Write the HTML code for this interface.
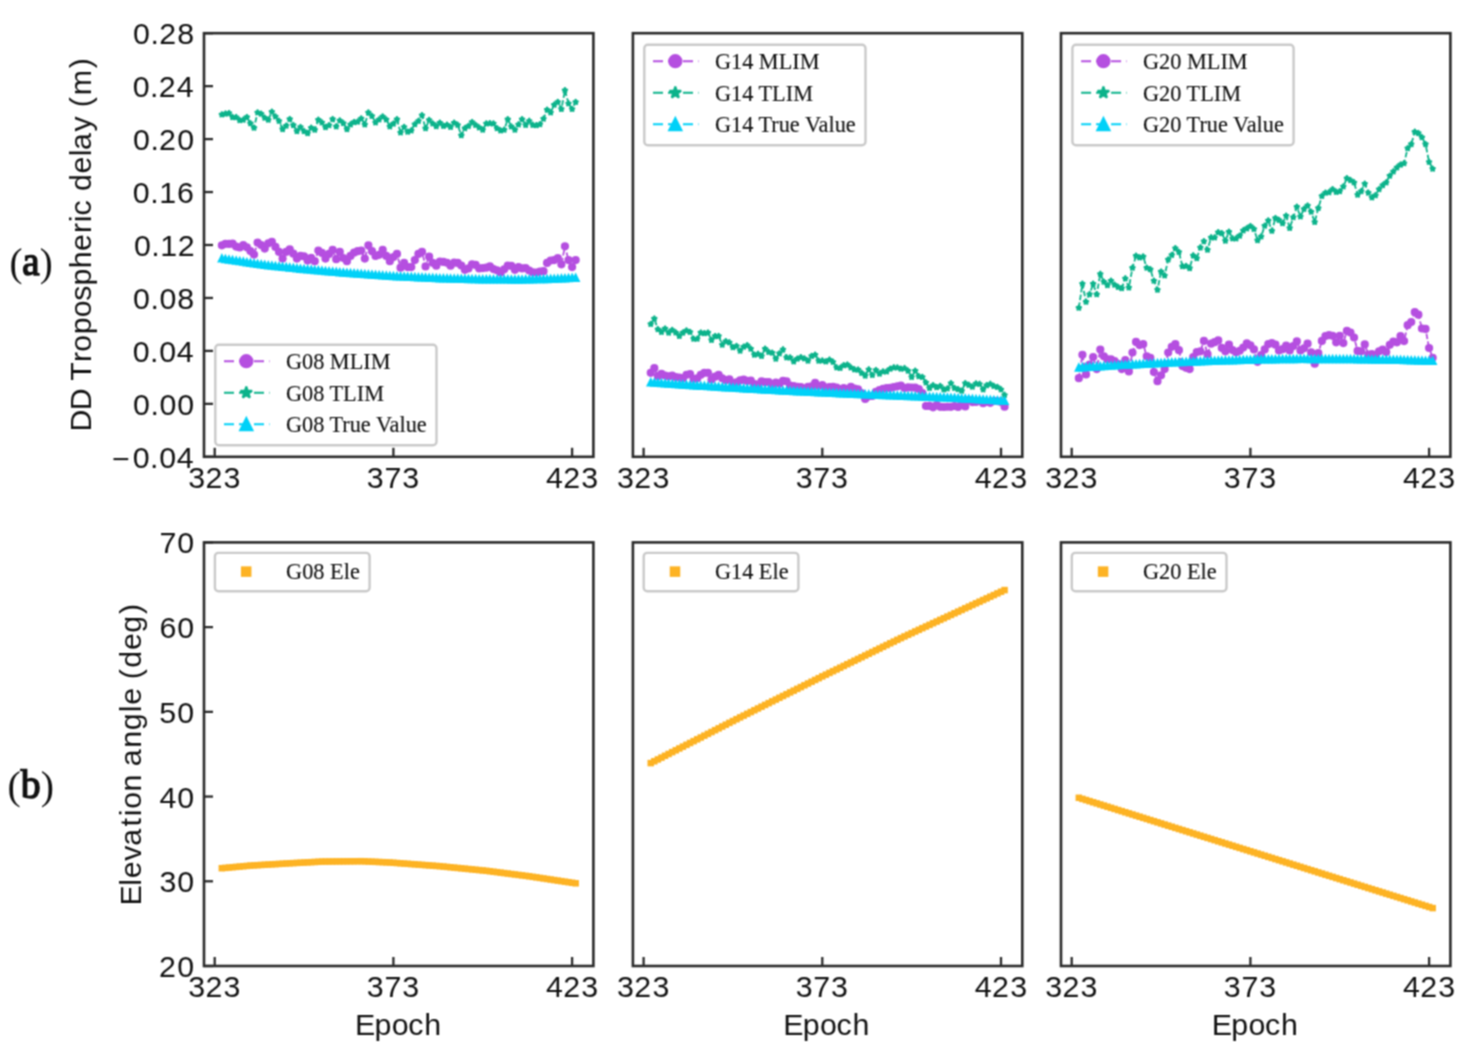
<!DOCTYPE html>
<html><head><meta charset="utf-8"><title>DD Tropospheric delay</title>
<style>html,body{margin:0;padding:0;background:#fff;}body{width:1474px;height:1060px;overflow:hidden;font-family:"Liberation Sans",sans-serif;}svg{display:block;;}</style>
</head><body>
<svg width="1474" height="1060" viewBox="0 0 1474 1060">
<filter id="soft" color-interpolation-filters="sRGB" x="0" y="0" width="100%" height="100%" filterUnits="userSpaceOnUse"><feConvolveMatrix order="3" kernelMatrix="0.2500 0.5000 0.2500 0.5000 1.0000 0.5000 0.2500 0.5000 0.2500" edgeMode="duplicate" preserveAlpha="true"/></filter>
<rect width="1474" height="1060" fill="#fff"/>
<g filter="url(#soft)">
<rect width="1474" height="1060" fill="#fff"/>
<defs>
<clipPath id="cp00"><rect x="204.0" y="33.2" width="389.4" height="423.6"/></clipPath>
<clipPath id="cp01"><rect x="632.9" y="33.2" width="389.4" height="423.6"/></clipPath>
<clipPath id="cp02"><rect x="1061.0" y="33.2" width="389.4" height="423.6"/></clipPath>
<clipPath id="cp10"><rect x="204.0" y="542.4" width="389.4" height="423.6"/></clipPath>
<clipPath id="cp11"><rect x="632.9" y="542.4" width="389.4" height="423.6"/></clipPath>
<clipPath id="cp12"><rect x="1061.0" y="542.4" width="389.4" height="423.6"/></clipPath>
</defs>
<g clip-path="url(#cp00)">
<polyline points="221.85,245.30 225.42,243.82 229.00,243.90 232.57,243.71 236.14,246.60 239.72,247.50 243.29,245.19 246.87,247.30 250.44,251.11 254.01,254.60 257.59,242.60 261.16,245.01 264.74,248.60 268.31,243.31 271.88,241.90 275.46,246.93 279.03,251.90 282.61,258.60 286.18,251.91 289.75,249.30 293.33,253.66 296.90,258.60 300.48,255.90 304.05,256.36 307.62,260.60 311.20,257.90 314.77,261.20 318.35,250.60 321.92,252.80 325.49,258.60 329.07,253.92 332.64,249.90 336.22,259.20 339.79,251.90 343.36,257.99 346.94,261.20 350.51,255.90 354.09,252.48 357.66,251.15 361.23,250.60 364.81,258.60 368.38,245.30 371.96,251.16 375.53,255.90 379.10,254.87 382.68,249.90 386.25,255.89 389.83,261.20 393.40,257.10 396.97,253.90 400.55,267.70 404.12,262.90 407.70,267.10 411.27,267.10 414.84,260.10 418.42,253.95 421.99,251.80 425.57,266.40 429.14,256.70 432.71,262.78 436.29,265.70 439.86,261.50 443.44,261.97 447.01,262.73 450.58,265.70 454.16,262.62 457.73,262.90 461.31,265.51 464.88,269.80 468.45,268.44 472.03,264.30 475.60,264.95 479.18,268.40 482.75,268.09 486.32,267.68 489.90,266.40 493.47,269.10 497.05,270.29 500.62,272.60 504.19,269.36 507.77,265.70 511.34,265.83 514.92,269.80 518.49,267.16 522.06,268.40 525.64,268.16 529.21,270.50 532.79,272.34 536.36,272.60 539.93,271.58 543.51,271.20 547.08,262.90 550.66,260.48 554.23,260.08 557.80,258.10 561.38,264.30 564.95,246.30 568.53,260.10 572.10,267.10 575.67,260.10" fill="none" stroke="#b54fe0" stroke-width="1.8" stroke-dasharray="5.5,2.4"/>
<circle cx="221.85" cy="245.30" r="3.05" fill="#b54fe0" stroke="#b54fe0" stroke-width="2.1"/>
<circle cx="225.42" cy="243.82" r="3.05" fill="#b54fe0" stroke="#b54fe0" stroke-width="2.1"/>
<circle cx="229.00" cy="243.90" r="3.05" fill="#b54fe0" stroke="#b54fe0" stroke-width="2.1"/>
<circle cx="232.57" cy="243.71" r="3.05" fill="#b54fe0" stroke="#b54fe0" stroke-width="2.1"/>
<circle cx="236.14" cy="246.60" r="3.05" fill="#b54fe0" stroke="#b54fe0" stroke-width="2.1"/>
<circle cx="239.72" cy="247.50" r="3.05" fill="#b54fe0" stroke="#b54fe0" stroke-width="2.1"/>
<circle cx="243.29" cy="245.19" r="3.05" fill="#b54fe0" stroke="#b54fe0" stroke-width="2.1"/>
<circle cx="246.87" cy="247.30" r="3.05" fill="#b54fe0" stroke="#b54fe0" stroke-width="2.1"/>
<circle cx="250.44" cy="251.11" r="3.05" fill="#b54fe0" stroke="#b54fe0" stroke-width="2.1"/>
<circle cx="254.01" cy="254.60" r="3.05" fill="#b54fe0" stroke="#b54fe0" stroke-width="2.1"/>
<circle cx="257.59" cy="242.60" r="3.05" fill="#b54fe0" stroke="#b54fe0" stroke-width="2.1"/>
<circle cx="261.16" cy="245.01" r="3.05" fill="#b54fe0" stroke="#b54fe0" stroke-width="2.1"/>
<circle cx="264.74" cy="248.60" r="3.05" fill="#b54fe0" stroke="#b54fe0" stroke-width="2.1"/>
<circle cx="268.31" cy="243.31" r="3.05" fill="#b54fe0" stroke="#b54fe0" stroke-width="2.1"/>
<circle cx="271.88" cy="241.90" r="3.05" fill="#b54fe0" stroke="#b54fe0" stroke-width="2.1"/>
<circle cx="275.46" cy="246.93" r="3.05" fill="#b54fe0" stroke="#b54fe0" stroke-width="2.1"/>
<circle cx="279.03" cy="251.90" r="3.05" fill="#b54fe0" stroke="#b54fe0" stroke-width="2.1"/>
<circle cx="282.61" cy="258.60" r="3.05" fill="#b54fe0" stroke="#b54fe0" stroke-width="2.1"/>
<circle cx="286.18" cy="251.91" r="3.05" fill="#b54fe0" stroke="#b54fe0" stroke-width="2.1"/>
<circle cx="289.75" cy="249.30" r="3.05" fill="#b54fe0" stroke="#b54fe0" stroke-width="2.1"/>
<circle cx="293.33" cy="253.66" r="3.05" fill="#b54fe0" stroke="#b54fe0" stroke-width="2.1"/>
<circle cx="296.90" cy="258.60" r="3.05" fill="#b54fe0" stroke="#b54fe0" stroke-width="2.1"/>
<circle cx="300.48" cy="255.90" r="3.05" fill="#b54fe0" stroke="#b54fe0" stroke-width="2.1"/>
<circle cx="304.05" cy="256.36" r="3.05" fill="#b54fe0" stroke="#b54fe0" stroke-width="2.1"/>
<circle cx="307.62" cy="260.60" r="3.05" fill="#b54fe0" stroke="#b54fe0" stroke-width="2.1"/>
<circle cx="311.20" cy="257.90" r="3.05" fill="#b54fe0" stroke="#b54fe0" stroke-width="2.1"/>
<circle cx="314.77" cy="261.20" r="3.05" fill="#b54fe0" stroke="#b54fe0" stroke-width="2.1"/>
<circle cx="318.35" cy="250.60" r="3.05" fill="#b54fe0" stroke="#b54fe0" stroke-width="2.1"/>
<circle cx="321.92" cy="252.80" r="3.05" fill="#b54fe0" stroke="#b54fe0" stroke-width="2.1"/>
<circle cx="325.49" cy="258.60" r="3.05" fill="#b54fe0" stroke="#b54fe0" stroke-width="2.1"/>
<circle cx="329.07" cy="253.92" r="3.05" fill="#b54fe0" stroke="#b54fe0" stroke-width="2.1"/>
<circle cx="332.64" cy="249.90" r="3.05" fill="#b54fe0" stroke="#b54fe0" stroke-width="2.1"/>
<circle cx="336.22" cy="259.20" r="3.05" fill="#b54fe0" stroke="#b54fe0" stroke-width="2.1"/>
<circle cx="339.79" cy="251.90" r="3.05" fill="#b54fe0" stroke="#b54fe0" stroke-width="2.1"/>
<circle cx="343.36" cy="257.99" r="3.05" fill="#b54fe0" stroke="#b54fe0" stroke-width="2.1"/>
<circle cx="346.94" cy="261.20" r="3.05" fill="#b54fe0" stroke="#b54fe0" stroke-width="2.1"/>
<circle cx="350.51" cy="255.90" r="3.05" fill="#b54fe0" stroke="#b54fe0" stroke-width="2.1"/>
<circle cx="354.09" cy="252.48" r="3.05" fill="#b54fe0" stroke="#b54fe0" stroke-width="2.1"/>
<circle cx="357.66" cy="251.15" r="3.05" fill="#b54fe0" stroke="#b54fe0" stroke-width="2.1"/>
<circle cx="361.23" cy="250.60" r="3.05" fill="#b54fe0" stroke="#b54fe0" stroke-width="2.1"/>
<circle cx="364.81" cy="258.60" r="3.05" fill="#b54fe0" stroke="#b54fe0" stroke-width="2.1"/>
<circle cx="368.38" cy="245.30" r="3.05" fill="#b54fe0" stroke="#b54fe0" stroke-width="2.1"/>
<circle cx="371.96" cy="251.16" r="3.05" fill="#b54fe0" stroke="#b54fe0" stroke-width="2.1"/>
<circle cx="375.53" cy="255.90" r="3.05" fill="#b54fe0" stroke="#b54fe0" stroke-width="2.1"/>
<circle cx="379.10" cy="254.87" r="3.05" fill="#b54fe0" stroke="#b54fe0" stroke-width="2.1"/>
<circle cx="382.68" cy="249.90" r="3.05" fill="#b54fe0" stroke="#b54fe0" stroke-width="2.1"/>
<circle cx="386.25" cy="255.89" r="3.05" fill="#b54fe0" stroke="#b54fe0" stroke-width="2.1"/>
<circle cx="389.83" cy="261.20" r="3.05" fill="#b54fe0" stroke="#b54fe0" stroke-width="2.1"/>
<circle cx="393.40" cy="257.10" r="3.05" fill="#b54fe0" stroke="#b54fe0" stroke-width="2.1"/>
<circle cx="396.97" cy="253.90" r="3.05" fill="#b54fe0" stroke="#b54fe0" stroke-width="2.1"/>
<circle cx="400.55" cy="267.70" r="3.05" fill="#b54fe0" stroke="#b54fe0" stroke-width="2.1"/>
<circle cx="404.12" cy="262.90" r="3.05" fill="#b54fe0" stroke="#b54fe0" stroke-width="2.1"/>
<circle cx="407.70" cy="267.10" r="3.05" fill="#b54fe0" stroke="#b54fe0" stroke-width="2.1"/>
<circle cx="411.27" cy="267.10" r="3.05" fill="#b54fe0" stroke="#b54fe0" stroke-width="2.1"/>
<circle cx="414.84" cy="260.10" r="3.05" fill="#b54fe0" stroke="#b54fe0" stroke-width="2.1"/>
<circle cx="418.42" cy="253.95" r="3.05" fill="#b54fe0" stroke="#b54fe0" stroke-width="2.1"/>
<circle cx="421.99" cy="251.80" r="3.05" fill="#b54fe0" stroke="#b54fe0" stroke-width="2.1"/>
<circle cx="425.57" cy="266.40" r="3.05" fill="#b54fe0" stroke="#b54fe0" stroke-width="2.1"/>
<circle cx="429.14" cy="256.70" r="3.05" fill="#b54fe0" stroke="#b54fe0" stroke-width="2.1"/>
<circle cx="432.71" cy="262.78" r="3.05" fill="#b54fe0" stroke="#b54fe0" stroke-width="2.1"/>
<circle cx="436.29" cy="265.70" r="3.05" fill="#b54fe0" stroke="#b54fe0" stroke-width="2.1"/>
<circle cx="439.86" cy="261.50" r="3.05" fill="#b54fe0" stroke="#b54fe0" stroke-width="2.1"/>
<circle cx="443.44" cy="261.97" r="3.05" fill="#b54fe0" stroke="#b54fe0" stroke-width="2.1"/>
<circle cx="447.01" cy="262.73" r="3.05" fill="#b54fe0" stroke="#b54fe0" stroke-width="2.1"/>
<circle cx="450.58" cy="265.70" r="3.05" fill="#b54fe0" stroke="#b54fe0" stroke-width="2.1"/>
<circle cx="454.16" cy="262.62" r="3.05" fill="#b54fe0" stroke="#b54fe0" stroke-width="2.1"/>
<circle cx="457.73" cy="262.90" r="3.05" fill="#b54fe0" stroke="#b54fe0" stroke-width="2.1"/>
<circle cx="461.31" cy="265.51" r="3.05" fill="#b54fe0" stroke="#b54fe0" stroke-width="2.1"/>
<circle cx="464.88" cy="269.80" r="3.05" fill="#b54fe0" stroke="#b54fe0" stroke-width="2.1"/>
<circle cx="468.45" cy="268.44" r="3.05" fill="#b54fe0" stroke="#b54fe0" stroke-width="2.1"/>
<circle cx="472.03" cy="264.30" r="3.05" fill="#b54fe0" stroke="#b54fe0" stroke-width="2.1"/>
<circle cx="475.60" cy="264.95" r="3.05" fill="#b54fe0" stroke="#b54fe0" stroke-width="2.1"/>
<circle cx="479.18" cy="268.40" r="3.05" fill="#b54fe0" stroke="#b54fe0" stroke-width="2.1"/>
<circle cx="482.75" cy="268.09" r="3.05" fill="#b54fe0" stroke="#b54fe0" stroke-width="2.1"/>
<circle cx="486.32" cy="267.68" r="3.05" fill="#b54fe0" stroke="#b54fe0" stroke-width="2.1"/>
<circle cx="489.90" cy="266.40" r="3.05" fill="#b54fe0" stroke="#b54fe0" stroke-width="2.1"/>
<circle cx="493.47" cy="269.10" r="3.05" fill="#b54fe0" stroke="#b54fe0" stroke-width="2.1"/>
<circle cx="497.05" cy="270.29" r="3.05" fill="#b54fe0" stroke="#b54fe0" stroke-width="2.1"/>
<circle cx="500.62" cy="272.60" r="3.05" fill="#b54fe0" stroke="#b54fe0" stroke-width="2.1"/>
<circle cx="504.19" cy="269.36" r="3.05" fill="#b54fe0" stroke="#b54fe0" stroke-width="2.1"/>
<circle cx="507.77" cy="265.70" r="3.05" fill="#b54fe0" stroke="#b54fe0" stroke-width="2.1"/>
<circle cx="511.34" cy="265.83" r="3.05" fill="#b54fe0" stroke="#b54fe0" stroke-width="2.1"/>
<circle cx="514.92" cy="269.80" r="3.05" fill="#b54fe0" stroke="#b54fe0" stroke-width="2.1"/>
<circle cx="518.49" cy="267.16" r="3.05" fill="#b54fe0" stroke="#b54fe0" stroke-width="2.1"/>
<circle cx="522.06" cy="268.40" r="3.05" fill="#b54fe0" stroke="#b54fe0" stroke-width="2.1"/>
<circle cx="525.64" cy="268.16" r="3.05" fill="#b54fe0" stroke="#b54fe0" stroke-width="2.1"/>
<circle cx="529.21" cy="270.50" r="3.05" fill="#b54fe0" stroke="#b54fe0" stroke-width="2.1"/>
<circle cx="532.79" cy="272.34" r="3.05" fill="#b54fe0" stroke="#b54fe0" stroke-width="2.1"/>
<circle cx="536.36" cy="272.60" r="3.05" fill="#b54fe0" stroke="#b54fe0" stroke-width="2.1"/>
<circle cx="539.93" cy="271.58" r="3.05" fill="#b54fe0" stroke="#b54fe0" stroke-width="2.1"/>
<circle cx="543.51" cy="271.20" r="3.05" fill="#b54fe0" stroke="#b54fe0" stroke-width="2.1"/>
<circle cx="547.08" cy="262.90" r="3.05" fill="#b54fe0" stroke="#b54fe0" stroke-width="2.1"/>
<circle cx="550.66" cy="260.48" r="3.05" fill="#b54fe0" stroke="#b54fe0" stroke-width="2.1"/>
<circle cx="554.23" cy="260.08" r="3.05" fill="#b54fe0" stroke="#b54fe0" stroke-width="2.1"/>
<circle cx="557.80" cy="258.10" r="3.05" fill="#b54fe0" stroke="#b54fe0" stroke-width="2.1"/>
<circle cx="561.38" cy="264.30" r="3.05" fill="#b54fe0" stroke="#b54fe0" stroke-width="2.1"/>
<circle cx="564.95" cy="246.30" r="3.05" fill="#b54fe0" stroke="#b54fe0" stroke-width="2.1"/>
<circle cx="568.53" cy="260.10" r="3.05" fill="#b54fe0" stroke="#b54fe0" stroke-width="2.1"/>
<circle cx="572.10" cy="267.10" r="3.05" fill="#b54fe0" stroke="#b54fe0" stroke-width="2.1"/>
<circle cx="575.67" cy="260.10" r="3.05" fill="#b54fe0" stroke="#b54fe0" stroke-width="2.1"/>
<polyline points="221.85,114.60 225.42,113.69 229.00,113.20 232.57,117.20 236.14,117.22 239.72,120.30 243.29,119.90 246.87,117.20 250.44,123.43 254.01,127.90 257.59,112.60 261.16,113.91 264.74,117.79 268.31,119.90 271.88,111.90 275.46,116.56 279.03,121.00 282.61,129.20 286.18,125.85 289.75,119.20 293.33,125.20 296.90,131.20 300.48,127.20 304.05,131.21 307.62,133.20 311.20,127.90 314.77,129.90 318.35,119.90 321.92,122.62 325.49,127.20 329.07,125.31 332.64,119.20 336.22,126.50 339.79,120.60 343.36,123.22 346.94,129.20 350.51,124.50 354.09,122.17 357.66,121.70 361.23,118.60 364.81,124.50 368.38,112.60 371.96,116.07 375.53,122.60 379.10,119.55 382.68,116.60 386.25,119.52 389.83,126.50 393.40,123.69 396.97,119.40 400.55,132.60 404.12,127.10 407.70,131.90 411.27,130.50 414.84,124.30 418.42,120.96 421.99,115.30 425.57,128.40 429.14,120.10 432.71,123.57 436.29,126.40 439.86,122.90 443.44,125.95 447.01,124.88 450.58,127.10 454.16,122.90 457.73,125.00 461.31,135.40 464.88,128.40 468.45,126.16 472.03,122.20 475.60,125.15 479.18,127.62 482.75,129.80 486.32,123.60 489.90,123.41 493.47,123.60 497.05,128.40 500.62,130.60 504.19,129.80 507.77,119.40 511.34,126.56 514.92,129.80 518.49,124.49 522.06,119.40 525.64,125.00 529.21,121.00 532.79,125.00 536.36,125.37 539.93,124.30 543.51,118.80 547.08,109.80 550.66,112.50 554.23,104.90 557.80,102.10 561.38,109.10 564.95,90.40 568.53,103.50 572.10,109.10 575.67,102.10" fill="none" stroke="#0cb38b" stroke-width="1.8" stroke-dasharray="5.5,2.4"/>
<polygon points="221.85,112.40 221.35,113.92 219.76,113.92 221.05,114.86 220.55,116.38 221.85,115.44 223.14,116.38 222.65,114.86 223.94,113.92 222.34,113.92" fill="#0cb38b" stroke="#0cb38b" stroke-width="2.3" stroke-linejoin="round"/>
<polygon points="225.42,111.49 224.93,113.01 223.33,113.01 224.62,113.95 224.13,115.47 225.42,114.53 226.72,115.47 226.22,113.95 227.51,113.01 225.92,113.01" fill="#0cb38b" stroke="#0cb38b" stroke-width="2.3" stroke-linejoin="round"/>
<polygon points="229.00,111.00 228.50,112.52 226.90,112.52 228.20,113.46 227.70,114.98 229.00,114.04 230.29,114.98 229.80,113.46 231.09,112.52 229.49,112.52" fill="#0cb38b" stroke="#0cb38b" stroke-width="2.3" stroke-linejoin="round"/>
<polygon points="232.57,115.00 232.08,116.52 230.48,116.52 231.77,117.46 231.28,118.98 232.57,118.04 233.86,118.98 233.37,117.46 234.66,116.52 233.06,116.52" fill="#0cb38b" stroke="#0cb38b" stroke-width="2.3" stroke-linejoin="round"/>
<polygon points="236.14,115.02 235.65,116.54 234.05,116.54 235.34,117.48 234.85,119.00 236.14,118.06 237.44,119.00 236.94,117.48 238.24,116.54 236.64,116.54" fill="#0cb38b" stroke="#0cb38b" stroke-width="2.3" stroke-linejoin="round"/>
<polygon points="239.72,118.10 239.22,119.62 237.63,119.62 238.92,120.55 238.42,122.08 239.72,121.14 241.01,122.08 240.52,120.55 241.81,119.62 240.21,119.62" fill="#0cb38b" stroke="#0cb38b" stroke-width="2.3" stroke-linejoin="round"/>
<polygon points="243.29,117.70 242.80,119.22 241.20,119.22 242.49,120.16 242.00,121.68 243.29,120.74 244.59,121.68 244.09,120.16 245.38,119.22 243.79,119.22" fill="#0cb38b" stroke="#0cb38b" stroke-width="2.3" stroke-linejoin="round"/>
<polygon points="246.87,115.00 246.37,116.52 244.77,116.52 246.07,117.46 245.57,118.98 246.87,118.04 248.16,118.98 247.67,117.46 248.96,116.52 247.36,116.52" fill="#0cb38b" stroke="#0cb38b" stroke-width="2.3" stroke-linejoin="round"/>
<polygon points="250.44,121.23 249.95,122.75 248.35,122.75 249.64,123.69 249.15,125.21 250.44,124.27 251.73,125.21 251.24,123.69 252.53,122.75 250.93,122.75" fill="#0cb38b" stroke="#0cb38b" stroke-width="2.3" stroke-linejoin="round"/>
<polygon points="254.01,125.70 253.52,127.22 251.92,127.22 253.21,128.16 252.72,129.68 254.01,128.74 255.31,129.68 254.81,128.16 256.11,127.22 254.51,127.22" fill="#0cb38b" stroke="#0cb38b" stroke-width="2.3" stroke-linejoin="round"/>
<polygon points="257.59,110.40 257.09,111.92 255.50,111.92 256.79,112.86 256.29,114.38 257.59,113.44 258.88,114.38 258.39,112.86 259.68,111.92 258.08,111.92" fill="#0cb38b" stroke="#0cb38b" stroke-width="2.3" stroke-linejoin="round"/>
<polygon points="261.16,111.71 260.67,113.23 259.07,113.23 260.36,114.17 259.87,115.69 261.16,114.75 262.46,115.69 261.96,114.17 263.25,113.23 261.66,113.23" fill="#0cb38b" stroke="#0cb38b" stroke-width="2.3" stroke-linejoin="round"/>
<polygon points="264.74,115.59 264.24,117.11 262.64,117.11 263.94,118.05 263.44,119.57 264.74,118.63 266.03,119.57 265.54,118.05 266.83,117.11 265.23,117.11" fill="#0cb38b" stroke="#0cb38b" stroke-width="2.3" stroke-linejoin="round"/>
<polygon points="268.31,117.70 267.82,119.22 266.22,119.22 267.51,120.16 267.02,121.68 268.31,120.74 269.60,121.68 269.11,120.16 270.40,119.22 268.80,119.22" fill="#0cb38b" stroke="#0cb38b" stroke-width="2.3" stroke-linejoin="round"/>
<polygon points="271.88,109.70 271.39,111.22 269.79,111.22 271.08,112.16 270.59,113.68 271.88,112.74 273.18,113.68 272.68,112.16 273.98,111.22 272.38,111.22" fill="#0cb38b" stroke="#0cb38b" stroke-width="2.3" stroke-linejoin="round"/>
<polygon points="275.46,114.36 274.96,115.88 273.37,115.88 274.66,116.82 274.16,118.34 275.46,117.40 276.75,118.34 276.26,116.82 277.55,115.88 275.95,115.88" fill="#0cb38b" stroke="#0cb38b" stroke-width="2.3" stroke-linejoin="round"/>
<polygon points="279.03,118.80 278.54,120.32 276.94,120.32 278.23,121.26 277.74,122.78 279.03,121.84 280.33,122.78 279.83,121.26 281.12,120.32 279.53,120.32" fill="#0cb38b" stroke="#0cb38b" stroke-width="2.3" stroke-linejoin="round"/>
<polygon points="282.61,127.00 282.11,128.52 280.51,128.52 281.81,129.46 281.31,130.98 282.61,130.04 283.90,130.98 283.41,129.46 284.70,128.52 283.10,128.52" fill="#0cb38b" stroke="#0cb38b" stroke-width="2.3" stroke-linejoin="round"/>
<polygon points="286.18,123.65 285.69,125.17 284.09,125.17 285.38,126.11 284.89,127.63 286.18,126.69 287.47,127.63 286.98,126.11 288.27,125.17 286.67,125.17" fill="#0cb38b" stroke="#0cb38b" stroke-width="2.3" stroke-linejoin="round"/>
<polygon points="289.75,117.00 289.26,118.52 287.66,118.52 288.95,119.46 288.46,120.98 289.75,120.04 291.05,120.98 290.55,119.46 291.85,118.52 290.25,118.52" fill="#0cb38b" stroke="#0cb38b" stroke-width="2.3" stroke-linejoin="round"/>
<polygon points="293.33,123.00 292.83,124.52 291.24,124.52 292.53,125.46 292.03,126.98 293.33,126.04 294.62,126.98 294.13,125.46 295.42,124.52 293.82,124.52" fill="#0cb38b" stroke="#0cb38b" stroke-width="2.3" stroke-linejoin="round"/>
<polygon points="296.90,129.00 296.41,130.52 294.81,130.52 296.10,131.46 295.61,132.98 296.90,132.04 298.20,132.98 297.70,131.46 298.99,130.52 297.40,130.52" fill="#0cb38b" stroke="#0cb38b" stroke-width="2.3" stroke-linejoin="round"/>
<polygon points="300.48,125.00 299.98,126.52 298.38,126.52 299.68,127.46 299.18,128.98 300.48,128.04 301.77,128.98 301.28,127.46 302.57,126.52 300.97,126.52" fill="#0cb38b" stroke="#0cb38b" stroke-width="2.3" stroke-linejoin="round"/>
<polygon points="304.05,129.01 303.56,130.53 301.96,130.53 303.25,131.47 302.76,132.99 304.05,132.05 305.34,132.99 304.85,131.47 306.14,130.53 304.54,130.53" fill="#0cb38b" stroke="#0cb38b" stroke-width="2.3" stroke-linejoin="round"/>
<polygon points="307.62,131.00 307.13,132.52 305.53,132.52 306.82,133.46 306.33,134.98 307.62,134.04 308.92,134.98 308.42,133.46 309.72,132.52 308.12,132.52" fill="#0cb38b" stroke="#0cb38b" stroke-width="2.3" stroke-linejoin="round"/>
<polygon points="311.20,125.70 310.70,127.22 309.11,127.22 310.40,128.16 309.90,129.68 311.20,128.74 312.49,129.68 312.00,128.16 313.29,127.22 311.69,127.22" fill="#0cb38b" stroke="#0cb38b" stroke-width="2.3" stroke-linejoin="round"/>
<polygon points="314.77,127.70 314.28,129.22 312.68,129.22 313.97,130.16 313.48,131.68 314.77,130.74 316.07,131.68 315.57,130.16 316.86,129.22 315.27,129.22" fill="#0cb38b" stroke="#0cb38b" stroke-width="2.3" stroke-linejoin="round"/>
<polygon points="318.35,117.70 317.85,119.22 316.25,119.22 317.55,120.16 317.05,121.68 318.35,120.74 319.64,121.68 319.15,120.16 320.44,119.22 318.84,119.22" fill="#0cb38b" stroke="#0cb38b" stroke-width="2.3" stroke-linejoin="round"/>
<polygon points="321.92,120.42 321.43,121.94 319.83,121.94 321.12,122.88 320.63,124.40 321.92,123.46 323.21,124.40 322.72,122.88 324.01,121.94 322.41,121.94" fill="#0cb38b" stroke="#0cb38b" stroke-width="2.3" stroke-linejoin="round"/>
<polygon points="325.49,125.00 325.00,126.52 323.40,126.52 324.69,127.46 324.20,128.98 325.49,128.04 326.79,128.98 326.29,127.46 327.59,126.52 325.99,126.52" fill="#0cb38b" stroke="#0cb38b" stroke-width="2.3" stroke-linejoin="round"/>
<polygon points="329.07,123.11 328.57,124.63 326.98,124.63 328.27,125.57 327.77,127.09 329.07,126.15 330.36,127.09 329.87,125.57 331.16,124.63 329.56,124.63" fill="#0cb38b" stroke="#0cb38b" stroke-width="2.3" stroke-linejoin="round"/>
<polygon points="332.64,117.00 332.15,118.52 330.55,118.52 331.84,119.46 331.35,120.98 332.64,120.04 333.94,120.98 333.44,119.46 334.73,118.52 333.14,118.52" fill="#0cb38b" stroke="#0cb38b" stroke-width="2.3" stroke-linejoin="round"/>
<polygon points="336.22,124.30 335.72,125.82 334.12,125.82 335.42,126.76 334.92,128.28 336.22,127.34 337.51,128.28 337.02,126.76 338.31,125.82 336.71,125.82" fill="#0cb38b" stroke="#0cb38b" stroke-width="2.3" stroke-linejoin="round"/>
<polygon points="339.79,118.40 339.30,119.92 337.70,119.92 338.99,120.86 338.50,122.38 339.79,121.44 341.08,122.38 340.59,120.86 341.88,119.92 340.28,119.92" fill="#0cb38b" stroke="#0cb38b" stroke-width="2.3" stroke-linejoin="round"/>
<polygon points="343.36,121.02 342.87,122.54 341.27,122.54 342.56,123.48 342.07,125.00 343.36,124.06 344.66,125.00 344.16,123.48 345.46,122.54 343.86,122.54" fill="#0cb38b" stroke="#0cb38b" stroke-width="2.3" stroke-linejoin="round"/>
<polygon points="346.94,127.00 346.44,128.52 344.85,128.52 346.14,129.46 345.64,130.98 346.94,130.04 348.23,130.98 347.74,129.46 349.03,128.52 347.43,128.52" fill="#0cb38b" stroke="#0cb38b" stroke-width="2.3" stroke-linejoin="round"/>
<polygon points="350.51,122.30 350.02,123.82 348.42,123.82 349.71,124.76 349.22,126.28 350.51,125.34 351.81,126.28 351.31,124.76 352.60,123.82 351.01,123.82" fill="#0cb38b" stroke="#0cb38b" stroke-width="2.3" stroke-linejoin="round"/>
<polygon points="354.09,119.97 353.59,121.49 351.99,121.49 353.29,122.43 352.79,123.95 354.09,123.01 355.38,123.95 354.89,122.43 356.18,121.49 354.58,121.49" fill="#0cb38b" stroke="#0cb38b" stroke-width="2.3" stroke-linejoin="round"/>
<polygon points="357.66,119.50 357.17,121.02 355.57,121.02 356.86,121.96 356.37,123.48 357.66,122.54 358.95,123.48 358.46,121.96 359.75,121.02 358.15,121.02" fill="#0cb38b" stroke="#0cb38b" stroke-width="2.3" stroke-linejoin="round"/>
<polygon points="361.23,116.40 360.74,117.92 359.14,117.92 360.43,118.86 359.94,120.38 361.23,119.44 362.53,120.38 362.03,118.86 363.33,117.92 361.73,117.92" fill="#0cb38b" stroke="#0cb38b" stroke-width="2.3" stroke-linejoin="round"/>
<polygon points="364.81,122.30 364.31,123.82 362.72,123.82 364.01,124.76 363.51,126.28 364.81,125.34 366.10,126.28 365.61,124.76 366.90,123.82 365.30,123.82" fill="#0cb38b" stroke="#0cb38b" stroke-width="2.3" stroke-linejoin="round"/>
<polygon points="368.38,110.40 367.89,111.92 366.29,111.92 367.58,112.86 367.09,114.38 368.38,113.44 369.68,114.38 369.18,112.86 370.47,111.92 368.88,111.92" fill="#0cb38b" stroke="#0cb38b" stroke-width="2.3" stroke-linejoin="round"/>
<polygon points="371.96,113.87 371.46,115.39 369.86,115.39 371.16,116.33 370.66,117.85 371.96,116.91 373.25,117.85 372.76,116.33 374.05,115.39 372.45,115.39" fill="#0cb38b" stroke="#0cb38b" stroke-width="2.3" stroke-linejoin="round"/>
<polygon points="375.53,120.40 375.04,121.92 373.44,121.92 374.73,122.86 374.24,124.38 375.53,123.44 376.82,124.38 376.33,122.86 377.62,121.92 376.02,121.92" fill="#0cb38b" stroke="#0cb38b" stroke-width="2.3" stroke-linejoin="round"/>
<polygon points="379.10,117.35 378.61,118.87 377.01,118.87 378.30,119.81 377.81,121.33 379.10,120.39 380.40,121.33 379.90,119.81 381.20,118.87 379.60,118.87" fill="#0cb38b" stroke="#0cb38b" stroke-width="2.3" stroke-linejoin="round"/>
<polygon points="382.68,114.40 382.18,115.92 380.59,115.92 381.88,116.86 381.38,118.38 382.68,117.44 383.97,118.38 383.48,116.86 384.77,115.92 383.17,115.92" fill="#0cb38b" stroke="#0cb38b" stroke-width="2.3" stroke-linejoin="round"/>
<polygon points="386.25,117.32 385.76,118.84 384.16,118.84 385.45,119.78 384.96,121.30 386.25,120.36 387.55,121.30 387.05,119.78 388.34,118.84 386.75,118.84" fill="#0cb38b" stroke="#0cb38b" stroke-width="2.3" stroke-linejoin="round"/>
<polygon points="389.83,124.30 389.33,125.82 387.73,125.82 389.03,126.76 388.53,128.28 389.83,127.34 391.12,128.28 390.63,126.76 391.92,125.82 390.32,125.82" fill="#0cb38b" stroke="#0cb38b" stroke-width="2.3" stroke-linejoin="round"/>
<polygon points="393.40,121.49 392.91,123.01 391.31,123.01 392.60,123.95 392.11,125.47 393.40,124.53 394.69,125.47 394.20,123.95 395.49,123.01 393.89,123.01" fill="#0cb38b" stroke="#0cb38b" stroke-width="2.3" stroke-linejoin="round"/>
<polygon points="396.97,117.20 396.48,118.72 394.88,118.72 396.17,119.66 395.68,121.18 396.97,120.24 398.27,121.18 397.77,119.66 399.07,118.72 397.47,118.72" fill="#0cb38b" stroke="#0cb38b" stroke-width="2.3" stroke-linejoin="round"/>
<polygon points="400.55,130.40 400.05,131.92 398.46,131.92 399.75,132.86 399.25,134.38 400.55,133.44 401.84,134.38 401.35,132.86 402.64,131.92 401.04,131.92" fill="#0cb38b" stroke="#0cb38b" stroke-width="2.3" stroke-linejoin="round"/>
<polygon points="404.12,124.90 403.63,126.42 402.03,126.42 403.32,127.36 402.83,128.88 404.12,127.94 405.42,128.88 404.92,127.36 406.21,126.42 404.62,126.42" fill="#0cb38b" stroke="#0cb38b" stroke-width="2.3" stroke-linejoin="round"/>
<polygon points="407.70,129.70 407.20,131.22 405.60,131.22 406.90,132.16 406.40,133.68 407.70,132.74 408.99,133.68 408.50,132.16 409.79,131.22 408.19,131.22" fill="#0cb38b" stroke="#0cb38b" stroke-width="2.3" stroke-linejoin="round"/>
<polygon points="411.27,128.30 410.78,129.82 409.18,129.82 410.47,130.76 409.98,132.28 411.27,131.34 412.56,132.28 412.07,130.76 413.36,129.82 411.76,129.82" fill="#0cb38b" stroke="#0cb38b" stroke-width="2.3" stroke-linejoin="round"/>
<polygon points="414.84,122.10 414.35,123.62 412.75,123.62 414.04,124.56 413.55,126.08 414.84,125.14 416.14,126.08 415.64,124.56 416.94,123.62 415.34,123.62" fill="#0cb38b" stroke="#0cb38b" stroke-width="2.3" stroke-linejoin="round"/>
<polygon points="418.42,118.76 417.92,120.28 416.33,120.28 417.62,121.22 417.12,122.74 418.42,121.80 419.71,122.74 419.22,121.22 420.51,120.28 418.91,120.28" fill="#0cb38b" stroke="#0cb38b" stroke-width="2.3" stroke-linejoin="round"/>
<polygon points="421.99,113.10 421.50,114.62 419.90,114.62 421.19,115.56 420.70,117.08 421.99,116.14 423.29,117.08 422.79,115.56 424.08,114.62 422.49,114.62" fill="#0cb38b" stroke="#0cb38b" stroke-width="2.3" stroke-linejoin="round"/>
<polygon points="425.57,126.20 425.07,127.72 423.47,127.72 424.77,128.66 424.27,130.18 425.57,129.24 426.86,130.18 426.37,128.66 427.66,127.72 426.06,127.72" fill="#0cb38b" stroke="#0cb38b" stroke-width="2.3" stroke-linejoin="round"/>
<polygon points="429.14,117.90 428.65,119.42 427.05,119.42 428.34,120.36 427.85,121.88 429.14,120.94 430.43,121.88 429.94,120.36 431.23,119.42 429.63,119.42" fill="#0cb38b" stroke="#0cb38b" stroke-width="2.3" stroke-linejoin="round"/>
<polygon points="432.71,121.37 432.22,122.89 430.62,122.89 431.91,123.83 431.42,125.35 432.71,124.41 434.01,125.35 433.51,123.83 434.81,122.89 433.21,122.89" fill="#0cb38b" stroke="#0cb38b" stroke-width="2.3" stroke-linejoin="round"/>
<polygon points="436.29,124.20 435.79,125.72 434.20,125.72 435.49,126.66 434.99,128.18 436.29,127.24 437.58,128.18 437.09,126.66 438.38,125.72 436.78,125.72" fill="#0cb38b" stroke="#0cb38b" stroke-width="2.3" stroke-linejoin="round"/>
<polygon points="439.86,120.70 439.37,122.22 437.77,122.22 439.06,123.16 438.57,124.68 439.86,123.74 441.16,124.68 440.66,123.16 441.95,122.22 440.36,122.22" fill="#0cb38b" stroke="#0cb38b" stroke-width="2.3" stroke-linejoin="round"/>
<polygon points="443.44,123.75 442.94,125.27 441.34,125.27 442.64,126.21 442.14,127.73 443.44,126.79 444.73,127.73 444.24,126.21 445.53,125.27 443.93,125.27" fill="#0cb38b" stroke="#0cb38b" stroke-width="2.3" stroke-linejoin="round"/>
<polygon points="447.01,122.68 446.52,124.20 444.92,124.20 446.21,125.14 445.72,126.66 447.01,125.72 448.30,126.66 447.81,125.14 449.10,124.20 447.50,124.20" fill="#0cb38b" stroke="#0cb38b" stroke-width="2.3" stroke-linejoin="round"/>
<polygon points="450.58,124.90 450.09,126.42 448.49,126.42 449.78,127.36 449.29,128.88 450.58,127.94 451.88,128.88 451.38,127.36 452.68,126.42 451.08,126.42" fill="#0cb38b" stroke="#0cb38b" stroke-width="2.3" stroke-linejoin="round"/>
<polygon points="454.16,120.70 453.66,122.22 452.07,122.22 453.36,123.16 452.86,124.68 454.16,123.74 455.45,124.68 454.96,123.16 456.25,122.22 454.65,122.22" fill="#0cb38b" stroke="#0cb38b" stroke-width="2.3" stroke-linejoin="round"/>
<polygon points="457.73,122.80 457.24,124.32 455.64,124.32 456.93,125.26 456.44,126.78 457.73,125.84 459.03,126.78 458.53,125.26 459.82,124.32 458.23,124.32" fill="#0cb38b" stroke="#0cb38b" stroke-width="2.3" stroke-linejoin="round"/>
<polygon points="461.31,133.20 460.81,134.72 459.21,134.72 460.51,135.66 460.01,137.18 461.31,136.24 462.60,137.18 462.11,135.66 463.40,134.72 461.80,134.72" fill="#0cb38b" stroke="#0cb38b" stroke-width="2.3" stroke-linejoin="round"/>
<polygon points="464.88,126.20 464.39,127.72 462.79,127.72 464.08,128.66 463.59,130.18 464.88,129.24 466.17,130.18 465.68,128.66 466.97,127.72 465.37,127.72" fill="#0cb38b" stroke="#0cb38b" stroke-width="2.3" stroke-linejoin="round"/>
<polygon points="468.45,123.96 467.96,125.48 466.36,125.48 467.65,126.42 467.16,127.94 468.45,127.00 469.75,127.94 469.25,126.42 470.55,125.48 468.95,125.48" fill="#0cb38b" stroke="#0cb38b" stroke-width="2.3" stroke-linejoin="round"/>
<polygon points="472.03,120.00 471.53,121.52 469.94,121.52 471.23,122.46 470.73,123.98 472.03,123.04 473.32,123.98 472.83,122.46 474.12,121.52 472.52,121.52" fill="#0cb38b" stroke="#0cb38b" stroke-width="2.3" stroke-linejoin="round"/>
<polygon points="475.60,122.95 475.11,124.47 473.51,124.47 474.80,125.41 474.31,126.93 475.60,125.99 476.90,126.93 476.40,125.41 477.69,124.47 476.10,124.47" fill="#0cb38b" stroke="#0cb38b" stroke-width="2.3" stroke-linejoin="round"/>
<polygon points="479.18,125.42 478.68,126.94 477.08,126.94 478.38,127.88 477.88,129.40 479.18,128.46 480.47,129.40 479.98,127.88 481.27,126.94 479.67,126.94" fill="#0cb38b" stroke="#0cb38b" stroke-width="2.3" stroke-linejoin="round"/>
<polygon points="482.75,127.60 482.26,129.12 480.66,129.12 481.95,130.06 481.46,131.58 482.75,130.64 484.04,131.58 483.55,130.06 484.84,129.12 483.24,129.12" fill="#0cb38b" stroke="#0cb38b" stroke-width="2.3" stroke-linejoin="round"/>
<polygon points="486.32,121.40 485.83,122.92 484.23,122.92 485.52,123.86 485.03,125.38 486.32,124.44 487.62,125.38 487.12,123.86 488.42,122.92 486.82,122.92" fill="#0cb38b" stroke="#0cb38b" stroke-width="2.3" stroke-linejoin="round"/>
<polygon points="489.90,121.21 489.40,122.73 487.81,122.73 489.10,123.67 488.60,125.19 489.90,124.25 491.19,125.19 490.70,123.67 491.99,122.73 490.39,122.73" fill="#0cb38b" stroke="#0cb38b" stroke-width="2.3" stroke-linejoin="round"/>
<polygon points="493.47,121.40 492.98,122.92 491.38,122.92 492.67,123.86 492.18,125.38 493.47,124.44 494.77,125.38 494.27,123.86 495.56,122.92 493.97,122.92" fill="#0cb38b" stroke="#0cb38b" stroke-width="2.3" stroke-linejoin="round"/>
<polygon points="497.05,126.20 496.55,127.72 494.95,127.72 496.25,128.66 495.75,130.18 497.05,129.24 498.34,130.18 497.85,128.66 499.14,127.72 497.54,127.72" fill="#0cb38b" stroke="#0cb38b" stroke-width="2.3" stroke-linejoin="round"/>
<polygon points="500.62,128.40 500.13,129.92 498.53,129.92 499.82,130.86 499.33,132.38 500.62,131.44 501.91,132.38 501.42,130.86 502.71,129.92 501.11,129.92" fill="#0cb38b" stroke="#0cb38b" stroke-width="2.3" stroke-linejoin="round"/>
<polygon points="504.19,127.60 503.70,129.12 502.10,129.12 503.39,130.06 502.90,131.58 504.19,130.64 505.49,131.58 504.99,130.06 506.29,129.12 504.69,129.12" fill="#0cb38b" stroke="#0cb38b" stroke-width="2.3" stroke-linejoin="round"/>
<polygon points="507.77,117.20 507.27,118.72 505.68,118.72 506.97,119.66 506.47,121.18 507.77,120.24 509.06,121.18 508.57,119.66 509.86,118.72 508.26,118.72" fill="#0cb38b" stroke="#0cb38b" stroke-width="2.3" stroke-linejoin="round"/>
<polygon points="511.34,124.36 510.85,125.88 509.25,125.88 510.54,126.82 510.05,128.34 511.34,127.40 512.64,128.34 512.14,126.82 513.43,125.88 511.84,125.88" fill="#0cb38b" stroke="#0cb38b" stroke-width="2.3" stroke-linejoin="round"/>
<polygon points="514.92,127.60 514.42,129.12 512.82,129.12 514.12,130.06 513.62,131.58 514.92,130.64 516.21,131.58 515.72,130.06 517.01,129.12 515.41,129.12" fill="#0cb38b" stroke="#0cb38b" stroke-width="2.3" stroke-linejoin="round"/>
<polygon points="518.49,122.29 518.00,123.81 516.40,123.81 517.69,124.75 517.20,126.27 518.49,125.33 519.78,126.27 519.29,124.75 520.58,123.81 518.98,123.81" fill="#0cb38b" stroke="#0cb38b" stroke-width="2.3" stroke-linejoin="round"/>
<polygon points="522.06,117.20 521.57,118.72 519.97,118.72 521.26,119.66 520.77,121.18 522.06,120.24 523.36,121.18 522.86,119.66 524.16,118.72 522.56,118.72" fill="#0cb38b" stroke="#0cb38b" stroke-width="2.3" stroke-linejoin="round"/>
<polygon points="525.64,122.80 525.14,124.32 523.55,124.32 524.84,125.26 524.34,126.78 525.64,125.84 526.93,126.78 526.44,125.26 527.73,124.32 526.13,124.32" fill="#0cb38b" stroke="#0cb38b" stroke-width="2.3" stroke-linejoin="round"/>
<polygon points="529.21,118.80 528.72,120.32 527.12,120.32 528.41,121.26 527.92,122.78 529.21,121.84 530.51,122.78 530.01,121.26 531.30,120.32 529.71,120.32" fill="#0cb38b" stroke="#0cb38b" stroke-width="2.3" stroke-linejoin="round"/>
<polygon points="532.79,122.80 532.29,124.32 530.69,124.32 531.99,125.26 531.49,126.78 532.79,125.84 534.08,126.78 533.59,125.26 534.88,124.32 533.28,124.32" fill="#0cb38b" stroke="#0cb38b" stroke-width="2.3" stroke-linejoin="round"/>
<polygon points="536.36,123.17 535.87,124.69 534.27,124.69 535.56,125.63 535.07,127.15 536.36,126.21 537.65,127.15 537.16,125.63 538.45,124.69 536.85,124.69" fill="#0cb38b" stroke="#0cb38b" stroke-width="2.3" stroke-linejoin="round"/>
<polygon points="539.93,122.10 539.44,123.62 537.84,123.62 539.13,124.56 538.64,126.08 539.93,125.14 541.23,126.08 540.73,124.56 542.03,123.62 540.43,123.62" fill="#0cb38b" stroke="#0cb38b" stroke-width="2.3" stroke-linejoin="round"/>
<polygon points="543.51,116.60 543.01,118.12 541.42,118.12 542.71,119.06 542.21,120.58 543.51,119.64 544.80,120.58 544.31,119.06 545.60,118.12 544.00,118.12" fill="#0cb38b" stroke="#0cb38b" stroke-width="2.3" stroke-linejoin="round"/>
<polygon points="547.08,107.60 546.59,109.12 544.99,109.12 546.28,110.06 545.79,111.58 547.08,110.64 548.38,111.58 547.88,110.06 549.17,109.12 547.58,109.12" fill="#0cb38b" stroke="#0cb38b" stroke-width="2.3" stroke-linejoin="round"/>
<polygon points="550.66,110.30 550.16,111.82 548.56,111.82 549.86,112.76 549.36,114.28 550.66,113.34 551.95,114.28 551.46,112.76 552.75,111.82 551.15,111.82" fill="#0cb38b" stroke="#0cb38b" stroke-width="2.3" stroke-linejoin="round"/>
<polygon points="554.23,102.70 553.74,104.22 552.14,104.22 553.43,105.16 552.94,106.68 554.23,105.74 555.52,106.68 555.03,105.16 556.32,104.22 554.72,104.22" fill="#0cb38b" stroke="#0cb38b" stroke-width="2.3" stroke-linejoin="round"/>
<polygon points="557.80,99.90 557.31,101.42 555.71,101.42 557.00,102.36 556.51,103.88 557.80,102.94 559.10,103.88 558.60,102.36 559.90,101.42 558.30,101.42" fill="#0cb38b" stroke="#0cb38b" stroke-width="2.3" stroke-linejoin="round"/>
<polygon points="561.38,106.90 560.88,108.42 559.29,108.42 560.58,109.36 560.08,110.88 561.38,109.94 562.67,110.88 562.18,109.36 563.47,108.42 561.87,108.42" fill="#0cb38b" stroke="#0cb38b" stroke-width="2.3" stroke-linejoin="round"/>
<polygon points="564.95,88.20 564.46,89.72 562.86,89.72 564.15,90.66 563.66,92.18 564.95,91.24 566.25,92.18 565.75,90.66 567.04,89.72 565.45,89.72" fill="#0cb38b" stroke="#0cb38b" stroke-width="2.3" stroke-linejoin="round"/>
<polygon points="568.53,101.30 568.03,102.82 566.43,102.82 567.73,103.76 567.23,105.28 568.53,104.34 569.82,105.28 569.33,103.76 570.62,102.82 569.02,102.82" fill="#0cb38b" stroke="#0cb38b" stroke-width="2.3" stroke-linejoin="round"/>
<polygon points="572.10,106.90 571.61,108.42 570.01,108.42 571.30,109.36 570.81,110.88 572.10,109.94 573.39,110.88 572.90,109.36 574.19,108.42 572.59,108.42" fill="#0cb38b" stroke="#0cb38b" stroke-width="2.3" stroke-linejoin="round"/>
<polygon points="575.67,99.90 575.18,101.42 573.58,101.42 574.87,102.36 574.38,103.88 575.67,102.94 576.97,103.88 576.47,102.36 577.77,101.42 576.17,101.42" fill="#0cb38b" stroke="#0cb38b" stroke-width="2.3" stroke-linejoin="round"/>
<polyline points="221.85,258.50 225.42,259.05 229.00,259.59 232.57,260.14 236.14,260.68 239.72,261.23 243.29,261.77 246.87,262.32 250.44,262.86 254.01,263.41 257.59,263.95 261.16,264.50 264.74,264.89 268.31,265.28 271.88,265.67 275.46,266.06 279.03,266.45 282.61,266.85 286.18,267.24 289.75,267.63 293.33,268.02 296.90,268.41 300.48,268.80 304.05,269.12 307.62,269.44 311.20,269.75 314.77,270.07 318.35,270.39 321.92,270.71 325.49,271.03 329.07,271.35 332.64,271.66 336.22,271.98 339.79,272.30 343.36,272.56 346.94,272.83 350.51,273.09 354.09,273.36 357.66,273.62 361.23,273.89 364.81,274.15 368.38,274.41 371.96,274.68 375.53,274.94 379.10,275.21 382.68,275.47 386.25,275.74 389.83,276.00 393.40,276.16 396.97,276.33 400.55,276.49 404.12,276.66 407.70,276.82 411.27,276.99 414.84,277.15 418.42,277.31 421.99,277.48 425.57,277.64 429.14,277.81 432.71,277.97 436.29,278.14 439.86,278.30 443.44,278.39 447.01,278.48 450.58,278.57 454.16,278.66 457.73,278.75 461.31,278.85 464.88,278.94 468.45,279.03 472.03,279.12 475.60,279.21 479.18,279.30 482.75,279.33 486.32,279.35 489.90,279.38 493.47,279.41 497.05,279.44 500.62,279.46 504.19,279.49 507.77,279.52 511.34,279.55 514.92,279.57 518.49,279.60 522.06,279.53 525.64,279.47 529.21,279.40 532.79,279.33 536.36,279.27 539.93,279.20 543.51,279.13 547.08,279.07 550.66,279.00 554.23,278.83 557.80,278.66 561.38,278.49 564.95,278.31 568.53,278.14 572.10,277.97 575.67,277.80" fill="none" stroke="#00d1f8" stroke-width="1.8" stroke-dasharray="5.5,2.4"/>
<path d="M221.85 255.45L218.80 261.55L224.90 261.55Z" fill="#00d1f8" stroke="#00d1f8" stroke-width="2.1" stroke-linejoin="miter"/>
<path d="M225.42 256.00L222.37 262.10L228.47 262.10Z" fill="#00d1f8" stroke="#00d1f8" stroke-width="2.1" stroke-linejoin="miter"/>
<path d="M229.00 256.54L225.95 262.64L232.05 262.64Z" fill="#00d1f8" stroke="#00d1f8" stroke-width="2.1" stroke-linejoin="miter"/>
<path d="M232.57 257.09L229.52 263.19L235.62 263.19Z" fill="#00d1f8" stroke="#00d1f8" stroke-width="2.1" stroke-linejoin="miter"/>
<path d="M236.14 257.63L233.09 263.73L239.19 263.73Z" fill="#00d1f8" stroke="#00d1f8" stroke-width="2.1" stroke-linejoin="miter"/>
<path d="M239.72 258.18L236.67 264.28L242.77 264.28Z" fill="#00d1f8" stroke="#00d1f8" stroke-width="2.1" stroke-linejoin="miter"/>
<path d="M243.29 258.72L240.24 264.82L246.34 264.82Z" fill="#00d1f8" stroke="#00d1f8" stroke-width="2.1" stroke-linejoin="miter"/>
<path d="M246.87 259.27L243.82 265.37L249.92 265.37Z" fill="#00d1f8" stroke="#00d1f8" stroke-width="2.1" stroke-linejoin="miter"/>
<path d="M250.44 259.81L247.39 265.91L253.49 265.91Z" fill="#00d1f8" stroke="#00d1f8" stroke-width="2.1" stroke-linejoin="miter"/>
<path d="M254.01 260.36L250.96 266.46L257.06 266.46Z" fill="#00d1f8" stroke="#00d1f8" stroke-width="2.1" stroke-linejoin="miter"/>
<path d="M257.59 260.90L254.54 267.00L260.64 267.00Z" fill="#00d1f8" stroke="#00d1f8" stroke-width="2.1" stroke-linejoin="miter"/>
<path d="M261.16 261.45L258.11 267.55L264.21 267.55Z" fill="#00d1f8" stroke="#00d1f8" stroke-width="2.1" stroke-linejoin="miter"/>
<path d="M264.74 261.84L261.69 267.94L267.79 267.94Z" fill="#00d1f8" stroke="#00d1f8" stroke-width="2.1" stroke-linejoin="miter"/>
<path d="M268.31 262.23L265.26 268.33L271.36 268.33Z" fill="#00d1f8" stroke="#00d1f8" stroke-width="2.1" stroke-linejoin="miter"/>
<path d="M271.88 262.62L268.83 268.72L274.93 268.72Z" fill="#00d1f8" stroke="#00d1f8" stroke-width="2.1" stroke-linejoin="miter"/>
<path d="M275.46 263.01L272.41 269.11L278.51 269.11Z" fill="#00d1f8" stroke="#00d1f8" stroke-width="2.1" stroke-linejoin="miter"/>
<path d="M279.03 263.40L275.98 269.50L282.08 269.50Z" fill="#00d1f8" stroke="#00d1f8" stroke-width="2.1" stroke-linejoin="miter"/>
<path d="M282.61 263.80L279.56 269.90L285.66 269.90Z" fill="#00d1f8" stroke="#00d1f8" stroke-width="2.1" stroke-linejoin="miter"/>
<path d="M286.18 264.19L283.13 270.29L289.23 270.29Z" fill="#00d1f8" stroke="#00d1f8" stroke-width="2.1" stroke-linejoin="miter"/>
<path d="M289.75 264.58L286.70 270.68L292.80 270.68Z" fill="#00d1f8" stroke="#00d1f8" stroke-width="2.1" stroke-linejoin="miter"/>
<path d="M293.33 264.97L290.28 271.07L296.38 271.07Z" fill="#00d1f8" stroke="#00d1f8" stroke-width="2.1" stroke-linejoin="miter"/>
<path d="M296.90 265.36L293.85 271.46L299.95 271.46Z" fill="#00d1f8" stroke="#00d1f8" stroke-width="2.1" stroke-linejoin="miter"/>
<path d="M300.48 265.75L297.43 271.85L303.53 271.85Z" fill="#00d1f8" stroke="#00d1f8" stroke-width="2.1" stroke-linejoin="miter"/>
<path d="M304.05 266.07L301.00 272.17L307.10 272.17Z" fill="#00d1f8" stroke="#00d1f8" stroke-width="2.1" stroke-linejoin="miter"/>
<path d="M307.62 266.39L304.57 272.49L310.67 272.49Z" fill="#00d1f8" stroke="#00d1f8" stroke-width="2.1" stroke-linejoin="miter"/>
<path d="M311.20 266.70L308.15 272.80L314.25 272.80Z" fill="#00d1f8" stroke="#00d1f8" stroke-width="2.1" stroke-linejoin="miter"/>
<path d="M314.77 267.02L311.72 273.12L317.82 273.12Z" fill="#00d1f8" stroke="#00d1f8" stroke-width="2.1" stroke-linejoin="miter"/>
<path d="M318.35 267.34L315.30 273.44L321.40 273.44Z" fill="#00d1f8" stroke="#00d1f8" stroke-width="2.1" stroke-linejoin="miter"/>
<path d="M321.92 267.66L318.87 273.76L324.97 273.76Z" fill="#00d1f8" stroke="#00d1f8" stroke-width="2.1" stroke-linejoin="miter"/>
<path d="M325.49 267.98L322.44 274.08L328.54 274.08Z" fill="#00d1f8" stroke="#00d1f8" stroke-width="2.1" stroke-linejoin="miter"/>
<path d="M329.07 268.30L326.02 274.40L332.12 274.40Z" fill="#00d1f8" stroke="#00d1f8" stroke-width="2.1" stroke-linejoin="miter"/>
<path d="M332.64 268.61L329.59 274.71L335.69 274.71Z" fill="#00d1f8" stroke="#00d1f8" stroke-width="2.1" stroke-linejoin="miter"/>
<path d="M336.22 268.93L333.17 275.03L339.27 275.03Z" fill="#00d1f8" stroke="#00d1f8" stroke-width="2.1" stroke-linejoin="miter"/>
<path d="M339.79 269.25L336.74 275.35L342.84 275.35Z" fill="#00d1f8" stroke="#00d1f8" stroke-width="2.1" stroke-linejoin="miter"/>
<path d="M343.36 269.51L340.31 275.61L346.41 275.61Z" fill="#00d1f8" stroke="#00d1f8" stroke-width="2.1" stroke-linejoin="miter"/>
<path d="M346.94 269.78L343.89 275.88L349.99 275.88Z" fill="#00d1f8" stroke="#00d1f8" stroke-width="2.1" stroke-linejoin="miter"/>
<path d="M350.51 270.04L347.46 276.14L353.56 276.14Z" fill="#00d1f8" stroke="#00d1f8" stroke-width="2.1" stroke-linejoin="miter"/>
<path d="M354.09 270.31L351.04 276.41L357.14 276.41Z" fill="#00d1f8" stroke="#00d1f8" stroke-width="2.1" stroke-linejoin="miter"/>
<path d="M357.66 270.57L354.61 276.67L360.71 276.67Z" fill="#00d1f8" stroke="#00d1f8" stroke-width="2.1" stroke-linejoin="miter"/>
<path d="M361.23 270.84L358.18 276.94L364.28 276.94Z" fill="#00d1f8" stroke="#00d1f8" stroke-width="2.1" stroke-linejoin="miter"/>
<path d="M364.81 271.10L361.76 277.20L367.86 277.20Z" fill="#00d1f8" stroke="#00d1f8" stroke-width="2.1" stroke-linejoin="miter"/>
<path d="M368.38 271.36L365.33 277.46L371.43 277.46Z" fill="#00d1f8" stroke="#00d1f8" stroke-width="2.1" stroke-linejoin="miter"/>
<path d="M371.96 271.63L368.91 277.73L375.01 277.73Z" fill="#00d1f8" stroke="#00d1f8" stroke-width="2.1" stroke-linejoin="miter"/>
<path d="M375.53 271.89L372.48 277.99L378.58 277.99Z" fill="#00d1f8" stroke="#00d1f8" stroke-width="2.1" stroke-linejoin="miter"/>
<path d="M379.10 272.16L376.05 278.26L382.15 278.26Z" fill="#00d1f8" stroke="#00d1f8" stroke-width="2.1" stroke-linejoin="miter"/>
<path d="M382.68 272.42L379.63 278.52L385.73 278.52Z" fill="#00d1f8" stroke="#00d1f8" stroke-width="2.1" stroke-linejoin="miter"/>
<path d="M386.25 272.69L383.20 278.79L389.30 278.79Z" fill="#00d1f8" stroke="#00d1f8" stroke-width="2.1" stroke-linejoin="miter"/>
<path d="M389.83 272.95L386.78 279.05L392.88 279.05Z" fill="#00d1f8" stroke="#00d1f8" stroke-width="2.1" stroke-linejoin="miter"/>
<path d="M393.40 273.11L390.35 279.21L396.45 279.21Z" fill="#00d1f8" stroke="#00d1f8" stroke-width="2.1" stroke-linejoin="miter"/>
<path d="M396.97 273.28L393.92 279.38L400.02 279.38Z" fill="#00d1f8" stroke="#00d1f8" stroke-width="2.1" stroke-linejoin="miter"/>
<path d="M400.55 273.44L397.50 279.54L403.60 279.54Z" fill="#00d1f8" stroke="#00d1f8" stroke-width="2.1" stroke-linejoin="miter"/>
<path d="M404.12 273.61L401.07 279.71L407.17 279.71Z" fill="#00d1f8" stroke="#00d1f8" stroke-width="2.1" stroke-linejoin="miter"/>
<path d="M407.70 273.77L404.65 279.87L410.75 279.87Z" fill="#00d1f8" stroke="#00d1f8" stroke-width="2.1" stroke-linejoin="miter"/>
<path d="M411.27 273.94L408.22 280.04L414.32 280.04Z" fill="#00d1f8" stroke="#00d1f8" stroke-width="2.1" stroke-linejoin="miter"/>
<path d="M414.84 274.10L411.79 280.20L417.89 280.20Z" fill="#00d1f8" stroke="#00d1f8" stroke-width="2.1" stroke-linejoin="miter"/>
<path d="M418.42 274.26L415.37 280.36L421.47 280.36Z" fill="#00d1f8" stroke="#00d1f8" stroke-width="2.1" stroke-linejoin="miter"/>
<path d="M421.99 274.43L418.94 280.53L425.04 280.53Z" fill="#00d1f8" stroke="#00d1f8" stroke-width="2.1" stroke-linejoin="miter"/>
<path d="M425.57 274.59L422.52 280.69L428.62 280.69Z" fill="#00d1f8" stroke="#00d1f8" stroke-width="2.1" stroke-linejoin="miter"/>
<path d="M429.14 274.76L426.09 280.86L432.19 280.86Z" fill="#00d1f8" stroke="#00d1f8" stroke-width="2.1" stroke-linejoin="miter"/>
<path d="M432.71 274.92L429.66 281.02L435.76 281.02Z" fill="#00d1f8" stroke="#00d1f8" stroke-width="2.1" stroke-linejoin="miter"/>
<path d="M436.29 275.09L433.24 281.19L439.34 281.19Z" fill="#00d1f8" stroke="#00d1f8" stroke-width="2.1" stroke-linejoin="miter"/>
<path d="M439.86 275.25L436.81 281.35L442.91 281.35Z" fill="#00d1f8" stroke="#00d1f8" stroke-width="2.1" stroke-linejoin="miter"/>
<path d="M443.44 275.34L440.39 281.44L446.49 281.44Z" fill="#00d1f8" stroke="#00d1f8" stroke-width="2.1" stroke-linejoin="miter"/>
<path d="M447.01 275.43L443.96 281.53L450.06 281.53Z" fill="#00d1f8" stroke="#00d1f8" stroke-width="2.1" stroke-linejoin="miter"/>
<path d="M450.58 275.52L447.53 281.62L453.63 281.62Z" fill="#00d1f8" stroke="#00d1f8" stroke-width="2.1" stroke-linejoin="miter"/>
<path d="M454.16 275.61L451.11 281.71L457.21 281.71Z" fill="#00d1f8" stroke="#00d1f8" stroke-width="2.1" stroke-linejoin="miter"/>
<path d="M457.73 275.70L454.68 281.80L460.78 281.80Z" fill="#00d1f8" stroke="#00d1f8" stroke-width="2.1" stroke-linejoin="miter"/>
<path d="M461.31 275.80L458.26 281.90L464.36 281.90Z" fill="#00d1f8" stroke="#00d1f8" stroke-width="2.1" stroke-linejoin="miter"/>
<path d="M464.88 275.89L461.83 281.99L467.93 281.99Z" fill="#00d1f8" stroke="#00d1f8" stroke-width="2.1" stroke-linejoin="miter"/>
<path d="M468.45 275.98L465.40 282.08L471.50 282.08Z" fill="#00d1f8" stroke="#00d1f8" stroke-width="2.1" stroke-linejoin="miter"/>
<path d="M472.03 276.07L468.98 282.17L475.08 282.17Z" fill="#00d1f8" stroke="#00d1f8" stroke-width="2.1" stroke-linejoin="miter"/>
<path d="M475.60 276.16L472.55 282.26L478.65 282.26Z" fill="#00d1f8" stroke="#00d1f8" stroke-width="2.1" stroke-linejoin="miter"/>
<path d="M479.18 276.25L476.13 282.35L482.23 282.35Z" fill="#00d1f8" stroke="#00d1f8" stroke-width="2.1" stroke-linejoin="miter"/>
<path d="M482.75 276.28L479.70 282.38L485.80 282.38Z" fill="#00d1f8" stroke="#00d1f8" stroke-width="2.1" stroke-linejoin="miter"/>
<path d="M486.32 276.30L483.27 282.40L489.37 282.40Z" fill="#00d1f8" stroke="#00d1f8" stroke-width="2.1" stroke-linejoin="miter"/>
<path d="M489.90 276.33L486.85 282.43L492.95 282.43Z" fill="#00d1f8" stroke="#00d1f8" stroke-width="2.1" stroke-linejoin="miter"/>
<path d="M493.47 276.36L490.42 282.46L496.52 282.46Z" fill="#00d1f8" stroke="#00d1f8" stroke-width="2.1" stroke-linejoin="miter"/>
<path d="M497.05 276.39L494.00 282.49L500.10 282.49Z" fill="#00d1f8" stroke="#00d1f8" stroke-width="2.1" stroke-linejoin="miter"/>
<path d="M500.62 276.41L497.57 282.51L503.67 282.51Z" fill="#00d1f8" stroke="#00d1f8" stroke-width="2.1" stroke-linejoin="miter"/>
<path d="M504.19 276.44L501.14 282.54L507.24 282.54Z" fill="#00d1f8" stroke="#00d1f8" stroke-width="2.1" stroke-linejoin="miter"/>
<path d="M507.77 276.47L504.72 282.57L510.82 282.57Z" fill="#00d1f8" stroke="#00d1f8" stroke-width="2.1" stroke-linejoin="miter"/>
<path d="M511.34 276.50L508.29 282.60L514.39 282.60Z" fill="#00d1f8" stroke="#00d1f8" stroke-width="2.1" stroke-linejoin="miter"/>
<path d="M514.92 276.52L511.87 282.62L517.97 282.62Z" fill="#00d1f8" stroke="#00d1f8" stroke-width="2.1" stroke-linejoin="miter"/>
<path d="M518.49 276.55L515.44 282.65L521.54 282.65Z" fill="#00d1f8" stroke="#00d1f8" stroke-width="2.1" stroke-linejoin="miter"/>
<path d="M522.06 276.48L519.01 282.58L525.11 282.58Z" fill="#00d1f8" stroke="#00d1f8" stroke-width="2.1" stroke-linejoin="miter"/>
<path d="M525.64 276.42L522.59 282.52L528.69 282.52Z" fill="#00d1f8" stroke="#00d1f8" stroke-width="2.1" stroke-linejoin="miter"/>
<path d="M529.21 276.35L526.16 282.45L532.26 282.45Z" fill="#00d1f8" stroke="#00d1f8" stroke-width="2.1" stroke-linejoin="miter"/>
<path d="M532.79 276.28L529.74 282.38L535.84 282.38Z" fill="#00d1f8" stroke="#00d1f8" stroke-width="2.1" stroke-linejoin="miter"/>
<path d="M536.36 276.22L533.31 282.32L539.41 282.32Z" fill="#00d1f8" stroke="#00d1f8" stroke-width="2.1" stroke-linejoin="miter"/>
<path d="M539.93 276.15L536.88 282.25L542.98 282.25Z" fill="#00d1f8" stroke="#00d1f8" stroke-width="2.1" stroke-linejoin="miter"/>
<path d="M543.51 276.08L540.46 282.18L546.56 282.18Z" fill="#00d1f8" stroke="#00d1f8" stroke-width="2.1" stroke-linejoin="miter"/>
<path d="M547.08 276.02L544.03 282.12L550.13 282.12Z" fill="#00d1f8" stroke="#00d1f8" stroke-width="2.1" stroke-linejoin="miter"/>
<path d="M550.66 275.95L547.61 282.05L553.71 282.05Z" fill="#00d1f8" stroke="#00d1f8" stroke-width="2.1" stroke-linejoin="miter"/>
<path d="M554.23 275.78L551.18 281.88L557.28 281.88Z" fill="#00d1f8" stroke="#00d1f8" stroke-width="2.1" stroke-linejoin="miter"/>
<path d="M557.80 275.61L554.75 281.71L560.85 281.71Z" fill="#00d1f8" stroke="#00d1f8" stroke-width="2.1" stroke-linejoin="miter"/>
<path d="M561.38 275.44L558.33 281.54L564.43 281.54Z" fill="#00d1f8" stroke="#00d1f8" stroke-width="2.1" stroke-linejoin="miter"/>
<path d="M564.95 275.26L561.90 281.36L568.00 281.36Z" fill="#00d1f8" stroke="#00d1f8" stroke-width="2.1" stroke-linejoin="miter"/>
<path d="M568.53 275.09L565.48 281.19L571.58 281.19Z" fill="#00d1f8" stroke="#00d1f8" stroke-width="2.1" stroke-linejoin="miter"/>
<path d="M572.10 274.92L569.05 281.02L575.15 281.02Z" fill="#00d1f8" stroke="#00d1f8" stroke-width="2.1" stroke-linejoin="miter"/>
<path d="M575.67 274.75L572.62 280.85L578.72 280.85Z" fill="#00d1f8" stroke="#00d1f8" stroke-width="2.1" stroke-linejoin="miter"/>
</g>
<g clip-path="url(#cp01)">
<polyline points="650.75,372.80 654.32,368.20 657.90,376.20 661.47,373.92 665.04,375.50 668.62,376.39 672.19,375.50 675.77,377.15 679.34,377.50 682.91,378.32 686.49,374.80 690.06,374.20 693.64,378.90 697.21,378.27 700.78,374.80 704.36,372.85 707.93,372.80 711.51,379.50 715.08,376.65 718.65,374.80 722.23,378.24 725.80,380.20 729.38,379.45 732.95,382.90 736.52,382.23 740.10,380.44 743.67,379.72 747.25,380.90 750.82,380.61 754.39,384.20 757.97,384.71 761.54,381.24 765.12,382.20 768.69,382.09 772.26,384.20 775.84,382.62 779.41,383.63 782.99,380.90 786.56,381.35 790.13,385.50 793.71,385.98 797.28,386.90 800.86,387.12 804.43,388.59 808.00,386.90 811.58,386.30 815.15,382.90 818.73,386.03 822.30,384.99 825.87,387.50 829.45,387.13 833.02,386.88 836.60,387.50 840.17,389.44 843.74,388.00 847.32,390.18 850.89,386.80 854.47,388.50 858.04,389.33 861.61,393.00 865.19,399.00 868.76,396.32 872.34,396.00 875.91,391.83 879.48,390.00 883.06,388.93 886.63,388.00 890.21,387.89 893.78,387.00 897.35,386.29 900.93,385.48 904.50,388.00 908.08,387.39 911.65,387.50 915.22,387.67 918.80,389.00 922.37,393.00 925.95,406.00 929.52,405.96 933.09,407.33 936.67,405.00 940.24,406.84 943.82,407.00 947.39,406.73 950.96,406.85 954.54,406.00 958.11,406.94 961.69,404.37 965.26,406.50 968.83,400.00 972.41,402.09 975.98,401.90 979.56,401.00 983.13,403.15 986.70,402.00 990.28,402.81 993.85,401.00 997.43,401.03 1001.00,402.00 1004.57,406.70" fill="none" stroke="#b54fe0" stroke-width="1.8" stroke-dasharray="5.5,2.4"/>
<circle cx="650.75" cy="372.80" r="3.05" fill="#b54fe0" stroke="#b54fe0" stroke-width="2.1"/>
<circle cx="654.32" cy="368.20" r="3.05" fill="#b54fe0" stroke="#b54fe0" stroke-width="2.1"/>
<circle cx="657.90" cy="376.20" r="3.05" fill="#b54fe0" stroke="#b54fe0" stroke-width="2.1"/>
<circle cx="661.47" cy="373.92" r="3.05" fill="#b54fe0" stroke="#b54fe0" stroke-width="2.1"/>
<circle cx="665.04" cy="375.50" r="3.05" fill="#b54fe0" stroke="#b54fe0" stroke-width="2.1"/>
<circle cx="668.62" cy="376.39" r="3.05" fill="#b54fe0" stroke="#b54fe0" stroke-width="2.1"/>
<circle cx="672.19" cy="375.50" r="3.05" fill="#b54fe0" stroke="#b54fe0" stroke-width="2.1"/>
<circle cx="675.77" cy="377.15" r="3.05" fill="#b54fe0" stroke="#b54fe0" stroke-width="2.1"/>
<circle cx="679.34" cy="377.50" r="3.05" fill="#b54fe0" stroke="#b54fe0" stroke-width="2.1"/>
<circle cx="682.91" cy="378.32" r="3.05" fill="#b54fe0" stroke="#b54fe0" stroke-width="2.1"/>
<circle cx="686.49" cy="374.80" r="3.05" fill="#b54fe0" stroke="#b54fe0" stroke-width="2.1"/>
<circle cx="690.06" cy="374.20" r="3.05" fill="#b54fe0" stroke="#b54fe0" stroke-width="2.1"/>
<circle cx="693.64" cy="378.90" r="3.05" fill="#b54fe0" stroke="#b54fe0" stroke-width="2.1"/>
<circle cx="697.21" cy="378.27" r="3.05" fill="#b54fe0" stroke="#b54fe0" stroke-width="2.1"/>
<circle cx="700.78" cy="374.80" r="3.05" fill="#b54fe0" stroke="#b54fe0" stroke-width="2.1"/>
<circle cx="704.36" cy="372.85" r="3.05" fill="#b54fe0" stroke="#b54fe0" stroke-width="2.1"/>
<circle cx="707.93" cy="372.80" r="3.05" fill="#b54fe0" stroke="#b54fe0" stroke-width="2.1"/>
<circle cx="711.51" cy="379.50" r="3.05" fill="#b54fe0" stroke="#b54fe0" stroke-width="2.1"/>
<circle cx="715.08" cy="376.65" r="3.05" fill="#b54fe0" stroke="#b54fe0" stroke-width="2.1"/>
<circle cx="718.65" cy="374.80" r="3.05" fill="#b54fe0" stroke="#b54fe0" stroke-width="2.1"/>
<circle cx="722.23" cy="378.24" r="3.05" fill="#b54fe0" stroke="#b54fe0" stroke-width="2.1"/>
<circle cx="725.80" cy="380.20" r="3.05" fill="#b54fe0" stroke="#b54fe0" stroke-width="2.1"/>
<circle cx="729.38" cy="379.45" r="3.05" fill="#b54fe0" stroke="#b54fe0" stroke-width="2.1"/>
<circle cx="732.95" cy="382.90" r="3.05" fill="#b54fe0" stroke="#b54fe0" stroke-width="2.1"/>
<circle cx="736.52" cy="382.23" r="3.05" fill="#b54fe0" stroke="#b54fe0" stroke-width="2.1"/>
<circle cx="740.10" cy="380.44" r="3.05" fill="#b54fe0" stroke="#b54fe0" stroke-width="2.1"/>
<circle cx="743.67" cy="379.72" r="3.05" fill="#b54fe0" stroke="#b54fe0" stroke-width="2.1"/>
<circle cx="747.25" cy="380.90" r="3.05" fill="#b54fe0" stroke="#b54fe0" stroke-width="2.1"/>
<circle cx="750.82" cy="380.61" r="3.05" fill="#b54fe0" stroke="#b54fe0" stroke-width="2.1"/>
<circle cx="754.39" cy="384.20" r="3.05" fill="#b54fe0" stroke="#b54fe0" stroke-width="2.1"/>
<circle cx="757.97" cy="384.71" r="3.05" fill="#b54fe0" stroke="#b54fe0" stroke-width="2.1"/>
<circle cx="761.54" cy="381.24" r="3.05" fill="#b54fe0" stroke="#b54fe0" stroke-width="2.1"/>
<circle cx="765.12" cy="382.20" r="3.05" fill="#b54fe0" stroke="#b54fe0" stroke-width="2.1"/>
<circle cx="768.69" cy="382.09" r="3.05" fill="#b54fe0" stroke="#b54fe0" stroke-width="2.1"/>
<circle cx="772.26" cy="384.20" r="3.05" fill="#b54fe0" stroke="#b54fe0" stroke-width="2.1"/>
<circle cx="775.84" cy="382.62" r="3.05" fill="#b54fe0" stroke="#b54fe0" stroke-width="2.1"/>
<circle cx="779.41" cy="383.63" r="3.05" fill="#b54fe0" stroke="#b54fe0" stroke-width="2.1"/>
<circle cx="782.99" cy="380.90" r="3.05" fill="#b54fe0" stroke="#b54fe0" stroke-width="2.1"/>
<circle cx="786.56" cy="381.35" r="3.05" fill="#b54fe0" stroke="#b54fe0" stroke-width="2.1"/>
<circle cx="790.13" cy="385.50" r="3.05" fill="#b54fe0" stroke="#b54fe0" stroke-width="2.1"/>
<circle cx="793.71" cy="385.98" r="3.05" fill="#b54fe0" stroke="#b54fe0" stroke-width="2.1"/>
<circle cx="797.28" cy="386.90" r="3.05" fill="#b54fe0" stroke="#b54fe0" stroke-width="2.1"/>
<circle cx="800.86" cy="387.12" r="3.05" fill="#b54fe0" stroke="#b54fe0" stroke-width="2.1"/>
<circle cx="804.43" cy="388.59" r="3.05" fill="#b54fe0" stroke="#b54fe0" stroke-width="2.1"/>
<circle cx="808.00" cy="386.90" r="3.05" fill="#b54fe0" stroke="#b54fe0" stroke-width="2.1"/>
<circle cx="811.58" cy="386.30" r="3.05" fill="#b54fe0" stroke="#b54fe0" stroke-width="2.1"/>
<circle cx="815.15" cy="382.90" r="3.05" fill="#b54fe0" stroke="#b54fe0" stroke-width="2.1"/>
<circle cx="818.73" cy="386.03" r="3.05" fill="#b54fe0" stroke="#b54fe0" stroke-width="2.1"/>
<circle cx="822.30" cy="384.99" r="3.05" fill="#b54fe0" stroke="#b54fe0" stroke-width="2.1"/>
<circle cx="825.87" cy="387.50" r="3.05" fill="#b54fe0" stroke="#b54fe0" stroke-width="2.1"/>
<circle cx="829.45" cy="387.13" r="3.05" fill="#b54fe0" stroke="#b54fe0" stroke-width="2.1"/>
<circle cx="833.02" cy="386.88" r="3.05" fill="#b54fe0" stroke="#b54fe0" stroke-width="2.1"/>
<circle cx="836.60" cy="387.50" r="3.05" fill="#b54fe0" stroke="#b54fe0" stroke-width="2.1"/>
<circle cx="840.17" cy="389.44" r="3.05" fill="#b54fe0" stroke="#b54fe0" stroke-width="2.1"/>
<circle cx="843.74" cy="388.00" r="3.05" fill="#b54fe0" stroke="#b54fe0" stroke-width="2.1"/>
<circle cx="847.32" cy="390.18" r="3.05" fill="#b54fe0" stroke="#b54fe0" stroke-width="2.1"/>
<circle cx="850.89" cy="386.80" r="3.05" fill="#b54fe0" stroke="#b54fe0" stroke-width="2.1"/>
<circle cx="854.47" cy="388.50" r="3.05" fill="#b54fe0" stroke="#b54fe0" stroke-width="2.1"/>
<circle cx="858.04" cy="389.33" r="3.05" fill="#b54fe0" stroke="#b54fe0" stroke-width="2.1"/>
<circle cx="861.61" cy="393.00" r="3.05" fill="#b54fe0" stroke="#b54fe0" stroke-width="2.1"/>
<circle cx="865.19" cy="399.00" r="3.05" fill="#b54fe0" stroke="#b54fe0" stroke-width="2.1"/>
<circle cx="868.76" cy="396.32" r="3.05" fill="#b54fe0" stroke="#b54fe0" stroke-width="2.1"/>
<circle cx="872.34" cy="396.00" r="3.05" fill="#b54fe0" stroke="#b54fe0" stroke-width="2.1"/>
<circle cx="875.91" cy="391.83" r="3.05" fill="#b54fe0" stroke="#b54fe0" stroke-width="2.1"/>
<circle cx="879.48" cy="390.00" r="3.05" fill="#b54fe0" stroke="#b54fe0" stroke-width="2.1"/>
<circle cx="883.06" cy="388.93" r="3.05" fill="#b54fe0" stroke="#b54fe0" stroke-width="2.1"/>
<circle cx="886.63" cy="388.00" r="3.05" fill="#b54fe0" stroke="#b54fe0" stroke-width="2.1"/>
<circle cx="890.21" cy="387.89" r="3.05" fill="#b54fe0" stroke="#b54fe0" stroke-width="2.1"/>
<circle cx="893.78" cy="387.00" r="3.05" fill="#b54fe0" stroke="#b54fe0" stroke-width="2.1"/>
<circle cx="897.35" cy="386.29" r="3.05" fill="#b54fe0" stroke="#b54fe0" stroke-width="2.1"/>
<circle cx="900.93" cy="385.48" r="3.05" fill="#b54fe0" stroke="#b54fe0" stroke-width="2.1"/>
<circle cx="904.50" cy="388.00" r="3.05" fill="#b54fe0" stroke="#b54fe0" stroke-width="2.1"/>
<circle cx="908.08" cy="387.39" r="3.05" fill="#b54fe0" stroke="#b54fe0" stroke-width="2.1"/>
<circle cx="911.65" cy="387.50" r="3.05" fill="#b54fe0" stroke="#b54fe0" stroke-width="2.1"/>
<circle cx="915.22" cy="387.67" r="3.05" fill="#b54fe0" stroke="#b54fe0" stroke-width="2.1"/>
<circle cx="918.80" cy="389.00" r="3.05" fill="#b54fe0" stroke="#b54fe0" stroke-width="2.1"/>
<circle cx="922.37" cy="393.00" r="3.05" fill="#b54fe0" stroke="#b54fe0" stroke-width="2.1"/>
<circle cx="925.95" cy="406.00" r="3.05" fill="#b54fe0" stroke="#b54fe0" stroke-width="2.1"/>
<circle cx="929.52" cy="405.96" r="3.05" fill="#b54fe0" stroke="#b54fe0" stroke-width="2.1"/>
<circle cx="933.09" cy="407.33" r="3.05" fill="#b54fe0" stroke="#b54fe0" stroke-width="2.1"/>
<circle cx="936.67" cy="405.00" r="3.05" fill="#b54fe0" stroke="#b54fe0" stroke-width="2.1"/>
<circle cx="940.24" cy="406.84" r="3.05" fill="#b54fe0" stroke="#b54fe0" stroke-width="2.1"/>
<circle cx="943.82" cy="407.00" r="3.05" fill="#b54fe0" stroke="#b54fe0" stroke-width="2.1"/>
<circle cx="947.39" cy="406.73" r="3.05" fill="#b54fe0" stroke="#b54fe0" stroke-width="2.1"/>
<circle cx="950.96" cy="406.85" r="3.05" fill="#b54fe0" stroke="#b54fe0" stroke-width="2.1"/>
<circle cx="954.54" cy="406.00" r="3.05" fill="#b54fe0" stroke="#b54fe0" stroke-width="2.1"/>
<circle cx="958.11" cy="406.94" r="3.05" fill="#b54fe0" stroke="#b54fe0" stroke-width="2.1"/>
<circle cx="961.69" cy="404.37" r="3.05" fill="#b54fe0" stroke="#b54fe0" stroke-width="2.1"/>
<circle cx="965.26" cy="406.50" r="3.05" fill="#b54fe0" stroke="#b54fe0" stroke-width="2.1"/>
<circle cx="968.83" cy="400.00" r="3.05" fill="#b54fe0" stroke="#b54fe0" stroke-width="2.1"/>
<circle cx="972.41" cy="402.09" r="3.05" fill="#b54fe0" stroke="#b54fe0" stroke-width="2.1"/>
<circle cx="975.98" cy="401.90" r="3.05" fill="#b54fe0" stroke="#b54fe0" stroke-width="2.1"/>
<circle cx="979.56" cy="401.00" r="3.05" fill="#b54fe0" stroke="#b54fe0" stroke-width="2.1"/>
<circle cx="983.13" cy="403.15" r="3.05" fill="#b54fe0" stroke="#b54fe0" stroke-width="2.1"/>
<circle cx="986.70" cy="402.00" r="3.05" fill="#b54fe0" stroke="#b54fe0" stroke-width="2.1"/>
<circle cx="990.28" cy="402.81" r="3.05" fill="#b54fe0" stroke="#b54fe0" stroke-width="2.1"/>
<circle cx="993.85" cy="401.00" r="3.05" fill="#b54fe0" stroke="#b54fe0" stroke-width="2.1"/>
<circle cx="997.43" cy="401.03" r="3.05" fill="#b54fe0" stroke="#b54fe0" stroke-width="2.1"/>
<circle cx="1001.00" cy="402.00" r="3.05" fill="#b54fe0" stroke="#b54fe0" stroke-width="2.1"/>
<circle cx="1004.57" cy="406.70" r="3.05" fill="#b54fe0" stroke="#b54fe0" stroke-width="2.1"/>
<polyline points="650.75,324.10 654.32,318.70 657.90,329.40 661.47,332.10 665.04,328.70 668.62,332.70 672.19,330.10 675.77,332.66 679.34,336.10 682.91,332.70 686.49,330.66 690.06,332.10 693.64,338.80 697.21,338.80 700.78,332.70 704.36,333.29 707.93,332.70 711.51,340.10 715.08,336.17 718.65,336.10 722.23,344.80 725.80,341.40 729.38,342.50 732.95,347.40 736.52,346.10 740.10,350.80 743.67,346.82 747.25,345.40 750.82,348.80 754.39,354.80 757.97,353.96 761.54,356.10 765.12,348.80 768.69,352.10 772.26,352.80 775.84,358.80 779.41,353.45 782.99,349.50 786.56,357.50 790.13,357.53 793.71,361.50 797.28,358.80 800.86,357.27 804.43,358.60 808.00,360.80 811.58,356.05 815.15,354.80 818.73,360.80 822.30,360.60 825.87,361.60 829.45,359.71 833.02,362.00 836.60,367.50 840.17,368.10 843.74,365.40 847.32,364.70 850.89,367.60 854.47,369.50 858.04,369.70 861.61,373.00 865.19,375.70 868.76,369.50 872.34,375.10 875.91,370.20 879.48,373.70 883.06,371.56 886.63,371.60 890.21,368.88 893.78,367.50 897.35,367.60 900.93,368.90 904.50,368.24 908.08,370.90 911.65,377.10 915.22,370.90 918.80,376.40 922.37,377.10 925.95,382.60 929.52,388.10 933.09,385.40 936.67,387.29 940.24,386.10 943.82,389.50 947.39,388.57 950.96,383.30 954.54,388.10 958.11,389.35 961.69,390.90 965.26,383.30 968.83,384.98 972.41,386.80 975.98,383.58 979.56,384.00 983.13,389.50 986.70,385.40 990.28,384.00 993.85,386.10 997.43,387.11 1001.00,389.50 1004.57,395.00" fill="none" stroke="#0cb38b" stroke-width="1.8" stroke-dasharray="5.5,2.4"/>
<polygon points="650.75,321.90 650.25,323.42 648.66,323.42 649.95,324.36 649.45,325.88 650.75,324.94 652.04,325.88 651.55,324.36 652.84,323.42 651.24,323.42" fill="#0cb38b" stroke="#0cb38b" stroke-width="2.3" stroke-linejoin="round"/>
<polygon points="654.32,316.50 653.83,318.02 652.23,318.02 653.52,318.96 653.03,320.48 654.32,319.54 655.62,320.48 655.12,318.96 656.41,318.02 654.82,318.02" fill="#0cb38b" stroke="#0cb38b" stroke-width="2.3" stroke-linejoin="round"/>
<polygon points="657.90,327.20 657.40,328.72 655.80,328.72 657.10,329.66 656.60,331.18 657.90,330.24 659.19,331.18 658.70,329.66 659.99,328.72 658.39,328.72" fill="#0cb38b" stroke="#0cb38b" stroke-width="2.3" stroke-linejoin="round"/>
<polygon points="661.47,329.90 660.98,331.42 659.38,331.42 660.67,332.36 660.18,333.88 661.47,332.94 662.76,333.88 662.27,332.36 663.56,331.42 661.96,331.42" fill="#0cb38b" stroke="#0cb38b" stroke-width="2.3" stroke-linejoin="round"/>
<polygon points="665.04,326.50 664.55,328.02 662.95,328.02 664.24,328.96 663.75,330.48 665.04,329.54 666.34,330.48 665.84,328.96 667.14,328.02 665.54,328.02" fill="#0cb38b" stroke="#0cb38b" stroke-width="2.3" stroke-linejoin="round"/>
<polygon points="668.62,330.50 668.12,332.02 666.53,332.02 667.82,332.96 667.32,334.48 668.62,333.54 669.91,334.48 669.42,332.96 670.71,332.02 669.11,332.02" fill="#0cb38b" stroke="#0cb38b" stroke-width="2.3" stroke-linejoin="round"/>
<polygon points="672.19,327.90 671.70,329.42 670.10,329.42 671.39,330.36 670.90,331.88 672.19,330.94 673.49,331.88 672.99,330.36 674.28,329.42 672.69,329.42" fill="#0cb38b" stroke="#0cb38b" stroke-width="2.3" stroke-linejoin="round"/>
<polygon points="675.77,330.46 675.27,331.98 673.67,331.98 674.97,332.92 674.47,334.44 675.77,333.50 677.06,334.44 676.57,332.92 677.86,331.98 676.26,331.98" fill="#0cb38b" stroke="#0cb38b" stroke-width="2.3" stroke-linejoin="round"/>
<polygon points="679.34,333.90 678.85,335.42 677.25,335.42 678.54,336.36 678.05,337.88 679.34,336.94 680.63,337.88 680.14,336.36 681.43,335.42 679.83,335.42" fill="#0cb38b" stroke="#0cb38b" stroke-width="2.3" stroke-linejoin="round"/>
<polygon points="682.91,330.50 682.42,332.02 680.82,332.02 682.11,332.96 681.62,334.48 682.91,333.54 684.21,334.48 683.71,332.96 685.01,332.02 683.41,332.02" fill="#0cb38b" stroke="#0cb38b" stroke-width="2.3" stroke-linejoin="round"/>
<polygon points="686.49,328.46 685.99,329.98 684.40,329.98 685.69,330.92 685.19,332.44 686.49,331.50 687.78,332.44 687.29,330.92 688.58,329.98 686.98,329.98" fill="#0cb38b" stroke="#0cb38b" stroke-width="2.3" stroke-linejoin="round"/>
<polygon points="690.06,329.90 689.57,331.42 687.97,331.42 689.26,332.36 688.77,333.88 690.06,332.94 691.36,333.88 690.86,332.36 692.15,331.42 690.56,331.42" fill="#0cb38b" stroke="#0cb38b" stroke-width="2.3" stroke-linejoin="round"/>
<polygon points="693.64,336.60 693.14,338.12 691.54,338.12 692.84,339.06 692.34,340.58 693.64,339.64 694.93,340.58 694.44,339.06 695.73,338.12 694.13,338.12" fill="#0cb38b" stroke="#0cb38b" stroke-width="2.3" stroke-linejoin="round"/>
<polygon points="697.21,336.60 696.72,338.12 695.12,338.12 696.41,339.06 695.92,340.58 697.21,339.64 698.50,340.58 698.01,339.06 699.30,338.12 697.70,338.12" fill="#0cb38b" stroke="#0cb38b" stroke-width="2.3" stroke-linejoin="round"/>
<polygon points="700.78,330.50 700.29,332.02 698.69,332.02 699.98,332.96 699.49,334.48 700.78,333.54 702.08,334.48 701.58,332.96 702.88,332.02 701.28,332.02" fill="#0cb38b" stroke="#0cb38b" stroke-width="2.3" stroke-linejoin="round"/>
<polygon points="704.36,331.09 703.86,332.61 702.27,332.61 703.56,333.55 703.06,335.07 704.36,334.13 705.65,335.07 705.16,333.55 706.45,332.61 704.85,332.61" fill="#0cb38b" stroke="#0cb38b" stroke-width="2.3" stroke-linejoin="round"/>
<polygon points="707.93,330.50 707.44,332.02 705.84,332.02 707.13,332.96 706.64,334.48 707.93,333.54 709.23,334.48 708.73,332.96 710.02,332.02 708.43,332.02" fill="#0cb38b" stroke="#0cb38b" stroke-width="2.3" stroke-linejoin="round"/>
<polygon points="711.51,337.90 711.01,339.42 709.41,339.42 710.71,340.36 710.21,341.88 711.51,340.94 712.80,341.88 712.31,340.36 713.60,339.42 712.00,339.42" fill="#0cb38b" stroke="#0cb38b" stroke-width="2.3" stroke-linejoin="round"/>
<polygon points="715.08,333.97 714.59,335.49 712.99,335.49 714.28,336.43 713.79,337.95 715.08,337.01 716.37,337.95 715.88,336.43 717.17,335.49 715.57,335.49" fill="#0cb38b" stroke="#0cb38b" stroke-width="2.3" stroke-linejoin="round"/>
<polygon points="718.65,333.90 718.16,335.42 716.56,335.42 717.85,336.36 717.36,337.88 718.65,336.94 719.95,337.88 719.45,336.36 720.75,335.42 719.15,335.42" fill="#0cb38b" stroke="#0cb38b" stroke-width="2.3" stroke-linejoin="round"/>
<polygon points="722.23,342.60 721.73,344.12 720.14,344.12 721.43,345.06 720.93,346.58 722.23,345.64 723.52,346.58 723.03,345.06 724.32,344.12 722.72,344.12" fill="#0cb38b" stroke="#0cb38b" stroke-width="2.3" stroke-linejoin="round"/>
<polygon points="725.80,339.20 725.31,340.72 723.71,340.72 725.00,341.66 724.51,343.18 725.80,342.24 727.10,343.18 726.60,341.66 727.89,340.72 726.30,340.72" fill="#0cb38b" stroke="#0cb38b" stroke-width="2.3" stroke-linejoin="round"/>
<polygon points="729.38,340.30 728.88,341.82 727.28,341.82 728.58,342.76 728.08,344.28 729.38,343.34 730.67,344.28 730.18,342.76 731.47,341.82 729.87,341.82" fill="#0cb38b" stroke="#0cb38b" stroke-width="2.3" stroke-linejoin="round"/>
<polygon points="732.95,345.20 732.46,346.72 730.86,346.72 732.15,347.66 731.66,349.18 732.95,348.24 734.24,349.18 733.75,347.66 735.04,346.72 733.44,346.72" fill="#0cb38b" stroke="#0cb38b" stroke-width="2.3" stroke-linejoin="round"/>
<polygon points="736.52,343.90 736.03,345.42 734.43,345.42 735.72,346.36 735.23,347.88 736.52,346.94 737.82,347.88 737.32,346.36 738.62,345.42 737.02,345.42" fill="#0cb38b" stroke="#0cb38b" stroke-width="2.3" stroke-linejoin="round"/>
<polygon points="740.10,348.60 739.60,350.12 738.01,350.12 739.30,351.06 738.80,352.58 740.10,351.64 741.39,352.58 740.90,351.06 742.19,350.12 740.59,350.12" fill="#0cb38b" stroke="#0cb38b" stroke-width="2.3" stroke-linejoin="round"/>
<polygon points="743.67,344.62 743.18,346.14 741.58,346.14 742.87,347.08 742.38,348.60 743.67,347.66 744.97,348.60 744.47,347.08 745.76,346.14 744.17,346.14" fill="#0cb38b" stroke="#0cb38b" stroke-width="2.3" stroke-linejoin="round"/>
<polygon points="747.25,343.20 746.75,344.72 745.15,344.72 746.45,345.66 745.95,347.18 747.25,346.24 748.54,347.18 748.05,345.66 749.34,344.72 747.74,344.72" fill="#0cb38b" stroke="#0cb38b" stroke-width="2.3" stroke-linejoin="round"/>
<polygon points="750.82,346.60 750.33,348.12 748.73,348.12 750.02,349.06 749.53,350.58 750.82,349.64 752.11,350.58 751.62,349.06 752.91,348.12 751.31,348.12" fill="#0cb38b" stroke="#0cb38b" stroke-width="2.3" stroke-linejoin="round"/>
<polygon points="754.39,352.60 753.90,354.12 752.30,354.12 753.59,355.06 753.10,356.58 754.39,355.64 755.69,356.58 755.19,355.06 756.49,354.12 754.89,354.12" fill="#0cb38b" stroke="#0cb38b" stroke-width="2.3" stroke-linejoin="round"/>
<polygon points="757.97,351.76 757.47,353.28 755.88,353.28 757.17,354.22 756.67,355.74 757.97,354.80 759.26,355.74 758.77,354.22 760.06,353.28 758.46,353.28" fill="#0cb38b" stroke="#0cb38b" stroke-width="2.3" stroke-linejoin="round"/>
<polygon points="761.54,353.90 761.05,355.42 759.45,355.42 760.74,356.36 760.25,357.88 761.54,356.94 762.84,357.88 762.34,356.36 763.63,355.42 762.04,355.42" fill="#0cb38b" stroke="#0cb38b" stroke-width="2.3" stroke-linejoin="round"/>
<polygon points="765.12,346.60 764.62,348.12 763.02,348.12 764.32,349.06 763.82,350.58 765.12,349.64 766.41,350.58 765.92,349.06 767.21,348.12 765.61,348.12" fill="#0cb38b" stroke="#0cb38b" stroke-width="2.3" stroke-linejoin="round"/>
<polygon points="768.69,349.90 768.20,351.42 766.60,351.42 767.89,352.36 767.40,353.88 768.69,352.94 769.98,353.88 769.49,352.36 770.78,351.42 769.18,351.42" fill="#0cb38b" stroke="#0cb38b" stroke-width="2.3" stroke-linejoin="round"/>
<polygon points="772.26,350.60 771.77,352.12 770.17,352.12 771.46,353.06 770.97,354.58 772.26,353.64 773.56,354.58 773.06,353.06 774.36,352.12 772.76,352.12" fill="#0cb38b" stroke="#0cb38b" stroke-width="2.3" stroke-linejoin="round"/>
<polygon points="775.84,356.60 775.34,358.12 773.75,358.12 775.04,359.06 774.54,360.58 775.84,359.64 777.13,360.58 776.64,359.06 777.93,358.12 776.33,358.12" fill="#0cb38b" stroke="#0cb38b" stroke-width="2.3" stroke-linejoin="round"/>
<polygon points="779.41,351.25 778.92,352.77 777.32,352.77 778.61,353.71 778.12,355.23 779.41,354.29 780.71,355.23 780.21,353.71 781.50,352.77 779.91,352.77" fill="#0cb38b" stroke="#0cb38b" stroke-width="2.3" stroke-linejoin="round"/>
<polygon points="782.99,347.30 782.49,348.82 780.89,348.82 782.19,349.76 781.69,351.28 782.99,350.34 784.28,351.28 783.79,349.76 785.08,348.82 783.48,348.82" fill="#0cb38b" stroke="#0cb38b" stroke-width="2.3" stroke-linejoin="round"/>
<polygon points="786.56,355.30 786.07,356.82 784.47,356.82 785.76,357.76 785.27,359.28 786.56,358.34 787.85,359.28 787.36,357.76 788.65,356.82 787.05,356.82" fill="#0cb38b" stroke="#0cb38b" stroke-width="2.3" stroke-linejoin="round"/>
<polygon points="790.13,355.33 789.64,356.85 788.04,356.85 789.33,357.79 788.84,359.31 790.13,358.37 791.43,359.31 790.93,357.79 792.23,356.85 790.63,356.85" fill="#0cb38b" stroke="#0cb38b" stroke-width="2.3" stroke-linejoin="round"/>
<polygon points="793.71,359.30 793.21,360.82 791.62,360.82 792.91,361.76 792.41,363.28 793.71,362.34 795.00,363.28 794.51,361.76 795.80,360.82 794.20,360.82" fill="#0cb38b" stroke="#0cb38b" stroke-width="2.3" stroke-linejoin="round"/>
<polygon points="797.28,356.60 796.79,358.12 795.19,358.12 796.48,359.06 795.99,360.58 797.28,359.64 798.58,360.58 798.08,359.06 799.37,358.12 797.78,358.12" fill="#0cb38b" stroke="#0cb38b" stroke-width="2.3" stroke-linejoin="round"/>
<polygon points="800.86,355.07 800.36,356.59 798.76,356.59 800.06,357.53 799.56,359.05 800.86,358.11 802.15,359.05 801.66,357.53 802.95,356.59 801.35,356.59" fill="#0cb38b" stroke="#0cb38b" stroke-width="2.3" stroke-linejoin="round"/>
<polygon points="804.43,356.40 803.94,357.92 802.34,357.92 803.63,358.86 803.14,360.38 804.43,359.44 805.72,360.38 805.23,358.86 806.52,357.92 804.92,357.92" fill="#0cb38b" stroke="#0cb38b" stroke-width="2.3" stroke-linejoin="round"/>
<polygon points="808.00,358.60 807.51,360.12 805.91,360.12 807.20,361.06 806.71,362.58 808.00,361.64 809.30,362.58 808.80,361.06 810.10,360.12 808.50,360.12" fill="#0cb38b" stroke="#0cb38b" stroke-width="2.3" stroke-linejoin="round"/>
<polygon points="811.58,353.85 811.08,355.37 809.49,355.37 810.78,356.31 810.28,357.83 811.58,356.89 812.87,357.83 812.38,356.31 813.67,355.37 812.07,355.37" fill="#0cb38b" stroke="#0cb38b" stroke-width="2.3" stroke-linejoin="round"/>
<polygon points="815.15,352.60 814.66,354.12 813.06,354.12 814.35,355.06 813.86,356.58 815.15,355.64 816.45,356.58 815.95,355.06 817.24,354.12 815.65,354.12" fill="#0cb38b" stroke="#0cb38b" stroke-width="2.3" stroke-linejoin="round"/>
<polygon points="818.73,358.60 818.23,360.12 816.63,360.12 817.93,361.06 817.43,362.58 818.73,361.64 820.02,362.58 819.53,361.06 820.82,360.12 819.22,360.12" fill="#0cb38b" stroke="#0cb38b" stroke-width="2.3" stroke-linejoin="round"/>
<polygon points="822.30,358.40 821.81,359.92 820.21,359.92 821.50,360.86 821.01,362.38 822.30,361.44 823.59,362.38 823.10,360.86 824.39,359.92 822.79,359.92" fill="#0cb38b" stroke="#0cb38b" stroke-width="2.3" stroke-linejoin="round"/>
<polygon points="825.87,359.40 825.38,360.92 823.78,360.92 825.07,361.86 824.58,363.38 825.87,362.44 827.17,363.38 826.67,361.86 827.97,360.92 826.37,360.92" fill="#0cb38b" stroke="#0cb38b" stroke-width="2.3" stroke-linejoin="round"/>
<polygon points="829.45,357.51 828.95,359.03 827.36,359.03 828.65,359.97 828.15,361.49 829.45,360.55 830.74,361.49 830.25,359.97 831.54,359.03 829.94,359.03" fill="#0cb38b" stroke="#0cb38b" stroke-width="2.3" stroke-linejoin="round"/>
<polygon points="833.02,359.80 832.53,361.32 830.93,361.32 832.22,362.26 831.73,363.78 833.02,362.84 834.32,363.78 833.82,362.26 835.11,361.32 833.52,361.32" fill="#0cb38b" stroke="#0cb38b" stroke-width="2.3" stroke-linejoin="round"/>
<polygon points="836.60,365.30 836.10,366.82 834.50,366.82 835.80,367.76 835.30,369.28 836.60,368.34 837.89,369.28 837.40,367.76 838.69,366.82 837.09,366.82" fill="#0cb38b" stroke="#0cb38b" stroke-width="2.3" stroke-linejoin="round"/>
<polygon points="840.17,365.90 839.68,367.42 838.08,367.42 839.37,368.36 838.88,369.88 840.17,368.94 841.46,369.88 840.97,368.36 842.26,367.42 840.66,367.42" fill="#0cb38b" stroke="#0cb38b" stroke-width="2.3" stroke-linejoin="round"/>
<polygon points="843.74,363.20 843.25,364.72 841.65,364.72 842.94,365.66 842.45,367.18 843.74,366.24 845.04,367.18 844.54,365.66 845.84,364.72 844.24,364.72" fill="#0cb38b" stroke="#0cb38b" stroke-width="2.3" stroke-linejoin="round"/>
<polygon points="847.32,362.50 846.82,364.02 845.23,364.02 846.52,364.96 846.02,366.48 847.32,365.54 848.61,366.48 848.12,364.96 849.41,364.02 847.81,364.02" fill="#0cb38b" stroke="#0cb38b" stroke-width="2.3" stroke-linejoin="round"/>
<polygon points="850.89,365.40 850.40,366.92 848.80,366.92 850.09,367.86 849.60,369.38 850.89,368.44 852.19,369.38 851.69,367.86 852.98,366.92 851.39,366.92" fill="#0cb38b" stroke="#0cb38b" stroke-width="2.3" stroke-linejoin="round"/>
<polygon points="854.47,367.30 853.97,368.82 852.37,368.82 853.67,369.76 853.17,371.28 854.47,370.34 855.76,371.28 855.27,369.76 856.56,368.82 854.96,368.82" fill="#0cb38b" stroke="#0cb38b" stroke-width="2.3" stroke-linejoin="round"/>
<polygon points="858.04,367.50 857.55,369.02 855.95,369.02 857.24,369.96 856.75,371.48 858.04,370.54 859.33,371.48 858.84,369.96 860.13,369.02 858.53,369.02" fill="#0cb38b" stroke="#0cb38b" stroke-width="2.3" stroke-linejoin="round"/>
<polygon points="861.61,370.80 861.12,372.32 859.52,372.32 860.81,373.26 860.32,374.78 861.61,373.84 862.91,374.78 862.41,373.26 863.71,372.32 862.11,372.32" fill="#0cb38b" stroke="#0cb38b" stroke-width="2.3" stroke-linejoin="round"/>
<polygon points="865.19,373.50 864.69,375.02 863.10,375.02 864.39,375.96 863.89,377.48 865.19,376.54 866.48,377.48 865.99,375.96 867.28,375.02 865.68,375.02" fill="#0cb38b" stroke="#0cb38b" stroke-width="2.3" stroke-linejoin="round"/>
<polygon points="868.76,367.30 868.27,368.82 866.67,368.82 867.96,369.76 867.47,371.28 868.76,370.34 870.06,371.28 869.56,369.76 870.85,368.82 869.26,368.82" fill="#0cb38b" stroke="#0cb38b" stroke-width="2.3" stroke-linejoin="round"/>
<polygon points="872.34,372.90 871.84,374.42 870.24,374.42 871.54,375.36 871.04,376.88 872.34,375.94 873.63,376.88 873.14,375.36 874.43,374.42 872.83,374.42" fill="#0cb38b" stroke="#0cb38b" stroke-width="2.3" stroke-linejoin="round"/>
<polygon points="875.91,368.00 875.42,369.52 873.82,369.52 875.11,370.46 874.62,371.98 875.91,371.04 877.20,371.98 876.71,370.46 878.00,369.52 876.40,369.52" fill="#0cb38b" stroke="#0cb38b" stroke-width="2.3" stroke-linejoin="round"/>
<polygon points="879.48,371.50 878.99,373.02 877.39,373.02 878.68,373.96 878.19,375.48 879.48,374.54 880.78,375.48 880.28,373.96 881.58,373.02 879.98,373.02" fill="#0cb38b" stroke="#0cb38b" stroke-width="2.3" stroke-linejoin="round"/>
<polygon points="883.06,369.36 882.56,370.88 880.97,370.88 882.26,371.82 881.76,373.34 883.06,372.40 884.35,373.34 883.86,371.82 885.15,370.88 883.55,370.88" fill="#0cb38b" stroke="#0cb38b" stroke-width="2.3" stroke-linejoin="round"/>
<polygon points="886.63,369.40 886.14,370.92 884.54,370.92 885.83,371.86 885.34,373.38 886.63,372.44 887.93,373.38 887.43,371.86 888.72,370.92 887.13,370.92" fill="#0cb38b" stroke="#0cb38b" stroke-width="2.3" stroke-linejoin="round"/>
<polygon points="890.21,366.68 889.71,368.20 888.11,368.20 889.41,369.14 888.91,370.66 890.21,369.72 891.50,370.66 891.01,369.14 892.30,368.20 890.70,368.20" fill="#0cb38b" stroke="#0cb38b" stroke-width="2.3" stroke-linejoin="round"/>
<polygon points="893.78,365.30 893.29,366.82 891.69,366.82 892.98,367.76 892.49,369.28 893.78,368.34 895.07,369.28 894.58,367.76 895.87,366.82 894.27,366.82" fill="#0cb38b" stroke="#0cb38b" stroke-width="2.3" stroke-linejoin="round"/>
<polygon points="897.35,365.40 896.86,366.92 895.26,366.92 896.55,367.86 896.06,369.38 897.35,368.44 898.65,369.38 898.15,367.86 899.45,366.92 897.85,366.92" fill="#0cb38b" stroke="#0cb38b" stroke-width="2.3" stroke-linejoin="round"/>
<polygon points="900.93,366.70 900.43,368.22 898.84,368.22 900.13,369.16 899.63,370.68 900.93,369.74 902.22,370.68 901.73,369.16 903.02,368.22 901.42,368.22" fill="#0cb38b" stroke="#0cb38b" stroke-width="2.3" stroke-linejoin="round"/>
<polygon points="904.50,366.04 904.01,367.56 902.41,367.56 903.70,368.50 903.21,370.02 904.50,369.08 905.80,370.02 905.30,368.50 906.59,367.56 905.00,367.56" fill="#0cb38b" stroke="#0cb38b" stroke-width="2.3" stroke-linejoin="round"/>
<polygon points="908.08,368.70 907.58,370.22 905.98,370.22 907.28,371.16 906.78,372.68 908.08,371.74 909.37,372.68 908.88,371.16 910.17,370.22 908.57,370.22" fill="#0cb38b" stroke="#0cb38b" stroke-width="2.3" stroke-linejoin="round"/>
<polygon points="911.65,374.90 911.16,376.42 909.56,376.42 910.85,377.36 910.36,378.88 911.65,377.94 912.94,378.88 912.45,377.36 913.74,376.42 912.14,376.42" fill="#0cb38b" stroke="#0cb38b" stroke-width="2.3" stroke-linejoin="round"/>
<polygon points="915.22,368.70 914.73,370.22 913.13,370.22 914.42,371.16 913.93,372.68 915.22,371.74 916.52,372.68 916.02,371.16 917.32,370.22 915.72,370.22" fill="#0cb38b" stroke="#0cb38b" stroke-width="2.3" stroke-linejoin="round"/>
<polygon points="918.80,374.20 918.30,375.72 916.71,375.72 918.00,376.66 917.50,378.18 918.80,377.24 920.09,378.18 919.60,376.66 920.89,375.72 919.29,375.72" fill="#0cb38b" stroke="#0cb38b" stroke-width="2.3" stroke-linejoin="round"/>
<polygon points="922.37,374.90 921.88,376.42 920.28,376.42 921.57,377.36 921.08,378.88 922.37,377.94 923.67,378.88 923.17,377.36 924.46,376.42 922.87,376.42" fill="#0cb38b" stroke="#0cb38b" stroke-width="2.3" stroke-linejoin="round"/>
<polygon points="925.95,380.40 925.45,381.92 923.85,381.92 925.15,382.86 924.65,384.38 925.95,383.44 927.24,384.38 926.75,382.86 928.04,381.92 926.44,381.92" fill="#0cb38b" stroke="#0cb38b" stroke-width="2.3" stroke-linejoin="round"/>
<polygon points="929.52,385.90 929.03,387.42 927.43,387.42 928.72,388.36 928.23,389.88 929.52,388.94 930.81,389.88 930.32,388.36 931.61,387.42 930.01,387.42" fill="#0cb38b" stroke="#0cb38b" stroke-width="2.3" stroke-linejoin="round"/>
<polygon points="933.09,383.20 932.60,384.72 931.00,384.72 932.29,385.66 931.80,387.18 933.09,386.24 934.39,387.18 933.89,385.66 935.19,384.72 933.59,384.72" fill="#0cb38b" stroke="#0cb38b" stroke-width="2.3" stroke-linejoin="round"/>
<polygon points="936.67,385.09 936.17,386.61 934.58,386.61 935.87,387.54 935.37,389.07 936.67,388.13 937.96,389.07 937.47,387.54 938.76,386.61 937.16,386.61" fill="#0cb38b" stroke="#0cb38b" stroke-width="2.3" stroke-linejoin="round"/>
<polygon points="940.24,383.90 939.75,385.42 938.15,385.42 939.44,386.36 938.95,387.88 940.24,386.94 941.54,387.88 941.04,386.36 942.33,385.42 940.74,385.42" fill="#0cb38b" stroke="#0cb38b" stroke-width="2.3" stroke-linejoin="round"/>
<polygon points="943.82,387.30 943.32,388.82 941.72,388.82 943.02,389.76 942.52,391.28 943.82,390.34 945.11,391.28 944.62,389.76 945.91,388.82 944.31,388.82" fill="#0cb38b" stroke="#0cb38b" stroke-width="2.3" stroke-linejoin="round"/>
<polygon points="947.39,386.37 946.90,387.89 945.30,387.89 946.59,388.83 946.10,390.35 947.39,389.41 948.68,390.35 948.19,388.83 949.48,387.89 947.88,387.89" fill="#0cb38b" stroke="#0cb38b" stroke-width="2.3" stroke-linejoin="round"/>
<polygon points="950.96,381.10 950.47,382.62 948.87,382.62 950.16,383.56 949.67,385.08 950.96,384.14 952.26,385.08 951.76,383.56 953.06,382.62 951.46,382.62" fill="#0cb38b" stroke="#0cb38b" stroke-width="2.3" stroke-linejoin="round"/>
<polygon points="954.54,385.90 954.04,387.42 952.45,387.42 953.74,388.36 953.24,389.88 954.54,388.94 955.83,389.88 955.34,388.36 956.63,387.42 955.03,387.42" fill="#0cb38b" stroke="#0cb38b" stroke-width="2.3" stroke-linejoin="round"/>
<polygon points="958.11,387.15 957.62,388.67 956.02,388.67 957.31,389.61 956.82,391.13 958.11,390.19 959.41,391.13 958.91,389.61 960.20,388.67 958.61,388.67" fill="#0cb38b" stroke="#0cb38b" stroke-width="2.3" stroke-linejoin="round"/>
<polygon points="961.69,388.70 961.19,390.22 959.59,390.22 960.89,391.16 960.39,392.68 961.69,391.74 962.98,392.68 962.49,391.16 963.78,390.22 962.18,390.22" fill="#0cb38b" stroke="#0cb38b" stroke-width="2.3" stroke-linejoin="round"/>
<polygon points="965.26,381.10 964.77,382.62 963.17,382.62 964.46,383.56 963.97,385.08 965.26,384.14 966.55,385.08 966.06,383.56 967.35,382.62 965.75,382.62" fill="#0cb38b" stroke="#0cb38b" stroke-width="2.3" stroke-linejoin="round"/>
<polygon points="968.83,382.78 968.34,384.30 966.74,384.30 968.03,385.24 967.54,386.76 968.83,385.82 970.13,386.76 969.63,385.24 970.93,384.30 969.33,384.30" fill="#0cb38b" stroke="#0cb38b" stroke-width="2.3" stroke-linejoin="round"/>
<polygon points="972.41,384.60 971.91,386.12 970.32,386.12 971.61,387.06 971.11,388.58 972.41,387.64 973.70,388.58 973.21,387.06 974.50,386.12 972.90,386.12" fill="#0cb38b" stroke="#0cb38b" stroke-width="2.3" stroke-linejoin="round"/>
<polygon points="975.98,381.38 975.49,382.90 973.89,382.90 975.18,383.84 974.69,385.36 975.98,384.42 977.28,385.36 976.78,383.84 978.07,382.90 976.48,382.90" fill="#0cb38b" stroke="#0cb38b" stroke-width="2.3" stroke-linejoin="round"/>
<polygon points="979.56,381.80 979.06,383.32 977.46,383.32 978.76,384.26 978.26,385.78 979.56,384.84 980.85,385.78 980.36,384.26 981.65,383.32 980.05,383.32" fill="#0cb38b" stroke="#0cb38b" stroke-width="2.3" stroke-linejoin="round"/>
<polygon points="983.13,387.30 982.64,388.82 981.04,388.82 982.33,389.76 981.84,391.28 983.13,390.34 984.42,391.28 983.93,389.76 985.22,388.82 983.62,388.82" fill="#0cb38b" stroke="#0cb38b" stroke-width="2.3" stroke-linejoin="round"/>
<polygon points="986.70,383.20 986.21,384.72 984.61,384.72 985.90,385.66 985.41,387.18 986.70,386.24 988.00,387.18 987.50,385.66 988.80,384.72 987.20,384.72" fill="#0cb38b" stroke="#0cb38b" stroke-width="2.3" stroke-linejoin="round"/>
<polygon points="990.28,381.80 989.78,383.32 988.19,383.32 989.48,384.26 988.98,385.78 990.28,384.84 991.57,385.78 991.08,384.26 992.37,383.32 990.77,383.32" fill="#0cb38b" stroke="#0cb38b" stroke-width="2.3" stroke-linejoin="round"/>
<polygon points="993.85,383.90 993.36,385.42 991.76,385.42 993.05,386.36 992.56,387.88 993.85,386.94 995.15,387.88 994.65,386.36 995.94,385.42 994.35,385.42" fill="#0cb38b" stroke="#0cb38b" stroke-width="2.3" stroke-linejoin="round"/>
<polygon points="997.43,384.91 996.93,386.43 995.33,386.43 996.63,387.37 996.13,388.89 997.43,387.95 998.72,388.89 998.23,387.37 999.52,386.43 997.92,386.43" fill="#0cb38b" stroke="#0cb38b" stroke-width="2.3" stroke-linejoin="round"/>
<polygon points="1001.00,387.30 1000.51,388.82 998.91,388.82 1000.20,389.76 999.71,391.28 1001.00,390.34 1002.29,391.28 1001.80,389.76 1003.09,388.82 1001.49,388.82" fill="#0cb38b" stroke="#0cb38b" stroke-width="2.3" stroke-linejoin="round"/>
<polygon points="1004.57,392.80 1004.08,394.32 1002.48,394.32 1003.77,395.26 1003.28,396.78 1004.57,395.84 1005.87,396.78 1005.37,395.26 1006.67,394.32 1005.07,394.32" fill="#0cb38b" stroke="#0cb38b" stroke-width="2.3" stroke-linejoin="round"/>
<polyline points="650.75,382.50 654.32,382.74 657.90,382.97 661.47,383.21 665.04,383.44 668.62,383.68 672.19,383.91 675.77,384.15 679.34,384.39 682.91,384.62 686.49,384.86 690.06,385.09 693.64,385.33 697.21,385.56 700.78,385.80 704.36,386.01 707.93,386.23 711.51,386.44 715.08,386.66 718.65,386.87 722.23,387.09 725.80,387.30 729.38,387.51 732.95,387.73 736.52,387.94 740.10,388.16 743.67,388.37 747.25,388.59 750.82,388.80 754.39,388.99 757.97,389.19 761.54,389.38 765.12,389.57 768.69,389.76 772.26,389.96 775.84,390.15 779.41,390.34 782.99,390.54 786.56,390.73 790.13,390.92 793.71,391.11 797.28,391.31 800.86,391.50 804.43,391.66 808.00,391.83 811.58,391.99 815.15,392.16 818.73,392.32 822.30,392.49 825.87,392.65 829.45,392.81 833.02,392.98 836.60,393.14 840.17,393.31 843.74,393.47 847.32,393.64 850.89,393.80 854.47,393.94 858.04,394.09 861.61,394.23 865.19,394.37 868.76,394.51 872.34,394.66 875.91,394.80 879.48,394.94 883.06,395.09 886.63,395.23 890.21,395.37 893.78,395.51 897.35,395.66 900.93,395.80 904.50,395.94 908.08,396.09 911.65,396.23 915.22,396.37 918.80,396.51 922.37,396.66 925.95,396.80 929.52,396.94 933.09,397.09 936.67,397.23 940.24,397.37 943.82,397.51 947.39,397.66 950.96,397.80 954.54,398.00 958.11,398.20 961.69,398.40 965.26,398.60 968.83,398.80 972.41,399.00 975.98,399.20 979.56,399.40 983.13,399.60 986.70,399.80 990.28,400.00 993.85,400.20 997.43,400.40 1001.00,400.60 1004.57,400.80" fill="none" stroke="#00d1f8" stroke-width="1.8" stroke-dasharray="5.5,2.4"/>
<path d="M650.75 379.45L647.70 385.55L653.80 385.55Z" fill="#00d1f8" stroke="#00d1f8" stroke-width="2.1" stroke-linejoin="miter"/>
<path d="M654.32 379.69L651.27 385.79L657.37 385.79Z" fill="#00d1f8" stroke="#00d1f8" stroke-width="2.1" stroke-linejoin="miter"/>
<path d="M657.90 379.92L654.85 386.02L660.95 386.02Z" fill="#00d1f8" stroke="#00d1f8" stroke-width="2.1" stroke-linejoin="miter"/>
<path d="M661.47 380.16L658.42 386.26L664.52 386.26Z" fill="#00d1f8" stroke="#00d1f8" stroke-width="2.1" stroke-linejoin="miter"/>
<path d="M665.04 380.39L661.99 386.49L668.09 386.49Z" fill="#00d1f8" stroke="#00d1f8" stroke-width="2.1" stroke-linejoin="miter"/>
<path d="M668.62 380.63L665.57 386.73L671.67 386.73Z" fill="#00d1f8" stroke="#00d1f8" stroke-width="2.1" stroke-linejoin="miter"/>
<path d="M672.19 380.86L669.14 386.96L675.24 386.96Z" fill="#00d1f8" stroke="#00d1f8" stroke-width="2.1" stroke-linejoin="miter"/>
<path d="M675.77 381.10L672.72 387.20L678.82 387.20Z" fill="#00d1f8" stroke="#00d1f8" stroke-width="2.1" stroke-linejoin="miter"/>
<path d="M679.34 381.34L676.29 387.44L682.39 387.44Z" fill="#00d1f8" stroke="#00d1f8" stroke-width="2.1" stroke-linejoin="miter"/>
<path d="M682.91 381.57L679.86 387.67L685.96 387.67Z" fill="#00d1f8" stroke="#00d1f8" stroke-width="2.1" stroke-linejoin="miter"/>
<path d="M686.49 381.81L683.44 387.91L689.54 387.91Z" fill="#00d1f8" stroke="#00d1f8" stroke-width="2.1" stroke-linejoin="miter"/>
<path d="M690.06 382.04L687.01 388.14L693.11 388.14Z" fill="#00d1f8" stroke="#00d1f8" stroke-width="2.1" stroke-linejoin="miter"/>
<path d="M693.64 382.28L690.59 388.38L696.69 388.38Z" fill="#00d1f8" stroke="#00d1f8" stroke-width="2.1" stroke-linejoin="miter"/>
<path d="M697.21 382.51L694.16 388.61L700.26 388.61Z" fill="#00d1f8" stroke="#00d1f8" stroke-width="2.1" stroke-linejoin="miter"/>
<path d="M700.78 382.75L697.73 388.85L703.83 388.85Z" fill="#00d1f8" stroke="#00d1f8" stroke-width="2.1" stroke-linejoin="miter"/>
<path d="M704.36 382.96L701.31 389.06L707.41 389.06Z" fill="#00d1f8" stroke="#00d1f8" stroke-width="2.1" stroke-linejoin="miter"/>
<path d="M707.93 383.18L704.88 389.28L710.98 389.28Z" fill="#00d1f8" stroke="#00d1f8" stroke-width="2.1" stroke-linejoin="miter"/>
<path d="M711.51 383.39L708.46 389.49L714.56 389.49Z" fill="#00d1f8" stroke="#00d1f8" stroke-width="2.1" stroke-linejoin="miter"/>
<path d="M715.08 383.61L712.03 389.71L718.13 389.71Z" fill="#00d1f8" stroke="#00d1f8" stroke-width="2.1" stroke-linejoin="miter"/>
<path d="M718.65 383.82L715.60 389.92L721.70 389.92Z" fill="#00d1f8" stroke="#00d1f8" stroke-width="2.1" stroke-linejoin="miter"/>
<path d="M722.23 384.04L719.18 390.14L725.28 390.14Z" fill="#00d1f8" stroke="#00d1f8" stroke-width="2.1" stroke-linejoin="miter"/>
<path d="M725.80 384.25L722.75 390.35L728.85 390.35Z" fill="#00d1f8" stroke="#00d1f8" stroke-width="2.1" stroke-linejoin="miter"/>
<path d="M729.38 384.46L726.33 390.56L732.43 390.56Z" fill="#00d1f8" stroke="#00d1f8" stroke-width="2.1" stroke-linejoin="miter"/>
<path d="M732.95 384.68L729.90 390.78L736.00 390.78Z" fill="#00d1f8" stroke="#00d1f8" stroke-width="2.1" stroke-linejoin="miter"/>
<path d="M736.52 384.89L733.47 390.99L739.57 390.99Z" fill="#00d1f8" stroke="#00d1f8" stroke-width="2.1" stroke-linejoin="miter"/>
<path d="M740.10 385.11L737.05 391.21L743.15 391.21Z" fill="#00d1f8" stroke="#00d1f8" stroke-width="2.1" stroke-linejoin="miter"/>
<path d="M743.67 385.32L740.62 391.42L746.72 391.42Z" fill="#00d1f8" stroke="#00d1f8" stroke-width="2.1" stroke-linejoin="miter"/>
<path d="M747.25 385.54L744.20 391.64L750.30 391.64Z" fill="#00d1f8" stroke="#00d1f8" stroke-width="2.1" stroke-linejoin="miter"/>
<path d="M750.82 385.75L747.77 391.85L753.87 391.85Z" fill="#00d1f8" stroke="#00d1f8" stroke-width="2.1" stroke-linejoin="miter"/>
<path d="M754.39 385.94L751.34 392.04L757.44 392.04Z" fill="#00d1f8" stroke="#00d1f8" stroke-width="2.1" stroke-linejoin="miter"/>
<path d="M757.97 386.14L754.92 392.24L761.02 392.24Z" fill="#00d1f8" stroke="#00d1f8" stroke-width="2.1" stroke-linejoin="miter"/>
<path d="M761.54 386.33L758.49 392.43L764.59 392.43Z" fill="#00d1f8" stroke="#00d1f8" stroke-width="2.1" stroke-linejoin="miter"/>
<path d="M765.12 386.52L762.07 392.62L768.17 392.62Z" fill="#00d1f8" stroke="#00d1f8" stroke-width="2.1" stroke-linejoin="miter"/>
<path d="M768.69 386.71L765.64 392.81L771.74 392.81Z" fill="#00d1f8" stroke="#00d1f8" stroke-width="2.1" stroke-linejoin="miter"/>
<path d="M772.26 386.91L769.21 393.01L775.31 393.01Z" fill="#00d1f8" stroke="#00d1f8" stroke-width="2.1" stroke-linejoin="miter"/>
<path d="M775.84 387.10L772.79 393.20L778.89 393.20Z" fill="#00d1f8" stroke="#00d1f8" stroke-width="2.1" stroke-linejoin="miter"/>
<path d="M779.41 387.29L776.36 393.39L782.46 393.39Z" fill="#00d1f8" stroke="#00d1f8" stroke-width="2.1" stroke-linejoin="miter"/>
<path d="M782.99 387.49L779.94 393.59L786.04 393.59Z" fill="#00d1f8" stroke="#00d1f8" stroke-width="2.1" stroke-linejoin="miter"/>
<path d="M786.56 387.68L783.51 393.78L789.61 393.78Z" fill="#00d1f8" stroke="#00d1f8" stroke-width="2.1" stroke-linejoin="miter"/>
<path d="M790.13 387.87L787.08 393.97L793.18 393.97Z" fill="#00d1f8" stroke="#00d1f8" stroke-width="2.1" stroke-linejoin="miter"/>
<path d="M793.71 388.06L790.66 394.16L796.76 394.16Z" fill="#00d1f8" stroke="#00d1f8" stroke-width="2.1" stroke-linejoin="miter"/>
<path d="M797.28 388.26L794.23 394.36L800.33 394.36Z" fill="#00d1f8" stroke="#00d1f8" stroke-width="2.1" stroke-linejoin="miter"/>
<path d="M800.86 388.45L797.81 394.55L803.91 394.55Z" fill="#00d1f8" stroke="#00d1f8" stroke-width="2.1" stroke-linejoin="miter"/>
<path d="M804.43 388.61L801.38 394.71L807.48 394.71Z" fill="#00d1f8" stroke="#00d1f8" stroke-width="2.1" stroke-linejoin="miter"/>
<path d="M808.00 388.78L804.95 394.88L811.05 394.88Z" fill="#00d1f8" stroke="#00d1f8" stroke-width="2.1" stroke-linejoin="miter"/>
<path d="M811.58 388.94L808.53 395.04L814.63 395.04Z" fill="#00d1f8" stroke="#00d1f8" stroke-width="2.1" stroke-linejoin="miter"/>
<path d="M815.15 389.11L812.10 395.21L818.20 395.21Z" fill="#00d1f8" stroke="#00d1f8" stroke-width="2.1" stroke-linejoin="miter"/>
<path d="M818.73 389.27L815.68 395.37L821.78 395.37Z" fill="#00d1f8" stroke="#00d1f8" stroke-width="2.1" stroke-linejoin="miter"/>
<path d="M822.30 389.44L819.25 395.54L825.35 395.54Z" fill="#00d1f8" stroke="#00d1f8" stroke-width="2.1" stroke-linejoin="miter"/>
<path d="M825.87 389.60L822.82 395.70L828.92 395.70Z" fill="#00d1f8" stroke="#00d1f8" stroke-width="2.1" stroke-linejoin="miter"/>
<path d="M829.45 389.76L826.40 395.86L832.50 395.86Z" fill="#00d1f8" stroke="#00d1f8" stroke-width="2.1" stroke-linejoin="miter"/>
<path d="M833.02 389.93L829.97 396.03L836.07 396.03Z" fill="#00d1f8" stroke="#00d1f8" stroke-width="2.1" stroke-linejoin="miter"/>
<path d="M836.60 390.09L833.55 396.19L839.65 396.19Z" fill="#00d1f8" stroke="#00d1f8" stroke-width="2.1" stroke-linejoin="miter"/>
<path d="M840.17 390.26L837.12 396.36L843.22 396.36Z" fill="#00d1f8" stroke="#00d1f8" stroke-width="2.1" stroke-linejoin="miter"/>
<path d="M843.74 390.42L840.69 396.52L846.79 396.52Z" fill="#00d1f8" stroke="#00d1f8" stroke-width="2.1" stroke-linejoin="miter"/>
<path d="M847.32 390.59L844.27 396.69L850.37 396.69Z" fill="#00d1f8" stroke="#00d1f8" stroke-width="2.1" stroke-linejoin="miter"/>
<path d="M850.89 390.75L847.84 396.85L853.94 396.85Z" fill="#00d1f8" stroke="#00d1f8" stroke-width="2.1" stroke-linejoin="miter"/>
<path d="M854.47 390.89L851.42 396.99L857.52 396.99Z" fill="#00d1f8" stroke="#00d1f8" stroke-width="2.1" stroke-linejoin="miter"/>
<path d="M858.04 391.04L854.99 397.14L861.09 397.14Z" fill="#00d1f8" stroke="#00d1f8" stroke-width="2.1" stroke-linejoin="miter"/>
<path d="M861.61 391.18L858.56 397.28L864.66 397.28Z" fill="#00d1f8" stroke="#00d1f8" stroke-width="2.1" stroke-linejoin="miter"/>
<path d="M865.19 391.32L862.14 397.42L868.24 397.42Z" fill="#00d1f8" stroke="#00d1f8" stroke-width="2.1" stroke-linejoin="miter"/>
<path d="M868.76 391.46L865.71 397.56L871.81 397.56Z" fill="#00d1f8" stroke="#00d1f8" stroke-width="2.1" stroke-linejoin="miter"/>
<path d="M872.34 391.61L869.29 397.71L875.39 397.71Z" fill="#00d1f8" stroke="#00d1f8" stroke-width="2.1" stroke-linejoin="miter"/>
<path d="M875.91 391.75L872.86 397.85L878.96 397.85Z" fill="#00d1f8" stroke="#00d1f8" stroke-width="2.1" stroke-linejoin="miter"/>
<path d="M879.48 391.89L876.43 397.99L882.53 397.99Z" fill="#00d1f8" stroke="#00d1f8" stroke-width="2.1" stroke-linejoin="miter"/>
<path d="M883.06 392.04L880.01 398.14L886.11 398.14Z" fill="#00d1f8" stroke="#00d1f8" stroke-width="2.1" stroke-linejoin="miter"/>
<path d="M886.63 392.18L883.58 398.28L889.68 398.28Z" fill="#00d1f8" stroke="#00d1f8" stroke-width="2.1" stroke-linejoin="miter"/>
<path d="M890.21 392.32L887.16 398.42L893.26 398.42Z" fill="#00d1f8" stroke="#00d1f8" stroke-width="2.1" stroke-linejoin="miter"/>
<path d="M893.78 392.46L890.73 398.56L896.83 398.56Z" fill="#00d1f8" stroke="#00d1f8" stroke-width="2.1" stroke-linejoin="miter"/>
<path d="M897.35 392.61L894.30 398.71L900.40 398.71Z" fill="#00d1f8" stroke="#00d1f8" stroke-width="2.1" stroke-linejoin="miter"/>
<path d="M900.93 392.75L897.88 398.85L903.98 398.85Z" fill="#00d1f8" stroke="#00d1f8" stroke-width="2.1" stroke-linejoin="miter"/>
<path d="M904.50 392.89L901.45 398.99L907.55 398.99Z" fill="#00d1f8" stroke="#00d1f8" stroke-width="2.1" stroke-linejoin="miter"/>
<path d="M908.08 393.04L905.03 399.14L911.13 399.14Z" fill="#00d1f8" stroke="#00d1f8" stroke-width="2.1" stroke-linejoin="miter"/>
<path d="M911.65 393.18L908.60 399.28L914.70 399.28Z" fill="#00d1f8" stroke="#00d1f8" stroke-width="2.1" stroke-linejoin="miter"/>
<path d="M915.22 393.32L912.17 399.42L918.27 399.42Z" fill="#00d1f8" stroke="#00d1f8" stroke-width="2.1" stroke-linejoin="miter"/>
<path d="M918.80 393.46L915.75 399.56L921.85 399.56Z" fill="#00d1f8" stroke="#00d1f8" stroke-width="2.1" stroke-linejoin="miter"/>
<path d="M922.37 393.61L919.32 399.71L925.42 399.71Z" fill="#00d1f8" stroke="#00d1f8" stroke-width="2.1" stroke-linejoin="miter"/>
<path d="M925.95 393.75L922.90 399.85L929.00 399.85Z" fill="#00d1f8" stroke="#00d1f8" stroke-width="2.1" stroke-linejoin="miter"/>
<path d="M929.52 393.89L926.47 399.99L932.57 399.99Z" fill="#00d1f8" stroke="#00d1f8" stroke-width="2.1" stroke-linejoin="miter"/>
<path d="M933.09 394.04L930.04 400.14L936.14 400.14Z" fill="#00d1f8" stroke="#00d1f8" stroke-width="2.1" stroke-linejoin="miter"/>
<path d="M936.67 394.18L933.62 400.28L939.72 400.28Z" fill="#00d1f8" stroke="#00d1f8" stroke-width="2.1" stroke-linejoin="miter"/>
<path d="M940.24 394.32L937.19 400.42L943.29 400.42Z" fill="#00d1f8" stroke="#00d1f8" stroke-width="2.1" stroke-linejoin="miter"/>
<path d="M943.82 394.46L940.77 400.56L946.87 400.56Z" fill="#00d1f8" stroke="#00d1f8" stroke-width="2.1" stroke-linejoin="miter"/>
<path d="M947.39 394.61L944.34 400.71L950.44 400.71Z" fill="#00d1f8" stroke="#00d1f8" stroke-width="2.1" stroke-linejoin="miter"/>
<path d="M950.96 394.75L947.91 400.85L954.01 400.85Z" fill="#00d1f8" stroke="#00d1f8" stroke-width="2.1" stroke-linejoin="miter"/>
<path d="M954.54 394.95L951.49 401.05L957.59 401.05Z" fill="#00d1f8" stroke="#00d1f8" stroke-width="2.1" stroke-linejoin="miter"/>
<path d="M958.11 395.15L955.06 401.25L961.16 401.25Z" fill="#00d1f8" stroke="#00d1f8" stroke-width="2.1" stroke-linejoin="miter"/>
<path d="M961.69 395.35L958.64 401.45L964.74 401.45Z" fill="#00d1f8" stroke="#00d1f8" stroke-width="2.1" stroke-linejoin="miter"/>
<path d="M965.26 395.55L962.21 401.65L968.31 401.65Z" fill="#00d1f8" stroke="#00d1f8" stroke-width="2.1" stroke-linejoin="miter"/>
<path d="M968.83 395.75L965.78 401.85L971.88 401.85Z" fill="#00d1f8" stroke="#00d1f8" stroke-width="2.1" stroke-linejoin="miter"/>
<path d="M972.41 395.95L969.36 402.05L975.46 402.05Z" fill="#00d1f8" stroke="#00d1f8" stroke-width="2.1" stroke-linejoin="miter"/>
<path d="M975.98 396.15L972.93 402.25L979.03 402.25Z" fill="#00d1f8" stroke="#00d1f8" stroke-width="2.1" stroke-linejoin="miter"/>
<path d="M979.56 396.35L976.51 402.45L982.61 402.45Z" fill="#00d1f8" stroke="#00d1f8" stroke-width="2.1" stroke-linejoin="miter"/>
<path d="M983.13 396.55L980.08 402.65L986.18 402.65Z" fill="#00d1f8" stroke="#00d1f8" stroke-width="2.1" stroke-linejoin="miter"/>
<path d="M986.70 396.75L983.65 402.85L989.75 402.85Z" fill="#00d1f8" stroke="#00d1f8" stroke-width="2.1" stroke-linejoin="miter"/>
<path d="M990.28 396.95L987.23 403.05L993.33 403.05Z" fill="#00d1f8" stroke="#00d1f8" stroke-width="2.1" stroke-linejoin="miter"/>
<path d="M993.85 397.15L990.80 403.25L996.90 403.25Z" fill="#00d1f8" stroke="#00d1f8" stroke-width="2.1" stroke-linejoin="miter"/>
<path d="M997.43 397.35L994.38 403.45L1000.48 403.45Z" fill="#00d1f8" stroke="#00d1f8" stroke-width="2.1" stroke-linejoin="miter"/>
<path d="M1001.00 397.55L997.95 403.65L1004.05 403.65Z" fill="#00d1f8" stroke="#00d1f8" stroke-width="2.1" stroke-linejoin="miter"/>
<path d="M1004.57 397.75L1001.52 403.85L1007.62 403.85Z" fill="#00d1f8" stroke="#00d1f8" stroke-width="2.1" stroke-linejoin="miter"/>
</g>
<g clip-path="url(#cp02)">
<polyline points="1078.85,378.20 1082.42,354.80 1086.00,374.40 1089.57,364.66 1093.14,357.00 1096.72,369.10 1100.29,349.50 1103.87,356.30 1107.44,359.25 1111.01,359.30 1114.59,361.08 1118.16,363.73 1121.74,369.10 1125.31,360.00 1128.88,371.40 1132.46,352.50 1136.03,341.90 1139.61,345.03 1143.18,344.20 1146.75,356.30 1150.33,357.80 1153.90,372.10 1157.48,381.20 1161.05,375.27 1164.62,369.10 1168.20,352.50 1171.77,346.80 1175.35,344.20 1178.92,350.20 1182.49,366.10 1186.07,367.79 1189.64,369.10 1193.22,357.00 1196.79,352.07 1200.36,351.30 1203.94,340.90 1207.51,354.20 1211.09,343.70 1214.66,342.17 1218.23,340.40 1221.81,347.96 1225.38,351.30 1228.96,344.70 1232.53,350.10 1236.10,352.30 1239.68,350.76 1243.25,347.50 1246.83,343.30 1250.40,345.30 1253.97,349.40 1257.55,361.80 1261.12,355.01 1264.70,349.40 1268.27,344.20 1271.84,342.98 1275.42,344.70 1278.99,350.40 1282.57,349.20 1286.14,345.60 1289.71,350.40 1293.29,346.04 1296.86,341.40 1300.44,350.40 1304.01,348.28 1307.58,343.70 1311.16,352.30 1314.73,363.70 1318.31,353.20 1321.88,340.90 1325.45,336.10 1329.03,335.20 1332.60,335.80 1336.18,342.30 1339.75,335.80 1343.32,343.10 1346.90,330.90 1350.47,332.60 1354.05,337.50 1357.62,350.90 1361.19,351.30 1364.77,344.40 1368.34,354.50 1371.92,354.13 1375.49,356.20 1379.06,351.30 1382.64,349.70 1386.21,352.10 1389.79,344.80 1393.36,341.50 1396.93,342.30 1400.51,336.20 1404.08,341.10 1407.66,325.20 1411.23,322.00 1414.80,312.20 1418.38,314.70 1421.95,328.50 1425.53,328.90 1429.10,348.00 1432.67,357.80" fill="none" stroke="#b54fe0" stroke-width="1.8" stroke-dasharray="5.5,2.4"/>
<circle cx="1078.85" cy="378.20" r="3.05" fill="#b54fe0" stroke="#b54fe0" stroke-width="2.1"/>
<circle cx="1082.42" cy="354.80" r="3.05" fill="#b54fe0" stroke="#b54fe0" stroke-width="2.1"/>
<circle cx="1086.00" cy="374.40" r="3.05" fill="#b54fe0" stroke="#b54fe0" stroke-width="2.1"/>
<circle cx="1089.57" cy="364.66" r="3.05" fill="#b54fe0" stroke="#b54fe0" stroke-width="2.1"/>
<circle cx="1093.14" cy="357.00" r="3.05" fill="#b54fe0" stroke="#b54fe0" stroke-width="2.1"/>
<circle cx="1096.72" cy="369.10" r="3.05" fill="#b54fe0" stroke="#b54fe0" stroke-width="2.1"/>
<circle cx="1100.29" cy="349.50" r="3.05" fill="#b54fe0" stroke="#b54fe0" stroke-width="2.1"/>
<circle cx="1103.87" cy="356.30" r="3.05" fill="#b54fe0" stroke="#b54fe0" stroke-width="2.1"/>
<circle cx="1107.44" cy="359.25" r="3.05" fill="#b54fe0" stroke="#b54fe0" stroke-width="2.1"/>
<circle cx="1111.01" cy="359.30" r="3.05" fill="#b54fe0" stroke="#b54fe0" stroke-width="2.1"/>
<circle cx="1114.59" cy="361.08" r="3.05" fill="#b54fe0" stroke="#b54fe0" stroke-width="2.1"/>
<circle cx="1118.16" cy="363.73" r="3.05" fill="#b54fe0" stroke="#b54fe0" stroke-width="2.1"/>
<circle cx="1121.74" cy="369.10" r="3.05" fill="#b54fe0" stroke="#b54fe0" stroke-width="2.1"/>
<circle cx="1125.31" cy="360.00" r="3.05" fill="#b54fe0" stroke="#b54fe0" stroke-width="2.1"/>
<circle cx="1128.88" cy="371.40" r="3.05" fill="#b54fe0" stroke="#b54fe0" stroke-width="2.1"/>
<circle cx="1132.46" cy="352.50" r="3.05" fill="#b54fe0" stroke="#b54fe0" stroke-width="2.1"/>
<circle cx="1136.03" cy="341.90" r="3.05" fill="#b54fe0" stroke="#b54fe0" stroke-width="2.1"/>
<circle cx="1139.61" cy="345.03" r="3.05" fill="#b54fe0" stroke="#b54fe0" stroke-width="2.1"/>
<circle cx="1143.18" cy="344.20" r="3.05" fill="#b54fe0" stroke="#b54fe0" stroke-width="2.1"/>
<circle cx="1146.75" cy="356.30" r="3.05" fill="#b54fe0" stroke="#b54fe0" stroke-width="2.1"/>
<circle cx="1150.33" cy="357.80" r="3.05" fill="#b54fe0" stroke="#b54fe0" stroke-width="2.1"/>
<circle cx="1153.90" cy="372.10" r="3.05" fill="#b54fe0" stroke="#b54fe0" stroke-width="2.1"/>
<circle cx="1157.48" cy="381.20" r="3.05" fill="#b54fe0" stroke="#b54fe0" stroke-width="2.1"/>
<circle cx="1161.05" cy="375.27" r="3.05" fill="#b54fe0" stroke="#b54fe0" stroke-width="2.1"/>
<circle cx="1164.62" cy="369.10" r="3.05" fill="#b54fe0" stroke="#b54fe0" stroke-width="2.1"/>
<circle cx="1168.20" cy="352.50" r="3.05" fill="#b54fe0" stroke="#b54fe0" stroke-width="2.1"/>
<circle cx="1171.77" cy="346.80" r="3.05" fill="#b54fe0" stroke="#b54fe0" stroke-width="2.1"/>
<circle cx="1175.35" cy="344.20" r="3.05" fill="#b54fe0" stroke="#b54fe0" stroke-width="2.1"/>
<circle cx="1178.92" cy="350.20" r="3.05" fill="#b54fe0" stroke="#b54fe0" stroke-width="2.1"/>
<circle cx="1182.49" cy="366.10" r="3.05" fill="#b54fe0" stroke="#b54fe0" stroke-width="2.1"/>
<circle cx="1186.07" cy="367.79" r="3.05" fill="#b54fe0" stroke="#b54fe0" stroke-width="2.1"/>
<circle cx="1189.64" cy="369.10" r="3.05" fill="#b54fe0" stroke="#b54fe0" stroke-width="2.1"/>
<circle cx="1193.22" cy="357.00" r="3.05" fill="#b54fe0" stroke="#b54fe0" stroke-width="2.1"/>
<circle cx="1196.79" cy="352.07" r="3.05" fill="#b54fe0" stroke="#b54fe0" stroke-width="2.1"/>
<circle cx="1200.36" cy="351.30" r="3.05" fill="#b54fe0" stroke="#b54fe0" stroke-width="2.1"/>
<circle cx="1203.94" cy="340.90" r="3.05" fill="#b54fe0" stroke="#b54fe0" stroke-width="2.1"/>
<circle cx="1207.51" cy="354.20" r="3.05" fill="#b54fe0" stroke="#b54fe0" stroke-width="2.1"/>
<circle cx="1211.09" cy="343.70" r="3.05" fill="#b54fe0" stroke="#b54fe0" stroke-width="2.1"/>
<circle cx="1214.66" cy="342.17" r="3.05" fill="#b54fe0" stroke="#b54fe0" stroke-width="2.1"/>
<circle cx="1218.23" cy="340.40" r="3.05" fill="#b54fe0" stroke="#b54fe0" stroke-width="2.1"/>
<circle cx="1221.81" cy="347.96" r="3.05" fill="#b54fe0" stroke="#b54fe0" stroke-width="2.1"/>
<circle cx="1225.38" cy="351.30" r="3.05" fill="#b54fe0" stroke="#b54fe0" stroke-width="2.1"/>
<circle cx="1228.96" cy="344.70" r="3.05" fill="#b54fe0" stroke="#b54fe0" stroke-width="2.1"/>
<circle cx="1232.53" cy="350.10" r="3.05" fill="#b54fe0" stroke="#b54fe0" stroke-width="2.1"/>
<circle cx="1236.10" cy="352.30" r="3.05" fill="#b54fe0" stroke="#b54fe0" stroke-width="2.1"/>
<circle cx="1239.68" cy="350.76" r="3.05" fill="#b54fe0" stroke="#b54fe0" stroke-width="2.1"/>
<circle cx="1243.25" cy="347.50" r="3.05" fill="#b54fe0" stroke="#b54fe0" stroke-width="2.1"/>
<circle cx="1246.83" cy="343.30" r="3.05" fill="#b54fe0" stroke="#b54fe0" stroke-width="2.1"/>
<circle cx="1250.40" cy="345.30" r="3.05" fill="#b54fe0" stroke="#b54fe0" stroke-width="2.1"/>
<circle cx="1253.97" cy="349.40" r="3.05" fill="#b54fe0" stroke="#b54fe0" stroke-width="2.1"/>
<circle cx="1257.55" cy="361.80" r="3.05" fill="#b54fe0" stroke="#b54fe0" stroke-width="2.1"/>
<circle cx="1261.12" cy="355.01" r="3.05" fill="#b54fe0" stroke="#b54fe0" stroke-width="2.1"/>
<circle cx="1264.70" cy="349.40" r="3.05" fill="#b54fe0" stroke="#b54fe0" stroke-width="2.1"/>
<circle cx="1268.27" cy="344.20" r="3.05" fill="#b54fe0" stroke="#b54fe0" stroke-width="2.1"/>
<circle cx="1271.84" cy="342.98" r="3.05" fill="#b54fe0" stroke="#b54fe0" stroke-width="2.1"/>
<circle cx="1275.42" cy="344.70" r="3.05" fill="#b54fe0" stroke="#b54fe0" stroke-width="2.1"/>
<circle cx="1278.99" cy="350.40" r="3.05" fill="#b54fe0" stroke="#b54fe0" stroke-width="2.1"/>
<circle cx="1282.57" cy="349.20" r="3.05" fill="#b54fe0" stroke="#b54fe0" stroke-width="2.1"/>
<circle cx="1286.14" cy="345.60" r="3.05" fill="#b54fe0" stroke="#b54fe0" stroke-width="2.1"/>
<circle cx="1289.71" cy="350.40" r="3.05" fill="#b54fe0" stroke="#b54fe0" stroke-width="2.1"/>
<circle cx="1293.29" cy="346.04" r="3.05" fill="#b54fe0" stroke="#b54fe0" stroke-width="2.1"/>
<circle cx="1296.86" cy="341.40" r="3.05" fill="#b54fe0" stroke="#b54fe0" stroke-width="2.1"/>
<circle cx="1300.44" cy="350.40" r="3.05" fill="#b54fe0" stroke="#b54fe0" stroke-width="2.1"/>
<circle cx="1304.01" cy="348.28" r="3.05" fill="#b54fe0" stroke="#b54fe0" stroke-width="2.1"/>
<circle cx="1307.58" cy="343.70" r="3.05" fill="#b54fe0" stroke="#b54fe0" stroke-width="2.1"/>
<circle cx="1311.16" cy="352.30" r="3.05" fill="#b54fe0" stroke="#b54fe0" stroke-width="2.1"/>
<circle cx="1314.73" cy="363.70" r="3.05" fill="#b54fe0" stroke="#b54fe0" stroke-width="2.1"/>
<circle cx="1318.31" cy="353.20" r="3.05" fill="#b54fe0" stroke="#b54fe0" stroke-width="2.1"/>
<circle cx="1321.88" cy="340.90" r="3.05" fill="#b54fe0" stroke="#b54fe0" stroke-width="2.1"/>
<circle cx="1325.45" cy="336.10" r="3.05" fill="#b54fe0" stroke="#b54fe0" stroke-width="2.1"/>
<circle cx="1329.03" cy="335.20" r="3.05" fill="#b54fe0" stroke="#b54fe0" stroke-width="2.1"/>
<circle cx="1332.60" cy="335.80" r="3.05" fill="#b54fe0" stroke="#b54fe0" stroke-width="2.1"/>
<circle cx="1336.18" cy="342.30" r="3.05" fill="#b54fe0" stroke="#b54fe0" stroke-width="2.1"/>
<circle cx="1339.75" cy="335.80" r="3.05" fill="#b54fe0" stroke="#b54fe0" stroke-width="2.1"/>
<circle cx="1343.32" cy="343.10" r="3.05" fill="#b54fe0" stroke="#b54fe0" stroke-width="2.1"/>
<circle cx="1346.90" cy="330.90" r="3.05" fill="#b54fe0" stroke="#b54fe0" stroke-width="2.1"/>
<circle cx="1350.47" cy="332.60" r="3.05" fill="#b54fe0" stroke="#b54fe0" stroke-width="2.1"/>
<circle cx="1354.05" cy="337.50" r="3.05" fill="#b54fe0" stroke="#b54fe0" stroke-width="2.1"/>
<circle cx="1357.62" cy="350.90" r="3.05" fill="#b54fe0" stroke="#b54fe0" stroke-width="2.1"/>
<circle cx="1361.19" cy="351.30" r="3.05" fill="#b54fe0" stroke="#b54fe0" stroke-width="2.1"/>
<circle cx="1364.77" cy="344.40" r="3.05" fill="#b54fe0" stroke="#b54fe0" stroke-width="2.1"/>
<circle cx="1368.34" cy="354.50" r="3.05" fill="#b54fe0" stroke="#b54fe0" stroke-width="2.1"/>
<circle cx="1371.92" cy="354.13" r="3.05" fill="#b54fe0" stroke="#b54fe0" stroke-width="2.1"/>
<circle cx="1375.49" cy="356.20" r="3.05" fill="#b54fe0" stroke="#b54fe0" stroke-width="2.1"/>
<circle cx="1379.06" cy="351.30" r="3.05" fill="#b54fe0" stroke="#b54fe0" stroke-width="2.1"/>
<circle cx="1382.64" cy="349.70" r="3.05" fill="#b54fe0" stroke="#b54fe0" stroke-width="2.1"/>
<circle cx="1386.21" cy="352.10" r="3.05" fill="#b54fe0" stroke="#b54fe0" stroke-width="2.1"/>
<circle cx="1389.79" cy="344.80" r="3.05" fill="#b54fe0" stroke="#b54fe0" stroke-width="2.1"/>
<circle cx="1393.36" cy="341.50" r="3.05" fill="#b54fe0" stroke="#b54fe0" stroke-width="2.1"/>
<circle cx="1396.93" cy="342.30" r="3.05" fill="#b54fe0" stroke="#b54fe0" stroke-width="2.1"/>
<circle cx="1400.51" cy="336.20" r="3.05" fill="#b54fe0" stroke="#b54fe0" stroke-width="2.1"/>
<circle cx="1404.08" cy="341.10" r="3.05" fill="#b54fe0" stroke="#b54fe0" stroke-width="2.1"/>
<circle cx="1407.66" cy="325.20" r="3.05" fill="#b54fe0" stroke="#b54fe0" stroke-width="2.1"/>
<circle cx="1411.23" cy="322.00" r="3.05" fill="#b54fe0" stroke="#b54fe0" stroke-width="2.1"/>
<circle cx="1414.80" cy="312.20" r="3.05" fill="#b54fe0" stroke="#b54fe0" stroke-width="2.1"/>
<circle cx="1418.38" cy="314.70" r="3.05" fill="#b54fe0" stroke="#b54fe0" stroke-width="2.1"/>
<circle cx="1421.95" cy="328.50" r="3.05" fill="#b54fe0" stroke="#b54fe0" stroke-width="2.1"/>
<circle cx="1425.53" cy="328.90" r="3.05" fill="#b54fe0" stroke="#b54fe0" stroke-width="2.1"/>
<circle cx="1429.10" cy="348.00" r="3.05" fill="#b54fe0" stroke="#b54fe0" stroke-width="2.1"/>
<circle cx="1432.67" cy="357.80" r="3.05" fill="#b54fe0" stroke="#b54fe0" stroke-width="2.1"/>
<polyline points="1078.85,307.90 1082.42,283.80 1086.00,301.90 1089.57,294.22 1093.14,283.80 1096.72,294.40 1100.29,274.00 1103.87,281.78 1107.44,285.30 1111.01,280.80 1114.59,284.85 1118.16,287.15 1121.74,288.30 1125.31,278.50 1128.88,287.60 1132.46,267.90 1136.03,255.90 1139.61,257.65 1143.18,256.60 1146.75,267.90 1150.33,269.40 1153.90,280.80 1157.48,289.80 1161.05,271.70 1164.62,275.50 1168.20,259.60 1171.77,255.01 1175.35,248.30 1178.92,252.10 1182.49,266.40 1186.07,266.10 1189.64,268.20 1193.22,255.50 1196.79,258.30 1200.36,247.50 1203.94,241.30 1207.51,249.80 1211.09,237.50 1214.66,237.50 1218.23,232.40 1221.81,233.30 1225.38,240.80 1228.96,231.90 1232.53,238.50 1236.10,238.50 1239.68,235.70 1243.25,230.50 1246.83,228.43 1250.40,226.20 1253.97,229.10 1257.55,240.40 1261.12,236.60 1264.70,225.80 1268.27,220.60 1271.84,230.90 1275.42,218.20 1278.99,220.16 1282.57,223.40 1286.14,215.80 1289.71,228.10 1293.29,217.30 1296.86,206.90 1300.44,216.60 1304.01,209.08 1307.58,205.70 1311.16,211.82 1314.73,222.10 1318.31,208.13 1321.88,196.10 1325.45,192.77 1329.03,192.41 1332.60,189.30 1336.18,192.00 1339.75,191.31 1343.32,186.60 1346.90,178.40 1350.47,180.22 1354.05,182.50 1357.62,194.80 1361.19,191.22 1364.77,183.80 1368.34,192.80 1371.92,197.50 1375.49,195.40 1379.06,189.30 1382.64,185.30 1386.21,182.50 1389.79,175.77 1393.36,171.50 1396.93,167.56 1400.51,164.70 1404.08,163.30 1407.66,148.30 1411.23,144.20 1414.80,131.90 1418.38,133.20 1421.95,137.40 1425.53,144.20 1429.10,162.00 1432.67,168.80" fill="none" stroke="#0cb38b" stroke-width="1.8" stroke-dasharray="5.5,2.4"/>
<polygon points="1078.85,305.70 1078.35,307.22 1076.76,307.22 1078.05,308.16 1077.55,309.68 1078.85,308.74 1080.14,309.68 1079.65,308.16 1080.94,307.22 1079.34,307.22" fill="#0cb38b" stroke="#0cb38b" stroke-width="2.3" stroke-linejoin="round"/>
<polygon points="1082.42,281.60 1081.93,283.12 1080.33,283.12 1081.62,284.06 1081.13,285.58 1082.42,284.64 1083.72,285.58 1083.22,284.06 1084.51,283.12 1082.92,283.12" fill="#0cb38b" stroke="#0cb38b" stroke-width="2.3" stroke-linejoin="round"/>
<polygon points="1086.00,299.70 1085.50,301.22 1083.90,301.22 1085.20,302.16 1084.70,303.68 1086.00,302.74 1087.29,303.68 1086.80,302.16 1088.09,301.22 1086.49,301.22" fill="#0cb38b" stroke="#0cb38b" stroke-width="2.3" stroke-linejoin="round"/>
<polygon points="1089.57,292.02 1089.08,293.54 1087.48,293.54 1088.77,294.48 1088.28,296.00 1089.57,295.06 1090.86,296.00 1090.37,294.48 1091.66,293.54 1090.06,293.54" fill="#0cb38b" stroke="#0cb38b" stroke-width="2.3" stroke-linejoin="round"/>
<polygon points="1093.14,281.60 1092.65,283.12 1091.05,283.12 1092.34,284.06 1091.85,285.58 1093.14,284.64 1094.44,285.58 1093.94,284.06 1095.24,283.12 1093.64,283.12" fill="#0cb38b" stroke="#0cb38b" stroke-width="2.3" stroke-linejoin="round"/>
<polygon points="1096.72,292.20 1096.22,293.72 1094.63,293.72 1095.92,294.66 1095.42,296.18 1096.72,295.24 1098.01,296.18 1097.52,294.66 1098.81,293.72 1097.21,293.72" fill="#0cb38b" stroke="#0cb38b" stroke-width="2.3" stroke-linejoin="round"/>
<polygon points="1100.29,271.80 1099.80,273.32 1098.20,273.32 1099.49,274.26 1099.00,275.78 1100.29,274.84 1101.59,275.78 1101.09,274.26 1102.38,273.32 1100.79,273.32" fill="#0cb38b" stroke="#0cb38b" stroke-width="2.3" stroke-linejoin="round"/>
<polygon points="1103.87,279.58 1103.37,281.10 1101.77,281.10 1103.07,282.04 1102.57,283.56 1103.87,282.62 1105.16,283.56 1104.67,282.04 1105.96,281.10 1104.36,281.10" fill="#0cb38b" stroke="#0cb38b" stroke-width="2.3" stroke-linejoin="round"/>
<polygon points="1107.44,283.10 1106.95,284.62 1105.35,284.62 1106.64,285.56 1106.15,287.08 1107.44,286.14 1108.73,287.08 1108.24,285.56 1109.53,284.62 1107.93,284.62" fill="#0cb38b" stroke="#0cb38b" stroke-width="2.3" stroke-linejoin="round"/>
<polygon points="1111.01,278.60 1110.52,280.12 1108.92,280.12 1110.21,281.06 1109.72,282.58 1111.01,281.64 1112.31,282.58 1111.81,281.06 1113.11,280.12 1111.51,280.12" fill="#0cb38b" stroke="#0cb38b" stroke-width="2.3" stroke-linejoin="round"/>
<polygon points="1114.59,282.65 1114.09,284.17 1112.50,284.17 1113.79,285.11 1113.29,286.63 1114.59,285.69 1115.88,286.63 1115.39,285.11 1116.68,284.17 1115.08,284.17" fill="#0cb38b" stroke="#0cb38b" stroke-width="2.3" stroke-linejoin="round"/>
<polygon points="1118.16,284.95 1117.67,286.47 1116.07,286.47 1117.36,287.41 1116.87,288.93 1118.16,287.99 1119.46,288.93 1118.96,287.41 1120.25,286.47 1118.66,286.47" fill="#0cb38b" stroke="#0cb38b" stroke-width="2.3" stroke-linejoin="round"/>
<polygon points="1121.74,286.10 1121.24,287.62 1119.64,287.62 1120.94,288.56 1120.44,290.08 1121.74,289.14 1123.03,290.08 1122.54,288.56 1123.83,287.62 1122.23,287.62" fill="#0cb38b" stroke="#0cb38b" stroke-width="2.3" stroke-linejoin="round"/>
<polygon points="1125.31,276.30 1124.82,277.82 1123.22,277.82 1124.51,278.76 1124.02,280.28 1125.31,279.34 1126.60,280.28 1126.11,278.76 1127.40,277.82 1125.80,277.82" fill="#0cb38b" stroke="#0cb38b" stroke-width="2.3" stroke-linejoin="round"/>
<polygon points="1128.88,285.40 1128.39,286.92 1126.79,286.92 1128.08,287.86 1127.59,289.38 1128.88,288.44 1130.18,289.38 1129.68,287.86 1130.98,286.92 1129.38,286.92" fill="#0cb38b" stroke="#0cb38b" stroke-width="2.3" stroke-linejoin="round"/>
<polygon points="1132.46,265.70 1131.96,267.22 1130.37,267.22 1131.66,268.16 1131.16,269.68 1132.46,268.74 1133.75,269.68 1133.26,268.16 1134.55,267.22 1132.95,267.22" fill="#0cb38b" stroke="#0cb38b" stroke-width="2.3" stroke-linejoin="round"/>
<polygon points="1136.03,253.70 1135.54,255.22 1133.94,255.22 1135.23,256.16 1134.74,257.68 1136.03,256.74 1137.33,257.68 1136.83,256.16 1138.12,255.22 1136.53,255.22" fill="#0cb38b" stroke="#0cb38b" stroke-width="2.3" stroke-linejoin="round"/>
<polygon points="1139.61,255.45 1139.11,256.97 1137.51,256.97 1138.81,257.91 1138.31,259.43 1139.61,258.49 1140.90,259.43 1140.41,257.91 1141.70,256.97 1140.10,256.97" fill="#0cb38b" stroke="#0cb38b" stroke-width="2.3" stroke-linejoin="round"/>
<polygon points="1143.18,254.40 1142.69,255.92 1141.09,255.92 1142.38,256.86 1141.89,258.38 1143.18,257.44 1144.47,258.38 1143.98,256.86 1145.27,255.92 1143.67,255.92" fill="#0cb38b" stroke="#0cb38b" stroke-width="2.3" stroke-linejoin="round"/>
<polygon points="1146.75,265.70 1146.26,267.22 1144.66,267.22 1145.95,268.16 1145.46,269.68 1146.75,268.74 1148.05,269.68 1147.55,268.16 1148.85,267.22 1147.25,267.22" fill="#0cb38b" stroke="#0cb38b" stroke-width="2.3" stroke-linejoin="round"/>
<polygon points="1150.33,267.20 1149.83,268.72 1148.24,268.72 1149.53,269.66 1149.03,271.18 1150.33,270.24 1151.62,271.18 1151.13,269.66 1152.42,268.72 1150.82,268.72" fill="#0cb38b" stroke="#0cb38b" stroke-width="2.3" stroke-linejoin="round"/>
<polygon points="1153.90,278.60 1153.41,280.12 1151.81,280.12 1153.10,281.06 1152.61,282.58 1153.90,281.64 1155.20,282.58 1154.70,281.06 1155.99,280.12 1154.40,280.12" fill="#0cb38b" stroke="#0cb38b" stroke-width="2.3" stroke-linejoin="round"/>
<polygon points="1157.48,287.60 1156.98,289.12 1155.38,289.12 1156.68,290.06 1156.18,291.58 1157.48,290.64 1158.77,291.58 1158.28,290.06 1159.57,289.12 1157.97,289.12" fill="#0cb38b" stroke="#0cb38b" stroke-width="2.3" stroke-linejoin="round"/>
<polygon points="1161.05,269.50 1160.56,271.02 1158.96,271.02 1160.25,271.96 1159.76,273.48 1161.05,272.54 1162.34,273.48 1161.85,271.96 1163.14,271.02 1161.54,271.02" fill="#0cb38b" stroke="#0cb38b" stroke-width="2.3" stroke-linejoin="round"/>
<polygon points="1164.62,273.30 1164.13,274.82 1162.53,274.82 1163.82,275.76 1163.33,277.28 1164.62,276.34 1165.92,277.28 1165.42,275.76 1166.72,274.82 1165.12,274.82" fill="#0cb38b" stroke="#0cb38b" stroke-width="2.3" stroke-linejoin="round"/>
<polygon points="1168.20,257.40 1167.70,258.92 1166.11,258.92 1167.40,259.86 1166.90,261.38 1168.20,260.44 1169.49,261.38 1169.00,259.86 1170.29,258.92 1168.69,258.92" fill="#0cb38b" stroke="#0cb38b" stroke-width="2.3" stroke-linejoin="round"/>
<polygon points="1171.77,252.81 1171.28,254.33 1169.68,254.33 1170.97,255.27 1170.48,256.79 1171.77,255.85 1173.07,256.79 1172.57,255.27 1173.86,254.33 1172.27,254.33" fill="#0cb38b" stroke="#0cb38b" stroke-width="2.3" stroke-linejoin="round"/>
<polygon points="1175.35,246.10 1174.85,247.62 1173.25,247.62 1174.55,248.56 1174.05,250.08 1175.35,249.14 1176.64,250.08 1176.15,248.56 1177.44,247.62 1175.84,247.62" fill="#0cb38b" stroke="#0cb38b" stroke-width="2.3" stroke-linejoin="round"/>
<polygon points="1178.92,249.90 1178.43,251.42 1176.83,251.42 1178.12,252.36 1177.63,253.88 1178.92,252.94 1180.21,253.88 1179.72,252.36 1181.01,251.42 1179.41,251.42" fill="#0cb38b" stroke="#0cb38b" stroke-width="2.3" stroke-linejoin="round"/>
<polygon points="1182.49,264.20 1182.00,265.72 1180.40,265.72 1181.69,266.66 1181.20,268.18 1182.49,267.24 1183.79,268.18 1183.29,266.66 1184.59,265.72 1182.99,265.72" fill="#0cb38b" stroke="#0cb38b" stroke-width="2.3" stroke-linejoin="round"/>
<polygon points="1186.07,263.90 1185.57,265.42 1183.98,265.42 1185.27,266.36 1184.77,267.88 1186.07,266.94 1187.36,267.88 1186.87,266.36 1188.16,265.42 1186.56,265.42" fill="#0cb38b" stroke="#0cb38b" stroke-width="2.3" stroke-linejoin="round"/>
<polygon points="1189.64,266.00 1189.15,267.52 1187.55,267.52 1188.84,268.46 1188.35,269.98 1189.64,269.04 1190.94,269.98 1190.44,268.46 1191.73,267.52 1190.14,267.52" fill="#0cb38b" stroke="#0cb38b" stroke-width="2.3" stroke-linejoin="round"/>
<polygon points="1193.22,253.30 1192.72,254.82 1191.12,254.82 1192.42,255.76 1191.92,257.28 1193.22,256.34 1194.51,257.28 1194.02,255.76 1195.31,254.82 1193.71,254.82" fill="#0cb38b" stroke="#0cb38b" stroke-width="2.3" stroke-linejoin="round"/>
<polygon points="1196.79,256.10 1196.30,257.62 1194.70,257.62 1195.99,258.56 1195.50,260.08 1196.79,259.14 1198.08,260.08 1197.59,258.56 1198.88,257.62 1197.28,257.62" fill="#0cb38b" stroke="#0cb38b" stroke-width="2.3" stroke-linejoin="round"/>
<polygon points="1200.36,245.30 1199.87,246.82 1198.27,246.82 1199.56,247.76 1199.07,249.28 1200.36,248.34 1201.66,249.28 1201.16,247.76 1202.46,246.82 1200.86,246.82" fill="#0cb38b" stroke="#0cb38b" stroke-width="2.3" stroke-linejoin="round"/>
<polygon points="1203.94,239.10 1203.44,240.62 1201.85,240.62 1203.14,241.56 1202.64,243.08 1203.94,242.14 1205.23,243.08 1204.74,241.56 1206.03,240.62 1204.43,240.62" fill="#0cb38b" stroke="#0cb38b" stroke-width="2.3" stroke-linejoin="round"/>
<polygon points="1207.51,247.60 1207.02,249.12 1205.42,249.12 1206.71,250.06 1206.22,251.58 1207.51,250.64 1208.81,251.58 1208.31,250.06 1209.60,249.12 1208.01,249.12" fill="#0cb38b" stroke="#0cb38b" stroke-width="2.3" stroke-linejoin="round"/>
<polygon points="1211.09,235.30 1210.59,236.82 1208.99,236.82 1210.29,237.76 1209.79,239.28 1211.09,238.34 1212.38,239.28 1211.89,237.76 1213.18,236.82 1211.58,236.82" fill="#0cb38b" stroke="#0cb38b" stroke-width="2.3" stroke-linejoin="round"/>
<polygon points="1214.66,235.30 1214.17,236.82 1212.57,236.82 1213.86,237.76 1213.37,239.28 1214.66,238.34 1215.95,239.28 1215.46,237.76 1216.75,236.82 1215.15,236.82" fill="#0cb38b" stroke="#0cb38b" stroke-width="2.3" stroke-linejoin="round"/>
<polygon points="1218.23,230.20 1217.74,231.72 1216.14,231.72 1217.43,232.66 1216.94,234.18 1218.23,233.24 1219.53,234.18 1219.03,232.66 1220.33,231.72 1218.73,231.72" fill="#0cb38b" stroke="#0cb38b" stroke-width="2.3" stroke-linejoin="round"/>
<polygon points="1221.81,231.10 1221.31,232.62 1219.72,232.62 1221.01,233.56 1220.51,235.08 1221.81,234.14 1223.10,235.08 1222.61,233.56 1223.90,232.62 1222.30,232.62" fill="#0cb38b" stroke="#0cb38b" stroke-width="2.3" stroke-linejoin="round"/>
<polygon points="1225.38,238.60 1224.89,240.12 1223.29,240.12 1224.58,241.06 1224.09,242.58 1225.38,241.64 1226.68,242.58 1226.18,241.06 1227.47,240.12 1225.88,240.12" fill="#0cb38b" stroke="#0cb38b" stroke-width="2.3" stroke-linejoin="round"/>
<polygon points="1228.96,229.70 1228.46,231.22 1226.86,231.22 1228.16,232.16 1227.66,233.68 1228.96,232.74 1230.25,233.68 1229.76,232.16 1231.05,231.22 1229.45,231.22" fill="#0cb38b" stroke="#0cb38b" stroke-width="2.3" stroke-linejoin="round"/>
<polygon points="1232.53,236.30 1232.04,237.82 1230.44,237.82 1231.73,238.76 1231.24,240.28 1232.53,239.34 1233.82,240.28 1233.33,238.76 1234.62,237.82 1233.02,237.82" fill="#0cb38b" stroke="#0cb38b" stroke-width="2.3" stroke-linejoin="round"/>
<polygon points="1236.10,236.30 1235.61,237.82 1234.01,237.82 1235.30,238.76 1234.81,240.28 1236.10,239.34 1237.40,240.28 1236.90,238.76 1238.20,237.82 1236.60,237.82" fill="#0cb38b" stroke="#0cb38b" stroke-width="2.3" stroke-linejoin="round"/>
<polygon points="1239.68,233.50 1239.18,235.02 1237.59,235.02 1238.88,235.96 1238.38,237.48 1239.68,236.54 1240.97,237.48 1240.48,235.96 1241.77,235.02 1240.17,235.02" fill="#0cb38b" stroke="#0cb38b" stroke-width="2.3" stroke-linejoin="round"/>
<polygon points="1243.25,228.30 1242.76,229.82 1241.16,229.82 1242.45,230.76 1241.96,232.28 1243.25,231.34 1244.55,232.28 1244.05,230.76 1245.34,229.82 1243.75,229.82" fill="#0cb38b" stroke="#0cb38b" stroke-width="2.3" stroke-linejoin="round"/>
<polygon points="1246.83,226.23 1246.33,227.75 1244.73,227.75 1246.03,228.69 1245.53,230.21 1246.83,229.27 1248.12,230.21 1247.63,228.69 1248.92,227.75 1247.32,227.75" fill="#0cb38b" stroke="#0cb38b" stroke-width="2.3" stroke-linejoin="round"/>
<polygon points="1250.40,224.00 1249.91,225.52 1248.31,225.52 1249.60,226.46 1249.11,227.98 1250.40,227.04 1251.69,227.98 1251.20,226.46 1252.49,225.52 1250.89,225.52" fill="#0cb38b" stroke="#0cb38b" stroke-width="2.3" stroke-linejoin="round"/>
<polygon points="1253.97,226.90 1253.48,228.42 1251.88,228.42 1253.17,229.36 1252.68,230.88 1253.97,229.94 1255.27,230.88 1254.77,229.36 1256.07,228.42 1254.47,228.42" fill="#0cb38b" stroke="#0cb38b" stroke-width="2.3" stroke-linejoin="round"/>
<polygon points="1257.55,238.20 1257.05,239.72 1255.46,239.72 1256.75,240.66 1256.25,242.18 1257.55,241.24 1258.84,242.18 1258.35,240.66 1259.64,239.72 1258.04,239.72" fill="#0cb38b" stroke="#0cb38b" stroke-width="2.3" stroke-linejoin="round"/>
<polygon points="1261.12,234.40 1260.63,235.92 1259.03,235.92 1260.32,236.86 1259.83,238.38 1261.12,237.44 1262.42,238.38 1261.92,236.86 1263.21,235.92 1261.62,235.92" fill="#0cb38b" stroke="#0cb38b" stroke-width="2.3" stroke-linejoin="round"/>
<polygon points="1264.70,223.60 1264.20,225.12 1262.60,225.12 1263.90,226.06 1263.40,227.58 1264.70,226.64 1265.99,227.58 1265.50,226.06 1266.79,225.12 1265.19,225.12" fill="#0cb38b" stroke="#0cb38b" stroke-width="2.3" stroke-linejoin="round"/>
<polygon points="1268.27,218.40 1267.78,219.92 1266.18,219.92 1267.47,220.86 1266.98,222.38 1268.27,221.44 1269.56,222.38 1269.07,220.86 1270.36,219.92 1268.76,219.92" fill="#0cb38b" stroke="#0cb38b" stroke-width="2.3" stroke-linejoin="round"/>
<polygon points="1271.84,228.70 1271.35,230.22 1269.75,230.22 1271.04,231.16 1270.55,232.68 1271.84,231.74 1273.14,232.68 1272.64,231.16 1273.94,230.22 1272.34,230.22" fill="#0cb38b" stroke="#0cb38b" stroke-width="2.3" stroke-linejoin="round"/>
<polygon points="1275.42,216.00 1274.92,217.52 1273.33,217.52 1274.62,218.46 1274.12,219.98 1275.42,219.04 1276.71,219.98 1276.22,218.46 1277.51,217.52 1275.91,217.52" fill="#0cb38b" stroke="#0cb38b" stroke-width="2.3" stroke-linejoin="round"/>
<polygon points="1278.99,217.96 1278.50,219.48 1276.90,219.48 1278.19,220.42 1277.70,221.94 1278.99,221.00 1280.29,221.94 1279.79,220.42 1281.08,219.48 1279.49,219.48" fill="#0cb38b" stroke="#0cb38b" stroke-width="2.3" stroke-linejoin="round"/>
<polygon points="1282.57,221.20 1282.07,222.72 1280.47,222.72 1281.77,223.66 1281.27,225.18 1282.57,224.24 1283.86,225.18 1283.37,223.66 1284.66,222.72 1283.06,222.72" fill="#0cb38b" stroke="#0cb38b" stroke-width="2.3" stroke-linejoin="round"/>
<polygon points="1286.14,213.60 1285.65,215.12 1284.05,215.12 1285.34,216.06 1284.85,217.58 1286.14,216.64 1287.43,217.58 1286.94,216.06 1288.23,215.12 1286.63,215.12" fill="#0cb38b" stroke="#0cb38b" stroke-width="2.3" stroke-linejoin="round"/>
<polygon points="1289.71,225.90 1289.22,227.42 1287.62,227.42 1288.91,228.36 1288.42,229.88 1289.71,228.94 1291.01,229.88 1290.51,228.36 1291.81,227.42 1290.21,227.42" fill="#0cb38b" stroke="#0cb38b" stroke-width="2.3" stroke-linejoin="round"/>
<polygon points="1293.29,215.10 1292.79,216.62 1291.20,216.62 1292.49,217.56 1291.99,219.08 1293.29,218.14 1294.58,219.08 1294.09,217.56 1295.38,216.62 1293.78,216.62" fill="#0cb38b" stroke="#0cb38b" stroke-width="2.3" stroke-linejoin="round"/>
<polygon points="1296.86,204.70 1296.37,206.22 1294.77,206.22 1296.06,207.16 1295.57,208.68 1296.86,207.74 1298.16,208.68 1297.66,207.16 1298.95,206.22 1297.36,206.22" fill="#0cb38b" stroke="#0cb38b" stroke-width="2.3" stroke-linejoin="round"/>
<polygon points="1300.44,214.40 1299.94,215.92 1298.34,215.92 1299.64,216.86 1299.14,218.38 1300.44,217.44 1301.73,218.38 1301.24,216.86 1302.53,215.92 1300.93,215.92" fill="#0cb38b" stroke="#0cb38b" stroke-width="2.3" stroke-linejoin="round"/>
<polygon points="1304.01,206.88 1303.52,208.40 1301.92,208.40 1303.21,209.34 1302.72,210.86 1304.01,209.92 1305.30,210.86 1304.81,209.34 1306.10,208.40 1304.50,208.40" fill="#0cb38b" stroke="#0cb38b" stroke-width="2.3" stroke-linejoin="round"/>
<polygon points="1307.58,203.50 1307.09,205.02 1305.49,205.02 1306.78,205.96 1306.29,207.48 1307.58,206.54 1308.88,207.48 1308.38,205.96 1309.68,205.02 1308.08,205.02" fill="#0cb38b" stroke="#0cb38b" stroke-width="2.3" stroke-linejoin="round"/>
<polygon points="1311.16,209.62 1310.66,211.14 1309.07,211.14 1310.36,212.08 1309.86,213.60 1311.16,212.66 1312.45,213.60 1311.96,212.08 1313.25,211.14 1311.65,211.14" fill="#0cb38b" stroke="#0cb38b" stroke-width="2.3" stroke-linejoin="round"/>
<polygon points="1314.73,219.90 1314.24,221.42 1312.64,221.42 1313.93,222.36 1313.44,223.88 1314.73,222.94 1316.03,223.88 1315.53,222.36 1316.82,221.42 1315.23,221.42" fill="#0cb38b" stroke="#0cb38b" stroke-width="2.3" stroke-linejoin="round"/>
<polygon points="1318.31,205.93 1317.81,207.45 1316.21,207.45 1317.51,208.39 1317.01,209.91 1318.31,208.97 1319.60,209.91 1319.11,208.39 1320.40,207.45 1318.80,207.45" fill="#0cb38b" stroke="#0cb38b" stroke-width="2.3" stroke-linejoin="round"/>
<polygon points="1321.88,193.90 1321.39,195.42 1319.79,195.42 1321.08,196.36 1320.59,197.88 1321.88,196.94 1323.17,197.88 1322.68,196.36 1323.97,195.42 1322.37,195.42" fill="#0cb38b" stroke="#0cb38b" stroke-width="2.3" stroke-linejoin="round"/>
<polygon points="1325.45,190.57 1324.96,192.09 1323.36,192.09 1324.65,193.03 1324.16,194.55 1325.45,193.61 1326.75,194.55 1326.25,193.03 1327.55,192.09 1325.95,192.09" fill="#0cb38b" stroke="#0cb38b" stroke-width="2.3" stroke-linejoin="round"/>
<polygon points="1329.03,190.21 1328.53,191.73 1326.94,191.73 1328.23,192.67 1327.73,194.19 1329.03,193.25 1330.32,194.19 1329.83,192.67 1331.12,191.73 1329.52,191.73" fill="#0cb38b" stroke="#0cb38b" stroke-width="2.3" stroke-linejoin="round"/>
<polygon points="1332.60,187.10 1332.11,188.62 1330.51,188.62 1331.80,189.56 1331.31,191.08 1332.60,190.14 1333.90,191.08 1333.40,189.56 1334.69,188.62 1333.10,188.62" fill="#0cb38b" stroke="#0cb38b" stroke-width="2.3" stroke-linejoin="round"/>
<polygon points="1336.18,189.80 1335.68,191.32 1334.08,191.32 1335.38,192.26 1334.88,193.78 1336.18,192.84 1337.47,193.78 1336.98,192.26 1338.27,191.32 1336.67,191.32" fill="#0cb38b" stroke="#0cb38b" stroke-width="2.3" stroke-linejoin="round"/>
<polygon points="1339.75,189.11 1339.26,190.63 1337.66,190.63 1338.95,191.57 1338.46,193.09 1339.75,192.15 1341.04,193.09 1340.55,191.57 1341.84,190.63 1340.24,190.63" fill="#0cb38b" stroke="#0cb38b" stroke-width="2.3" stroke-linejoin="round"/>
<polygon points="1343.32,184.40 1342.83,185.92 1341.23,185.92 1342.52,186.86 1342.03,188.38 1343.32,187.44 1344.62,188.38 1344.12,186.86 1345.42,185.92 1343.82,185.92" fill="#0cb38b" stroke="#0cb38b" stroke-width="2.3" stroke-linejoin="round"/>
<polygon points="1346.90,176.20 1346.40,177.72 1344.81,177.72 1346.10,178.66 1345.60,180.18 1346.90,179.24 1348.19,180.18 1347.70,178.66 1348.99,177.72 1347.39,177.72" fill="#0cb38b" stroke="#0cb38b" stroke-width="2.3" stroke-linejoin="round"/>
<polygon points="1350.47,178.02 1349.98,179.54 1348.38,179.54 1349.67,180.48 1349.18,182.00 1350.47,181.06 1351.77,182.00 1351.27,180.48 1352.56,179.54 1350.97,179.54" fill="#0cb38b" stroke="#0cb38b" stroke-width="2.3" stroke-linejoin="round"/>
<polygon points="1354.05,180.30 1353.55,181.82 1351.95,181.82 1353.25,182.76 1352.75,184.28 1354.05,183.34 1355.34,184.28 1354.85,182.76 1356.14,181.82 1354.54,181.82" fill="#0cb38b" stroke="#0cb38b" stroke-width="2.3" stroke-linejoin="round"/>
<polygon points="1357.62,192.60 1357.13,194.12 1355.53,194.12 1356.82,195.06 1356.33,196.58 1357.62,195.64 1358.91,196.58 1358.42,195.06 1359.71,194.12 1358.11,194.12" fill="#0cb38b" stroke="#0cb38b" stroke-width="2.3" stroke-linejoin="round"/>
<polygon points="1361.19,189.02 1360.70,190.54 1359.10,190.54 1360.39,191.48 1359.90,193.00 1361.19,192.06 1362.49,193.00 1361.99,191.48 1363.29,190.54 1361.69,190.54" fill="#0cb38b" stroke="#0cb38b" stroke-width="2.3" stroke-linejoin="round"/>
<polygon points="1364.77,181.60 1364.27,183.12 1362.68,183.12 1363.97,184.06 1363.47,185.58 1364.77,184.64 1366.06,185.58 1365.57,184.06 1366.86,183.12 1365.26,183.12" fill="#0cb38b" stroke="#0cb38b" stroke-width="2.3" stroke-linejoin="round"/>
<polygon points="1368.34,190.60 1367.85,192.12 1366.25,192.12 1367.54,193.06 1367.05,194.58 1368.34,193.64 1369.64,194.58 1369.14,193.06 1370.43,192.12 1368.84,192.12" fill="#0cb38b" stroke="#0cb38b" stroke-width="2.3" stroke-linejoin="round"/>
<polygon points="1371.92,195.30 1371.42,196.82 1369.82,196.82 1371.12,197.76 1370.62,199.28 1371.92,198.34 1373.21,199.28 1372.72,197.76 1374.01,196.82 1372.41,196.82" fill="#0cb38b" stroke="#0cb38b" stroke-width="2.3" stroke-linejoin="round"/>
<polygon points="1375.49,193.20 1375.00,194.72 1373.40,194.72 1374.69,195.66 1374.20,197.18 1375.49,196.24 1376.78,197.18 1376.29,195.66 1377.58,194.72 1375.98,194.72" fill="#0cb38b" stroke="#0cb38b" stroke-width="2.3" stroke-linejoin="round"/>
<polygon points="1379.06,187.10 1378.57,188.62 1376.97,188.62 1378.26,189.56 1377.77,191.08 1379.06,190.14 1380.36,191.08 1379.86,189.56 1381.16,188.62 1379.56,188.62" fill="#0cb38b" stroke="#0cb38b" stroke-width="2.3" stroke-linejoin="round"/>
<polygon points="1382.64,183.10 1382.14,184.62 1380.55,184.62 1381.84,185.56 1381.34,187.08 1382.64,186.14 1383.93,187.08 1383.44,185.56 1384.73,184.62 1383.13,184.62" fill="#0cb38b" stroke="#0cb38b" stroke-width="2.3" stroke-linejoin="round"/>
<polygon points="1386.21,180.30 1385.72,181.82 1384.12,181.82 1385.41,182.76 1384.92,184.28 1386.21,183.34 1387.51,184.28 1387.01,182.76 1388.30,181.82 1386.71,181.82" fill="#0cb38b" stroke="#0cb38b" stroke-width="2.3" stroke-linejoin="round"/>
<polygon points="1389.79,173.57 1389.29,175.09 1387.69,175.09 1388.99,176.03 1388.49,177.55 1389.79,176.61 1391.08,177.55 1390.59,176.03 1391.88,175.09 1390.28,175.09" fill="#0cb38b" stroke="#0cb38b" stroke-width="2.3" stroke-linejoin="round"/>
<polygon points="1393.36,169.30 1392.87,170.82 1391.27,170.82 1392.56,171.76 1392.07,173.28 1393.36,172.34 1394.65,173.28 1394.16,171.76 1395.45,170.82 1393.85,170.82" fill="#0cb38b" stroke="#0cb38b" stroke-width="2.3" stroke-linejoin="round"/>
<polygon points="1396.93,165.36 1396.44,166.88 1394.84,166.88 1396.13,167.82 1395.64,169.34 1396.93,168.41 1398.23,169.34 1397.73,167.82 1399.03,166.88 1397.43,166.88" fill="#0cb38b" stroke="#0cb38b" stroke-width="2.3" stroke-linejoin="round"/>
<polygon points="1400.51,162.50 1400.01,164.02 1398.42,164.02 1399.71,164.96 1399.21,166.48 1400.51,165.54 1401.80,166.48 1401.31,164.96 1402.60,164.02 1401.00,164.02" fill="#0cb38b" stroke="#0cb38b" stroke-width="2.3" stroke-linejoin="round"/>
<polygon points="1404.08,161.10 1403.59,162.62 1401.99,162.62 1403.28,163.56 1402.79,165.08 1404.08,164.14 1405.38,165.08 1404.88,163.56 1406.17,162.62 1404.58,162.62" fill="#0cb38b" stroke="#0cb38b" stroke-width="2.3" stroke-linejoin="round"/>
<polygon points="1407.66,146.10 1407.16,147.62 1405.56,147.62 1406.86,148.56 1406.36,150.08 1407.66,149.14 1408.95,150.08 1408.46,148.56 1409.75,147.62 1408.15,147.62" fill="#0cb38b" stroke="#0cb38b" stroke-width="2.3" stroke-linejoin="round"/>
<polygon points="1411.23,142.00 1410.74,143.52 1409.14,143.52 1410.43,144.46 1409.94,145.98 1411.23,145.04 1412.52,145.98 1412.03,144.46 1413.32,143.52 1411.72,143.52" fill="#0cb38b" stroke="#0cb38b" stroke-width="2.3" stroke-linejoin="round"/>
<polygon points="1414.80,129.70 1414.31,131.22 1412.71,131.22 1414.00,132.16 1413.51,133.68 1414.80,132.74 1416.10,133.68 1415.60,132.16 1416.90,131.22 1415.30,131.22" fill="#0cb38b" stroke="#0cb38b" stroke-width="2.3" stroke-linejoin="round"/>
<polygon points="1418.38,131.00 1417.88,132.52 1416.29,132.52 1417.58,133.46 1417.08,134.98 1418.38,134.04 1419.67,134.98 1419.18,133.46 1420.47,132.52 1418.87,132.52" fill="#0cb38b" stroke="#0cb38b" stroke-width="2.3" stroke-linejoin="round"/>
<polygon points="1421.95,135.20 1421.46,136.72 1419.86,136.72 1421.15,137.66 1420.66,139.18 1421.95,138.24 1423.25,139.18 1422.75,137.66 1424.04,136.72 1422.45,136.72" fill="#0cb38b" stroke="#0cb38b" stroke-width="2.3" stroke-linejoin="round"/>
<polygon points="1425.53,142.00 1425.03,143.52 1423.43,143.52 1424.73,144.46 1424.23,145.98 1425.53,145.04 1426.82,145.98 1426.33,144.46 1427.62,143.52 1426.02,143.52" fill="#0cb38b" stroke="#0cb38b" stroke-width="2.3" stroke-linejoin="round"/>
<polygon points="1429.10,159.80 1428.61,161.32 1427.01,161.32 1428.30,162.26 1427.81,163.78 1429.10,162.84 1430.39,163.78 1429.90,162.26 1431.19,161.32 1429.59,161.32" fill="#0cb38b" stroke="#0cb38b" stroke-width="2.3" stroke-linejoin="round"/>
<polygon points="1432.67,166.60 1432.18,168.12 1430.58,168.12 1431.87,169.06 1431.38,170.58 1432.67,169.64 1433.97,170.58 1433.47,169.06 1434.77,168.12 1433.17,168.12" fill="#0cb38b" stroke="#0cb38b" stroke-width="2.3" stroke-linejoin="round"/>
<polyline points="1078.85,367.60 1082.42,367.38 1086.00,367.17 1089.57,366.95 1093.14,366.73 1096.72,366.52 1100.29,366.30 1103.87,366.08 1107.44,365.87 1111.01,365.65 1114.59,365.43 1118.16,365.22 1121.74,365.00 1125.31,364.82 1128.88,364.64 1132.46,364.46 1136.03,364.29 1139.61,364.11 1143.18,363.93 1146.75,363.75 1150.33,363.57 1153.90,363.39 1157.48,363.21 1161.05,363.04 1164.62,362.86 1168.20,362.68 1171.77,362.50 1175.35,362.36 1178.92,362.22 1182.49,362.08 1186.07,361.95 1189.64,361.81 1193.22,361.67 1196.79,361.53 1200.36,361.39 1203.94,361.25 1207.51,361.12 1211.09,360.98 1214.66,360.84 1218.23,360.70 1221.81,360.60 1225.38,360.50 1228.96,360.40 1232.53,360.30 1236.10,360.20 1239.68,360.10 1243.25,360.00 1246.83,359.90 1250.40,359.80 1253.97,359.70 1257.55,359.60 1261.12,359.50 1264.70,359.45 1268.27,359.41 1271.84,359.36 1275.42,359.32 1278.99,359.27 1282.57,359.23 1286.14,359.18 1289.71,359.14 1293.29,359.09 1296.86,359.05 1300.44,359.00 1304.01,359.01 1307.58,359.03 1311.16,359.04 1314.73,359.06 1318.31,359.07 1321.88,359.09 1325.45,359.10 1329.03,359.11 1332.60,359.13 1336.18,359.14 1339.75,359.16 1343.32,359.17 1346.90,359.19 1350.47,359.20 1354.05,359.26 1357.62,359.31 1361.19,359.37 1364.77,359.43 1368.34,359.49 1371.92,359.54 1375.49,359.60 1379.06,359.66 1382.64,359.71 1386.21,359.77 1389.79,359.83 1393.36,359.89 1396.93,359.94 1400.51,360.00 1404.08,360.11 1407.66,360.22 1411.23,360.33 1414.80,360.44 1418.38,360.56 1421.95,360.67 1425.53,360.78 1429.10,360.89 1432.67,361.00" fill="none" stroke="#00d1f8" stroke-width="1.8" stroke-dasharray="5.5,2.4"/>
<path d="M1078.85 364.55L1075.80 370.65L1081.90 370.65Z" fill="#00d1f8" stroke="#00d1f8" stroke-width="2.1" stroke-linejoin="miter"/>
<path d="M1082.42 364.33L1079.37 370.43L1085.47 370.43Z" fill="#00d1f8" stroke="#00d1f8" stroke-width="2.1" stroke-linejoin="miter"/>
<path d="M1086.00 364.12L1082.95 370.22L1089.05 370.22Z" fill="#00d1f8" stroke="#00d1f8" stroke-width="2.1" stroke-linejoin="miter"/>
<path d="M1089.57 363.90L1086.52 370.00L1092.62 370.00Z" fill="#00d1f8" stroke="#00d1f8" stroke-width="2.1" stroke-linejoin="miter"/>
<path d="M1093.14 363.68L1090.09 369.78L1096.19 369.78Z" fill="#00d1f8" stroke="#00d1f8" stroke-width="2.1" stroke-linejoin="miter"/>
<path d="M1096.72 363.47L1093.67 369.57L1099.77 369.57Z" fill="#00d1f8" stroke="#00d1f8" stroke-width="2.1" stroke-linejoin="miter"/>
<path d="M1100.29 363.25L1097.24 369.35L1103.34 369.35Z" fill="#00d1f8" stroke="#00d1f8" stroke-width="2.1" stroke-linejoin="miter"/>
<path d="M1103.87 363.03L1100.82 369.13L1106.92 369.13Z" fill="#00d1f8" stroke="#00d1f8" stroke-width="2.1" stroke-linejoin="miter"/>
<path d="M1107.44 362.82L1104.39 368.92L1110.49 368.92Z" fill="#00d1f8" stroke="#00d1f8" stroke-width="2.1" stroke-linejoin="miter"/>
<path d="M1111.01 362.60L1107.96 368.70L1114.06 368.70Z" fill="#00d1f8" stroke="#00d1f8" stroke-width="2.1" stroke-linejoin="miter"/>
<path d="M1114.59 362.38L1111.54 368.48L1117.64 368.48Z" fill="#00d1f8" stroke="#00d1f8" stroke-width="2.1" stroke-linejoin="miter"/>
<path d="M1118.16 362.17L1115.11 368.27L1121.21 368.27Z" fill="#00d1f8" stroke="#00d1f8" stroke-width="2.1" stroke-linejoin="miter"/>
<path d="M1121.74 361.95L1118.69 368.05L1124.79 368.05Z" fill="#00d1f8" stroke="#00d1f8" stroke-width="2.1" stroke-linejoin="miter"/>
<path d="M1125.31 361.77L1122.26 367.87L1128.36 367.87Z" fill="#00d1f8" stroke="#00d1f8" stroke-width="2.1" stroke-linejoin="miter"/>
<path d="M1128.88 361.59L1125.83 367.69L1131.93 367.69Z" fill="#00d1f8" stroke="#00d1f8" stroke-width="2.1" stroke-linejoin="miter"/>
<path d="M1132.46 361.41L1129.41 367.51L1135.51 367.51Z" fill="#00d1f8" stroke="#00d1f8" stroke-width="2.1" stroke-linejoin="miter"/>
<path d="M1136.03 361.24L1132.98 367.34L1139.08 367.34Z" fill="#00d1f8" stroke="#00d1f8" stroke-width="2.1" stroke-linejoin="miter"/>
<path d="M1139.61 361.06L1136.56 367.16L1142.66 367.16Z" fill="#00d1f8" stroke="#00d1f8" stroke-width="2.1" stroke-linejoin="miter"/>
<path d="M1143.18 360.88L1140.13 366.98L1146.23 366.98Z" fill="#00d1f8" stroke="#00d1f8" stroke-width="2.1" stroke-linejoin="miter"/>
<path d="M1146.75 360.70L1143.70 366.80L1149.80 366.80Z" fill="#00d1f8" stroke="#00d1f8" stroke-width="2.1" stroke-linejoin="miter"/>
<path d="M1150.33 360.52L1147.28 366.62L1153.38 366.62Z" fill="#00d1f8" stroke="#00d1f8" stroke-width="2.1" stroke-linejoin="miter"/>
<path d="M1153.90 360.34L1150.85 366.44L1156.95 366.44Z" fill="#00d1f8" stroke="#00d1f8" stroke-width="2.1" stroke-linejoin="miter"/>
<path d="M1157.48 360.16L1154.43 366.26L1160.53 366.26Z" fill="#00d1f8" stroke="#00d1f8" stroke-width="2.1" stroke-linejoin="miter"/>
<path d="M1161.05 359.99L1158.00 366.09L1164.10 366.09Z" fill="#00d1f8" stroke="#00d1f8" stroke-width="2.1" stroke-linejoin="miter"/>
<path d="M1164.62 359.81L1161.57 365.91L1167.67 365.91Z" fill="#00d1f8" stroke="#00d1f8" stroke-width="2.1" stroke-linejoin="miter"/>
<path d="M1168.20 359.63L1165.15 365.73L1171.25 365.73Z" fill="#00d1f8" stroke="#00d1f8" stroke-width="2.1" stroke-linejoin="miter"/>
<path d="M1171.77 359.45L1168.72 365.55L1174.82 365.55Z" fill="#00d1f8" stroke="#00d1f8" stroke-width="2.1" stroke-linejoin="miter"/>
<path d="M1175.35 359.31L1172.30 365.41L1178.40 365.41Z" fill="#00d1f8" stroke="#00d1f8" stroke-width="2.1" stroke-linejoin="miter"/>
<path d="M1178.92 359.17L1175.87 365.27L1181.97 365.27Z" fill="#00d1f8" stroke="#00d1f8" stroke-width="2.1" stroke-linejoin="miter"/>
<path d="M1182.49 359.03L1179.44 365.13L1185.54 365.13Z" fill="#00d1f8" stroke="#00d1f8" stroke-width="2.1" stroke-linejoin="miter"/>
<path d="M1186.07 358.90L1183.02 365.00L1189.12 365.00Z" fill="#00d1f8" stroke="#00d1f8" stroke-width="2.1" stroke-linejoin="miter"/>
<path d="M1189.64 358.76L1186.59 364.86L1192.69 364.86Z" fill="#00d1f8" stroke="#00d1f8" stroke-width="2.1" stroke-linejoin="miter"/>
<path d="M1193.22 358.62L1190.17 364.72L1196.27 364.72Z" fill="#00d1f8" stroke="#00d1f8" stroke-width="2.1" stroke-linejoin="miter"/>
<path d="M1196.79 358.48L1193.74 364.58L1199.84 364.58Z" fill="#00d1f8" stroke="#00d1f8" stroke-width="2.1" stroke-linejoin="miter"/>
<path d="M1200.36 358.34L1197.31 364.44L1203.41 364.44Z" fill="#00d1f8" stroke="#00d1f8" stroke-width="2.1" stroke-linejoin="miter"/>
<path d="M1203.94 358.20L1200.89 364.30L1206.99 364.30Z" fill="#00d1f8" stroke="#00d1f8" stroke-width="2.1" stroke-linejoin="miter"/>
<path d="M1207.51 358.07L1204.46 364.17L1210.56 364.17Z" fill="#00d1f8" stroke="#00d1f8" stroke-width="2.1" stroke-linejoin="miter"/>
<path d="M1211.09 357.93L1208.04 364.03L1214.14 364.03Z" fill="#00d1f8" stroke="#00d1f8" stroke-width="2.1" stroke-linejoin="miter"/>
<path d="M1214.66 357.79L1211.61 363.89L1217.71 363.89Z" fill="#00d1f8" stroke="#00d1f8" stroke-width="2.1" stroke-linejoin="miter"/>
<path d="M1218.23 357.65L1215.18 363.75L1221.28 363.75Z" fill="#00d1f8" stroke="#00d1f8" stroke-width="2.1" stroke-linejoin="miter"/>
<path d="M1221.81 357.55L1218.76 363.65L1224.86 363.65Z" fill="#00d1f8" stroke="#00d1f8" stroke-width="2.1" stroke-linejoin="miter"/>
<path d="M1225.38 357.45L1222.33 363.55L1228.43 363.55Z" fill="#00d1f8" stroke="#00d1f8" stroke-width="2.1" stroke-linejoin="miter"/>
<path d="M1228.96 357.35L1225.91 363.45L1232.01 363.45Z" fill="#00d1f8" stroke="#00d1f8" stroke-width="2.1" stroke-linejoin="miter"/>
<path d="M1232.53 357.25L1229.48 363.35L1235.58 363.35Z" fill="#00d1f8" stroke="#00d1f8" stroke-width="2.1" stroke-linejoin="miter"/>
<path d="M1236.10 357.15L1233.05 363.25L1239.15 363.25Z" fill="#00d1f8" stroke="#00d1f8" stroke-width="2.1" stroke-linejoin="miter"/>
<path d="M1239.68 357.05L1236.63 363.15L1242.73 363.15Z" fill="#00d1f8" stroke="#00d1f8" stroke-width="2.1" stroke-linejoin="miter"/>
<path d="M1243.25 356.95L1240.20 363.05L1246.30 363.05Z" fill="#00d1f8" stroke="#00d1f8" stroke-width="2.1" stroke-linejoin="miter"/>
<path d="M1246.83 356.85L1243.78 362.95L1249.88 362.95Z" fill="#00d1f8" stroke="#00d1f8" stroke-width="2.1" stroke-linejoin="miter"/>
<path d="M1250.40 356.75L1247.35 362.85L1253.45 362.85Z" fill="#00d1f8" stroke="#00d1f8" stroke-width="2.1" stroke-linejoin="miter"/>
<path d="M1253.97 356.65L1250.92 362.75L1257.02 362.75Z" fill="#00d1f8" stroke="#00d1f8" stroke-width="2.1" stroke-linejoin="miter"/>
<path d="M1257.55 356.55L1254.50 362.65L1260.60 362.65Z" fill="#00d1f8" stroke="#00d1f8" stroke-width="2.1" stroke-linejoin="miter"/>
<path d="M1261.12 356.45L1258.07 362.55L1264.17 362.55Z" fill="#00d1f8" stroke="#00d1f8" stroke-width="2.1" stroke-linejoin="miter"/>
<path d="M1264.70 356.40L1261.65 362.50L1267.75 362.50Z" fill="#00d1f8" stroke="#00d1f8" stroke-width="2.1" stroke-linejoin="miter"/>
<path d="M1268.27 356.36L1265.22 362.46L1271.32 362.46Z" fill="#00d1f8" stroke="#00d1f8" stroke-width="2.1" stroke-linejoin="miter"/>
<path d="M1271.84 356.31L1268.79 362.41L1274.89 362.41Z" fill="#00d1f8" stroke="#00d1f8" stroke-width="2.1" stroke-linejoin="miter"/>
<path d="M1275.42 356.27L1272.37 362.37L1278.47 362.37Z" fill="#00d1f8" stroke="#00d1f8" stroke-width="2.1" stroke-linejoin="miter"/>
<path d="M1278.99 356.22L1275.94 362.32L1282.04 362.32Z" fill="#00d1f8" stroke="#00d1f8" stroke-width="2.1" stroke-linejoin="miter"/>
<path d="M1282.57 356.18L1279.52 362.28L1285.62 362.28Z" fill="#00d1f8" stroke="#00d1f8" stroke-width="2.1" stroke-linejoin="miter"/>
<path d="M1286.14 356.13L1283.09 362.23L1289.19 362.23Z" fill="#00d1f8" stroke="#00d1f8" stroke-width="2.1" stroke-linejoin="miter"/>
<path d="M1289.71 356.09L1286.66 362.19L1292.76 362.19Z" fill="#00d1f8" stroke="#00d1f8" stroke-width="2.1" stroke-linejoin="miter"/>
<path d="M1293.29 356.04L1290.24 362.14L1296.34 362.14Z" fill="#00d1f8" stroke="#00d1f8" stroke-width="2.1" stroke-linejoin="miter"/>
<path d="M1296.86 356.00L1293.81 362.10L1299.91 362.10Z" fill="#00d1f8" stroke="#00d1f8" stroke-width="2.1" stroke-linejoin="miter"/>
<path d="M1300.44 355.95L1297.39 362.05L1303.49 362.05Z" fill="#00d1f8" stroke="#00d1f8" stroke-width="2.1" stroke-linejoin="miter"/>
<path d="M1304.01 355.96L1300.96 362.06L1307.06 362.06Z" fill="#00d1f8" stroke="#00d1f8" stroke-width="2.1" stroke-linejoin="miter"/>
<path d="M1307.58 355.98L1304.53 362.08L1310.63 362.08Z" fill="#00d1f8" stroke="#00d1f8" stroke-width="2.1" stroke-linejoin="miter"/>
<path d="M1311.16 355.99L1308.11 362.09L1314.21 362.09Z" fill="#00d1f8" stroke="#00d1f8" stroke-width="2.1" stroke-linejoin="miter"/>
<path d="M1314.73 356.01L1311.68 362.11L1317.78 362.11Z" fill="#00d1f8" stroke="#00d1f8" stroke-width="2.1" stroke-linejoin="miter"/>
<path d="M1318.31 356.02L1315.26 362.12L1321.36 362.12Z" fill="#00d1f8" stroke="#00d1f8" stroke-width="2.1" stroke-linejoin="miter"/>
<path d="M1321.88 356.04L1318.83 362.14L1324.93 362.14Z" fill="#00d1f8" stroke="#00d1f8" stroke-width="2.1" stroke-linejoin="miter"/>
<path d="M1325.45 356.05L1322.40 362.15L1328.50 362.15Z" fill="#00d1f8" stroke="#00d1f8" stroke-width="2.1" stroke-linejoin="miter"/>
<path d="M1329.03 356.06L1325.98 362.16L1332.08 362.16Z" fill="#00d1f8" stroke="#00d1f8" stroke-width="2.1" stroke-linejoin="miter"/>
<path d="M1332.60 356.08L1329.55 362.18L1335.65 362.18Z" fill="#00d1f8" stroke="#00d1f8" stroke-width="2.1" stroke-linejoin="miter"/>
<path d="M1336.18 356.09L1333.13 362.19L1339.23 362.19Z" fill="#00d1f8" stroke="#00d1f8" stroke-width="2.1" stroke-linejoin="miter"/>
<path d="M1339.75 356.11L1336.70 362.21L1342.80 362.21Z" fill="#00d1f8" stroke="#00d1f8" stroke-width="2.1" stroke-linejoin="miter"/>
<path d="M1343.32 356.12L1340.27 362.22L1346.37 362.22Z" fill="#00d1f8" stroke="#00d1f8" stroke-width="2.1" stroke-linejoin="miter"/>
<path d="M1346.90 356.14L1343.85 362.24L1349.95 362.24Z" fill="#00d1f8" stroke="#00d1f8" stroke-width="2.1" stroke-linejoin="miter"/>
<path d="M1350.47 356.15L1347.42 362.25L1353.52 362.25Z" fill="#00d1f8" stroke="#00d1f8" stroke-width="2.1" stroke-linejoin="miter"/>
<path d="M1354.05 356.21L1351.00 362.31L1357.10 362.31Z" fill="#00d1f8" stroke="#00d1f8" stroke-width="2.1" stroke-linejoin="miter"/>
<path d="M1357.62 356.26L1354.57 362.36L1360.67 362.36Z" fill="#00d1f8" stroke="#00d1f8" stroke-width="2.1" stroke-linejoin="miter"/>
<path d="M1361.19 356.32L1358.14 362.42L1364.24 362.42Z" fill="#00d1f8" stroke="#00d1f8" stroke-width="2.1" stroke-linejoin="miter"/>
<path d="M1364.77 356.38L1361.72 362.48L1367.82 362.48Z" fill="#00d1f8" stroke="#00d1f8" stroke-width="2.1" stroke-linejoin="miter"/>
<path d="M1368.34 356.44L1365.29 362.54L1371.39 362.54Z" fill="#00d1f8" stroke="#00d1f8" stroke-width="2.1" stroke-linejoin="miter"/>
<path d="M1371.92 356.49L1368.87 362.59L1374.97 362.59Z" fill="#00d1f8" stroke="#00d1f8" stroke-width="2.1" stroke-linejoin="miter"/>
<path d="M1375.49 356.55L1372.44 362.65L1378.54 362.65Z" fill="#00d1f8" stroke="#00d1f8" stroke-width="2.1" stroke-linejoin="miter"/>
<path d="M1379.06 356.61L1376.01 362.71L1382.11 362.71Z" fill="#00d1f8" stroke="#00d1f8" stroke-width="2.1" stroke-linejoin="miter"/>
<path d="M1382.64 356.66L1379.59 362.76L1385.69 362.76Z" fill="#00d1f8" stroke="#00d1f8" stroke-width="2.1" stroke-linejoin="miter"/>
<path d="M1386.21 356.72L1383.16 362.82L1389.26 362.82Z" fill="#00d1f8" stroke="#00d1f8" stroke-width="2.1" stroke-linejoin="miter"/>
<path d="M1389.79 356.78L1386.74 362.88L1392.84 362.88Z" fill="#00d1f8" stroke="#00d1f8" stroke-width="2.1" stroke-linejoin="miter"/>
<path d="M1393.36 356.84L1390.31 362.94L1396.41 362.94Z" fill="#00d1f8" stroke="#00d1f8" stroke-width="2.1" stroke-linejoin="miter"/>
<path d="M1396.93 356.89L1393.88 362.99L1399.98 362.99Z" fill="#00d1f8" stroke="#00d1f8" stroke-width="2.1" stroke-linejoin="miter"/>
<path d="M1400.51 356.95L1397.46 363.05L1403.56 363.05Z" fill="#00d1f8" stroke="#00d1f8" stroke-width="2.1" stroke-linejoin="miter"/>
<path d="M1404.08 357.06L1401.03 363.16L1407.13 363.16Z" fill="#00d1f8" stroke="#00d1f8" stroke-width="2.1" stroke-linejoin="miter"/>
<path d="M1407.66 357.17L1404.61 363.27L1410.71 363.27Z" fill="#00d1f8" stroke="#00d1f8" stroke-width="2.1" stroke-linejoin="miter"/>
<path d="M1411.23 357.28L1408.18 363.38L1414.28 363.38Z" fill="#00d1f8" stroke="#00d1f8" stroke-width="2.1" stroke-linejoin="miter"/>
<path d="M1414.80 357.39L1411.75 363.49L1417.85 363.49Z" fill="#00d1f8" stroke="#00d1f8" stroke-width="2.1" stroke-linejoin="miter"/>
<path d="M1418.38 357.51L1415.33 363.61L1421.43 363.61Z" fill="#00d1f8" stroke="#00d1f8" stroke-width="2.1" stroke-linejoin="miter"/>
<path d="M1421.95 357.62L1418.90 363.72L1425.00 363.72Z" fill="#00d1f8" stroke="#00d1f8" stroke-width="2.1" stroke-linejoin="miter"/>
<path d="M1425.53 357.73L1422.48 363.83L1428.58 363.83Z" fill="#00d1f8" stroke="#00d1f8" stroke-width="2.1" stroke-linejoin="miter"/>
<path d="M1429.10 357.84L1426.05 363.94L1432.15 363.94Z" fill="#00d1f8" stroke="#00d1f8" stroke-width="2.1" stroke-linejoin="miter"/>
<path d="M1432.67 357.95L1429.62 364.05L1435.72 364.05Z" fill="#00d1f8" stroke="#00d1f8" stroke-width="2.1" stroke-linejoin="miter"/>
</g>
<g clip-path="url(#cp10)">
<polyline points="221.85,868.20 225.42,867.88 229.00,867.55 232.57,867.23 236.14,866.90 239.72,866.58 243.29,866.25 246.87,865.92 250.44,865.60 254.01,865.39 257.59,865.18 261.16,864.97 264.74,864.76 268.31,864.55 271.88,864.35 275.46,864.14 279.03,863.93 282.61,863.72 286.18,863.51 289.75,863.30 293.33,863.11 296.90,862.92 300.48,862.73 304.05,862.54 307.62,862.36 311.20,862.17 314.77,861.98 318.35,861.79 321.92,861.60 325.49,861.56 329.07,861.53 332.64,861.49 336.22,861.45 339.79,861.42 343.36,861.38 346.94,861.35 350.51,861.31 354.09,861.27 357.66,861.24 361.23,861.20 364.81,861.36 368.38,861.53 371.96,861.69 375.53,861.85 379.10,862.01 382.68,862.17 386.25,862.34 389.83,862.50 393.40,862.76 396.97,863.03 400.55,863.29 404.12,863.56 407.70,863.82 411.27,864.09 414.84,864.35 418.42,864.61 421.99,864.88 425.57,865.14 429.14,865.41 432.71,865.67 436.29,865.94 439.86,866.20 443.44,866.55 447.01,866.91 450.58,867.26 454.16,867.62 457.73,867.97 461.31,868.32 464.88,868.68 468.45,869.03 472.03,869.38 475.60,869.74 479.18,870.09 482.75,870.45 486.32,870.80 489.90,871.26 493.47,871.72 497.05,872.17 500.62,872.63 504.19,873.09 507.77,873.55 511.34,874.01 514.92,874.47 518.49,874.92 522.06,875.38 525.64,875.84 529.21,876.30 532.79,876.84 536.36,877.38 539.93,877.92 543.51,878.45 547.08,878.99 550.66,879.53 554.23,880.07 557.80,880.61 561.38,881.15 564.95,881.68 568.53,882.22 572.10,882.76 575.67,883.30" fill="none" stroke="#fdb324" stroke-width="1.8" stroke-dasharray="5.5,2.4"/>
<rect x="219.35" y="865.70" width="5.00" height="5.00" fill="#fdb324" stroke="#fdb324" stroke-width="1.5"/>
<rect x="222.92" y="865.38" width="5.00" height="5.00" fill="#fdb324" stroke="#fdb324" stroke-width="1.5"/>
<rect x="226.50" y="865.05" width="5.00" height="5.00" fill="#fdb324" stroke="#fdb324" stroke-width="1.5"/>
<rect x="230.07" y="864.73" width="5.00" height="5.00" fill="#fdb324" stroke="#fdb324" stroke-width="1.5"/>
<rect x="233.64" y="864.40" width="5.00" height="5.00" fill="#fdb324" stroke="#fdb324" stroke-width="1.5"/>
<rect x="237.22" y="864.08" width="5.00" height="5.00" fill="#fdb324" stroke="#fdb324" stroke-width="1.5"/>
<rect x="240.79" y="863.75" width="5.00" height="5.00" fill="#fdb324" stroke="#fdb324" stroke-width="1.5"/>
<rect x="244.37" y="863.42" width="5.00" height="5.00" fill="#fdb324" stroke="#fdb324" stroke-width="1.5"/>
<rect x="247.94" y="863.10" width="5.00" height="5.00" fill="#fdb324" stroke="#fdb324" stroke-width="1.5"/>
<rect x="251.51" y="862.89" width="5.00" height="5.00" fill="#fdb324" stroke="#fdb324" stroke-width="1.5"/>
<rect x="255.09" y="862.68" width="5.00" height="5.00" fill="#fdb324" stroke="#fdb324" stroke-width="1.5"/>
<rect x="258.66" y="862.47" width="5.00" height="5.00" fill="#fdb324" stroke="#fdb324" stroke-width="1.5"/>
<rect x="262.24" y="862.26" width="5.00" height="5.00" fill="#fdb324" stroke="#fdb324" stroke-width="1.5"/>
<rect x="265.81" y="862.05" width="5.00" height="5.00" fill="#fdb324" stroke="#fdb324" stroke-width="1.5"/>
<rect x="269.38" y="861.85" width="5.00" height="5.00" fill="#fdb324" stroke="#fdb324" stroke-width="1.5"/>
<rect x="272.96" y="861.64" width="5.00" height="5.00" fill="#fdb324" stroke="#fdb324" stroke-width="1.5"/>
<rect x="276.53" y="861.43" width="5.00" height="5.00" fill="#fdb324" stroke="#fdb324" stroke-width="1.5"/>
<rect x="280.11" y="861.22" width="5.00" height="5.00" fill="#fdb324" stroke="#fdb324" stroke-width="1.5"/>
<rect x="283.68" y="861.01" width="5.00" height="5.00" fill="#fdb324" stroke="#fdb324" stroke-width="1.5"/>
<rect x="287.25" y="860.80" width="5.00" height="5.00" fill="#fdb324" stroke="#fdb324" stroke-width="1.5"/>
<rect x="290.83" y="860.61" width="5.00" height="5.00" fill="#fdb324" stroke="#fdb324" stroke-width="1.5"/>
<rect x="294.40" y="860.42" width="5.00" height="5.00" fill="#fdb324" stroke="#fdb324" stroke-width="1.5"/>
<rect x="297.98" y="860.23" width="5.00" height="5.00" fill="#fdb324" stroke="#fdb324" stroke-width="1.5"/>
<rect x="301.55" y="860.04" width="5.00" height="5.00" fill="#fdb324" stroke="#fdb324" stroke-width="1.5"/>
<rect x="305.12" y="859.86" width="5.00" height="5.00" fill="#fdb324" stroke="#fdb324" stroke-width="1.5"/>
<rect x="308.70" y="859.67" width="5.00" height="5.00" fill="#fdb324" stroke="#fdb324" stroke-width="1.5"/>
<rect x="312.27" y="859.48" width="5.00" height="5.00" fill="#fdb324" stroke="#fdb324" stroke-width="1.5"/>
<rect x="315.85" y="859.29" width="5.00" height="5.00" fill="#fdb324" stroke="#fdb324" stroke-width="1.5"/>
<rect x="319.42" y="859.10" width="5.00" height="5.00" fill="#fdb324" stroke="#fdb324" stroke-width="1.5"/>
<rect x="322.99" y="859.06" width="5.00" height="5.00" fill="#fdb324" stroke="#fdb324" stroke-width="1.5"/>
<rect x="326.57" y="859.03" width="5.00" height="5.00" fill="#fdb324" stroke="#fdb324" stroke-width="1.5"/>
<rect x="330.14" y="858.99" width="5.00" height="5.00" fill="#fdb324" stroke="#fdb324" stroke-width="1.5"/>
<rect x="333.72" y="858.95" width="5.00" height="5.00" fill="#fdb324" stroke="#fdb324" stroke-width="1.5"/>
<rect x="337.29" y="858.92" width="5.00" height="5.00" fill="#fdb324" stroke="#fdb324" stroke-width="1.5"/>
<rect x="340.86" y="858.88" width="5.00" height="5.00" fill="#fdb324" stroke="#fdb324" stroke-width="1.5"/>
<rect x="344.44" y="858.85" width="5.00" height="5.00" fill="#fdb324" stroke="#fdb324" stroke-width="1.5"/>
<rect x="348.01" y="858.81" width="5.00" height="5.00" fill="#fdb324" stroke="#fdb324" stroke-width="1.5"/>
<rect x="351.59" y="858.77" width="5.00" height="5.00" fill="#fdb324" stroke="#fdb324" stroke-width="1.5"/>
<rect x="355.16" y="858.74" width="5.00" height="5.00" fill="#fdb324" stroke="#fdb324" stroke-width="1.5"/>
<rect x="358.73" y="858.70" width="5.00" height="5.00" fill="#fdb324" stroke="#fdb324" stroke-width="1.5"/>
<rect x="362.31" y="858.86" width="5.00" height="5.00" fill="#fdb324" stroke="#fdb324" stroke-width="1.5"/>
<rect x="365.88" y="859.03" width="5.00" height="5.00" fill="#fdb324" stroke="#fdb324" stroke-width="1.5"/>
<rect x="369.46" y="859.19" width="5.00" height="5.00" fill="#fdb324" stroke="#fdb324" stroke-width="1.5"/>
<rect x="373.03" y="859.35" width="5.00" height="5.00" fill="#fdb324" stroke="#fdb324" stroke-width="1.5"/>
<rect x="376.60" y="859.51" width="5.00" height="5.00" fill="#fdb324" stroke="#fdb324" stroke-width="1.5"/>
<rect x="380.18" y="859.67" width="5.00" height="5.00" fill="#fdb324" stroke="#fdb324" stroke-width="1.5"/>
<rect x="383.75" y="859.84" width="5.00" height="5.00" fill="#fdb324" stroke="#fdb324" stroke-width="1.5"/>
<rect x="387.33" y="860.00" width="5.00" height="5.00" fill="#fdb324" stroke="#fdb324" stroke-width="1.5"/>
<rect x="390.90" y="860.26" width="5.00" height="5.00" fill="#fdb324" stroke="#fdb324" stroke-width="1.5"/>
<rect x="394.47" y="860.53" width="5.00" height="5.00" fill="#fdb324" stroke="#fdb324" stroke-width="1.5"/>
<rect x="398.05" y="860.79" width="5.00" height="5.00" fill="#fdb324" stroke="#fdb324" stroke-width="1.5"/>
<rect x="401.62" y="861.06" width="5.00" height="5.00" fill="#fdb324" stroke="#fdb324" stroke-width="1.5"/>
<rect x="405.20" y="861.32" width="5.00" height="5.00" fill="#fdb324" stroke="#fdb324" stroke-width="1.5"/>
<rect x="408.77" y="861.59" width="5.00" height="5.00" fill="#fdb324" stroke="#fdb324" stroke-width="1.5"/>
<rect x="412.34" y="861.85" width="5.00" height="5.00" fill="#fdb324" stroke="#fdb324" stroke-width="1.5"/>
<rect x="415.92" y="862.11" width="5.00" height="5.00" fill="#fdb324" stroke="#fdb324" stroke-width="1.5"/>
<rect x="419.49" y="862.38" width="5.00" height="5.00" fill="#fdb324" stroke="#fdb324" stroke-width="1.5"/>
<rect x="423.07" y="862.64" width="5.00" height="5.00" fill="#fdb324" stroke="#fdb324" stroke-width="1.5"/>
<rect x="426.64" y="862.91" width="5.00" height="5.00" fill="#fdb324" stroke="#fdb324" stroke-width="1.5"/>
<rect x="430.21" y="863.17" width="5.00" height="5.00" fill="#fdb324" stroke="#fdb324" stroke-width="1.5"/>
<rect x="433.79" y="863.44" width="5.00" height="5.00" fill="#fdb324" stroke="#fdb324" stroke-width="1.5"/>
<rect x="437.36" y="863.70" width="5.00" height="5.00" fill="#fdb324" stroke="#fdb324" stroke-width="1.5"/>
<rect x="440.94" y="864.05" width="5.00" height="5.00" fill="#fdb324" stroke="#fdb324" stroke-width="1.5"/>
<rect x="444.51" y="864.41" width="5.00" height="5.00" fill="#fdb324" stroke="#fdb324" stroke-width="1.5"/>
<rect x="448.08" y="864.76" width="5.00" height="5.00" fill="#fdb324" stroke="#fdb324" stroke-width="1.5"/>
<rect x="451.66" y="865.12" width="5.00" height="5.00" fill="#fdb324" stroke="#fdb324" stroke-width="1.5"/>
<rect x="455.23" y="865.47" width="5.00" height="5.00" fill="#fdb324" stroke="#fdb324" stroke-width="1.5"/>
<rect x="458.81" y="865.82" width="5.00" height="5.00" fill="#fdb324" stroke="#fdb324" stroke-width="1.5"/>
<rect x="462.38" y="866.18" width="5.00" height="5.00" fill="#fdb324" stroke="#fdb324" stroke-width="1.5"/>
<rect x="465.95" y="866.53" width="5.00" height="5.00" fill="#fdb324" stroke="#fdb324" stroke-width="1.5"/>
<rect x="469.53" y="866.88" width="5.00" height="5.00" fill="#fdb324" stroke="#fdb324" stroke-width="1.5"/>
<rect x="473.10" y="867.24" width="5.00" height="5.00" fill="#fdb324" stroke="#fdb324" stroke-width="1.5"/>
<rect x="476.68" y="867.59" width="5.00" height="5.00" fill="#fdb324" stroke="#fdb324" stroke-width="1.5"/>
<rect x="480.25" y="867.95" width="5.00" height="5.00" fill="#fdb324" stroke="#fdb324" stroke-width="1.5"/>
<rect x="483.82" y="868.30" width="5.00" height="5.00" fill="#fdb324" stroke="#fdb324" stroke-width="1.5"/>
<rect x="487.40" y="868.76" width="5.00" height="5.00" fill="#fdb324" stroke="#fdb324" stroke-width="1.5"/>
<rect x="490.97" y="869.22" width="5.00" height="5.00" fill="#fdb324" stroke="#fdb324" stroke-width="1.5"/>
<rect x="494.55" y="869.67" width="5.00" height="5.00" fill="#fdb324" stroke="#fdb324" stroke-width="1.5"/>
<rect x="498.12" y="870.13" width="5.00" height="5.00" fill="#fdb324" stroke="#fdb324" stroke-width="1.5"/>
<rect x="501.69" y="870.59" width="5.00" height="5.00" fill="#fdb324" stroke="#fdb324" stroke-width="1.5"/>
<rect x="505.27" y="871.05" width="5.00" height="5.00" fill="#fdb324" stroke="#fdb324" stroke-width="1.5"/>
<rect x="508.84" y="871.51" width="5.00" height="5.00" fill="#fdb324" stroke="#fdb324" stroke-width="1.5"/>
<rect x="512.42" y="871.97" width="5.00" height="5.00" fill="#fdb324" stroke="#fdb324" stroke-width="1.5"/>
<rect x="515.99" y="872.42" width="5.00" height="5.00" fill="#fdb324" stroke="#fdb324" stroke-width="1.5"/>
<rect x="519.56" y="872.88" width="5.00" height="5.00" fill="#fdb324" stroke="#fdb324" stroke-width="1.5"/>
<rect x="523.14" y="873.34" width="5.00" height="5.00" fill="#fdb324" stroke="#fdb324" stroke-width="1.5"/>
<rect x="526.71" y="873.80" width="5.00" height="5.00" fill="#fdb324" stroke="#fdb324" stroke-width="1.5"/>
<rect x="530.29" y="874.34" width="5.00" height="5.00" fill="#fdb324" stroke="#fdb324" stroke-width="1.5"/>
<rect x="533.86" y="874.88" width="5.00" height="5.00" fill="#fdb324" stroke="#fdb324" stroke-width="1.5"/>
<rect x="537.43" y="875.42" width="5.00" height="5.00" fill="#fdb324" stroke="#fdb324" stroke-width="1.5"/>
<rect x="541.01" y="875.95" width="5.00" height="5.00" fill="#fdb324" stroke="#fdb324" stroke-width="1.5"/>
<rect x="544.58" y="876.49" width="5.00" height="5.00" fill="#fdb324" stroke="#fdb324" stroke-width="1.5"/>
<rect x="548.16" y="877.03" width="5.00" height="5.00" fill="#fdb324" stroke="#fdb324" stroke-width="1.5"/>
<rect x="551.73" y="877.57" width="5.00" height="5.00" fill="#fdb324" stroke="#fdb324" stroke-width="1.5"/>
<rect x="555.30" y="878.11" width="5.00" height="5.00" fill="#fdb324" stroke="#fdb324" stroke-width="1.5"/>
<rect x="558.88" y="878.65" width="5.00" height="5.00" fill="#fdb324" stroke="#fdb324" stroke-width="1.5"/>
<rect x="562.45" y="879.18" width="5.00" height="5.00" fill="#fdb324" stroke="#fdb324" stroke-width="1.5"/>
<rect x="566.03" y="879.72" width="5.00" height="5.00" fill="#fdb324" stroke="#fdb324" stroke-width="1.5"/>
<rect x="569.60" y="880.26" width="5.00" height="5.00" fill="#fdb324" stroke="#fdb324" stroke-width="1.5"/>
<rect x="573.17" y="880.80" width="5.00" height="5.00" fill="#fdb324" stroke="#fdb324" stroke-width="1.5"/>
</g>
<g clip-path="url(#cp11)">
<polyline points="650.75,763.10 654.32,761.27 657.90,759.44 661.47,757.62 665.04,755.79 668.62,753.96 672.19,752.13 675.77,750.30 679.34,748.48 682.91,746.65 686.49,744.82 690.06,742.99 693.64,741.16 697.21,739.34 700.78,737.51 704.36,735.68 707.93,733.85 711.51,732.02 715.08,730.20 718.65,728.37 722.23,726.54 725.80,724.71 729.38,722.88 732.95,721.06 736.52,719.23 740.10,717.40 743.67,715.62 747.25,713.83 750.82,712.05 754.39,710.27 757.97,708.49 761.54,706.70 765.12,704.92 768.69,703.14 772.26,701.36 775.84,699.57 779.41,697.79 782.99,696.01 786.56,694.23 790.13,692.44 793.71,690.66 797.28,688.88 800.86,687.10 804.43,685.31 808.00,683.53 811.58,681.75 815.15,679.97 818.73,678.18 822.30,676.40 825.87,674.66 829.45,672.92 833.02,671.18 836.60,669.44 840.17,667.70 843.74,665.95 847.32,664.21 850.89,662.47 854.47,660.73 858.04,658.99 861.61,657.25 865.19,655.51 868.76,653.77 872.34,652.03 875.91,650.29 879.48,648.55 883.06,646.80 886.63,645.06 890.21,643.32 893.78,641.58 897.35,639.84 900.93,638.10 904.50,636.44 908.08,634.79 911.65,633.13 915.22,631.48 918.80,629.82 922.37,628.17 925.95,626.51 929.52,624.86 933.09,623.20 936.67,621.55 940.24,619.89 943.82,618.24 947.39,616.58 950.96,614.93 954.54,613.27 958.11,611.62 961.69,609.96 965.26,608.31 968.83,606.65 972.41,605.00 975.98,603.34 979.56,601.69 983.13,600.03 986.70,598.38 990.28,596.72 993.85,595.07 997.43,593.41 1001.00,591.76 1004.57,590.10" fill="none" stroke="#fdb324" stroke-width="1.8" stroke-dasharray="5.5,2.4"/>
<rect x="648.25" y="760.60" width="5.00" height="5.00" fill="#fdb324" stroke="#fdb324" stroke-width="1.5"/>
<rect x="651.82" y="758.77" width="5.00" height="5.00" fill="#fdb324" stroke="#fdb324" stroke-width="1.5"/>
<rect x="655.40" y="756.94" width="5.00" height="5.00" fill="#fdb324" stroke="#fdb324" stroke-width="1.5"/>
<rect x="658.97" y="755.12" width="5.00" height="5.00" fill="#fdb324" stroke="#fdb324" stroke-width="1.5"/>
<rect x="662.54" y="753.29" width="5.00" height="5.00" fill="#fdb324" stroke="#fdb324" stroke-width="1.5"/>
<rect x="666.12" y="751.46" width="5.00" height="5.00" fill="#fdb324" stroke="#fdb324" stroke-width="1.5"/>
<rect x="669.69" y="749.63" width="5.00" height="5.00" fill="#fdb324" stroke="#fdb324" stroke-width="1.5"/>
<rect x="673.27" y="747.80" width="5.00" height="5.00" fill="#fdb324" stroke="#fdb324" stroke-width="1.5"/>
<rect x="676.84" y="745.98" width="5.00" height="5.00" fill="#fdb324" stroke="#fdb324" stroke-width="1.5"/>
<rect x="680.41" y="744.15" width="5.00" height="5.00" fill="#fdb324" stroke="#fdb324" stroke-width="1.5"/>
<rect x="683.99" y="742.32" width="5.00" height="5.00" fill="#fdb324" stroke="#fdb324" stroke-width="1.5"/>
<rect x="687.56" y="740.49" width="5.00" height="5.00" fill="#fdb324" stroke="#fdb324" stroke-width="1.5"/>
<rect x="691.14" y="738.66" width="5.00" height="5.00" fill="#fdb324" stroke="#fdb324" stroke-width="1.5"/>
<rect x="694.71" y="736.84" width="5.00" height="5.00" fill="#fdb324" stroke="#fdb324" stroke-width="1.5"/>
<rect x="698.28" y="735.01" width="5.00" height="5.00" fill="#fdb324" stroke="#fdb324" stroke-width="1.5"/>
<rect x="701.86" y="733.18" width="5.00" height="5.00" fill="#fdb324" stroke="#fdb324" stroke-width="1.5"/>
<rect x="705.43" y="731.35" width="5.00" height="5.00" fill="#fdb324" stroke="#fdb324" stroke-width="1.5"/>
<rect x="709.01" y="729.52" width="5.00" height="5.00" fill="#fdb324" stroke="#fdb324" stroke-width="1.5"/>
<rect x="712.58" y="727.70" width="5.00" height="5.00" fill="#fdb324" stroke="#fdb324" stroke-width="1.5"/>
<rect x="716.15" y="725.87" width="5.00" height="5.00" fill="#fdb324" stroke="#fdb324" stroke-width="1.5"/>
<rect x="719.73" y="724.04" width="5.00" height="5.00" fill="#fdb324" stroke="#fdb324" stroke-width="1.5"/>
<rect x="723.30" y="722.21" width="5.00" height="5.00" fill="#fdb324" stroke="#fdb324" stroke-width="1.5"/>
<rect x="726.88" y="720.38" width="5.00" height="5.00" fill="#fdb324" stroke="#fdb324" stroke-width="1.5"/>
<rect x="730.45" y="718.56" width="5.00" height="5.00" fill="#fdb324" stroke="#fdb324" stroke-width="1.5"/>
<rect x="734.02" y="716.73" width="5.00" height="5.00" fill="#fdb324" stroke="#fdb324" stroke-width="1.5"/>
<rect x="737.60" y="714.90" width="5.00" height="5.00" fill="#fdb324" stroke="#fdb324" stroke-width="1.5"/>
<rect x="741.17" y="713.12" width="5.00" height="5.00" fill="#fdb324" stroke="#fdb324" stroke-width="1.5"/>
<rect x="744.75" y="711.33" width="5.00" height="5.00" fill="#fdb324" stroke="#fdb324" stroke-width="1.5"/>
<rect x="748.32" y="709.55" width="5.00" height="5.00" fill="#fdb324" stroke="#fdb324" stroke-width="1.5"/>
<rect x="751.89" y="707.77" width="5.00" height="5.00" fill="#fdb324" stroke="#fdb324" stroke-width="1.5"/>
<rect x="755.47" y="705.99" width="5.00" height="5.00" fill="#fdb324" stroke="#fdb324" stroke-width="1.5"/>
<rect x="759.04" y="704.20" width="5.00" height="5.00" fill="#fdb324" stroke="#fdb324" stroke-width="1.5"/>
<rect x="762.62" y="702.42" width="5.00" height="5.00" fill="#fdb324" stroke="#fdb324" stroke-width="1.5"/>
<rect x="766.19" y="700.64" width="5.00" height="5.00" fill="#fdb324" stroke="#fdb324" stroke-width="1.5"/>
<rect x="769.76" y="698.86" width="5.00" height="5.00" fill="#fdb324" stroke="#fdb324" stroke-width="1.5"/>
<rect x="773.34" y="697.07" width="5.00" height="5.00" fill="#fdb324" stroke="#fdb324" stroke-width="1.5"/>
<rect x="776.91" y="695.29" width="5.00" height="5.00" fill="#fdb324" stroke="#fdb324" stroke-width="1.5"/>
<rect x="780.49" y="693.51" width="5.00" height="5.00" fill="#fdb324" stroke="#fdb324" stroke-width="1.5"/>
<rect x="784.06" y="691.73" width="5.00" height="5.00" fill="#fdb324" stroke="#fdb324" stroke-width="1.5"/>
<rect x="787.63" y="689.94" width="5.00" height="5.00" fill="#fdb324" stroke="#fdb324" stroke-width="1.5"/>
<rect x="791.21" y="688.16" width="5.00" height="5.00" fill="#fdb324" stroke="#fdb324" stroke-width="1.5"/>
<rect x="794.78" y="686.38" width="5.00" height="5.00" fill="#fdb324" stroke="#fdb324" stroke-width="1.5"/>
<rect x="798.36" y="684.60" width="5.00" height="5.00" fill="#fdb324" stroke="#fdb324" stroke-width="1.5"/>
<rect x="801.93" y="682.81" width="5.00" height="5.00" fill="#fdb324" stroke="#fdb324" stroke-width="1.5"/>
<rect x="805.50" y="681.03" width="5.00" height="5.00" fill="#fdb324" stroke="#fdb324" stroke-width="1.5"/>
<rect x="809.08" y="679.25" width="5.00" height="5.00" fill="#fdb324" stroke="#fdb324" stroke-width="1.5"/>
<rect x="812.65" y="677.47" width="5.00" height="5.00" fill="#fdb324" stroke="#fdb324" stroke-width="1.5"/>
<rect x="816.23" y="675.68" width="5.00" height="5.00" fill="#fdb324" stroke="#fdb324" stroke-width="1.5"/>
<rect x="819.80" y="673.90" width="5.00" height="5.00" fill="#fdb324" stroke="#fdb324" stroke-width="1.5"/>
<rect x="823.37" y="672.16" width="5.00" height="5.00" fill="#fdb324" stroke="#fdb324" stroke-width="1.5"/>
<rect x="826.95" y="670.42" width="5.00" height="5.00" fill="#fdb324" stroke="#fdb324" stroke-width="1.5"/>
<rect x="830.52" y="668.68" width="5.00" height="5.00" fill="#fdb324" stroke="#fdb324" stroke-width="1.5"/>
<rect x="834.10" y="666.94" width="5.00" height="5.00" fill="#fdb324" stroke="#fdb324" stroke-width="1.5"/>
<rect x="837.67" y="665.20" width="5.00" height="5.00" fill="#fdb324" stroke="#fdb324" stroke-width="1.5"/>
<rect x="841.24" y="663.45" width="5.00" height="5.00" fill="#fdb324" stroke="#fdb324" stroke-width="1.5"/>
<rect x="844.82" y="661.71" width="5.00" height="5.00" fill="#fdb324" stroke="#fdb324" stroke-width="1.5"/>
<rect x="848.39" y="659.97" width="5.00" height="5.00" fill="#fdb324" stroke="#fdb324" stroke-width="1.5"/>
<rect x="851.97" y="658.23" width="5.00" height="5.00" fill="#fdb324" stroke="#fdb324" stroke-width="1.5"/>
<rect x="855.54" y="656.49" width="5.00" height="5.00" fill="#fdb324" stroke="#fdb324" stroke-width="1.5"/>
<rect x="859.11" y="654.75" width="5.00" height="5.00" fill="#fdb324" stroke="#fdb324" stroke-width="1.5"/>
<rect x="862.69" y="653.01" width="5.00" height="5.00" fill="#fdb324" stroke="#fdb324" stroke-width="1.5"/>
<rect x="866.26" y="651.27" width="5.00" height="5.00" fill="#fdb324" stroke="#fdb324" stroke-width="1.5"/>
<rect x="869.84" y="649.53" width="5.00" height="5.00" fill="#fdb324" stroke="#fdb324" stroke-width="1.5"/>
<rect x="873.41" y="647.79" width="5.00" height="5.00" fill="#fdb324" stroke="#fdb324" stroke-width="1.5"/>
<rect x="876.98" y="646.05" width="5.00" height="5.00" fill="#fdb324" stroke="#fdb324" stroke-width="1.5"/>
<rect x="880.56" y="644.30" width="5.00" height="5.00" fill="#fdb324" stroke="#fdb324" stroke-width="1.5"/>
<rect x="884.13" y="642.56" width="5.00" height="5.00" fill="#fdb324" stroke="#fdb324" stroke-width="1.5"/>
<rect x="887.71" y="640.82" width="5.00" height="5.00" fill="#fdb324" stroke="#fdb324" stroke-width="1.5"/>
<rect x="891.28" y="639.08" width="5.00" height="5.00" fill="#fdb324" stroke="#fdb324" stroke-width="1.5"/>
<rect x="894.85" y="637.34" width="5.00" height="5.00" fill="#fdb324" stroke="#fdb324" stroke-width="1.5"/>
<rect x="898.43" y="635.60" width="5.00" height="5.00" fill="#fdb324" stroke="#fdb324" stroke-width="1.5"/>
<rect x="902.00" y="633.94" width="5.00" height="5.00" fill="#fdb324" stroke="#fdb324" stroke-width="1.5"/>
<rect x="905.58" y="632.29" width="5.00" height="5.00" fill="#fdb324" stroke="#fdb324" stroke-width="1.5"/>
<rect x="909.15" y="630.63" width="5.00" height="5.00" fill="#fdb324" stroke="#fdb324" stroke-width="1.5"/>
<rect x="912.72" y="628.98" width="5.00" height="5.00" fill="#fdb324" stroke="#fdb324" stroke-width="1.5"/>
<rect x="916.30" y="627.32" width="5.00" height="5.00" fill="#fdb324" stroke="#fdb324" stroke-width="1.5"/>
<rect x="919.87" y="625.67" width="5.00" height="5.00" fill="#fdb324" stroke="#fdb324" stroke-width="1.5"/>
<rect x="923.45" y="624.01" width="5.00" height="5.00" fill="#fdb324" stroke="#fdb324" stroke-width="1.5"/>
<rect x="927.02" y="622.36" width="5.00" height="5.00" fill="#fdb324" stroke="#fdb324" stroke-width="1.5"/>
<rect x="930.59" y="620.70" width="5.00" height="5.00" fill="#fdb324" stroke="#fdb324" stroke-width="1.5"/>
<rect x="934.17" y="619.05" width="5.00" height="5.00" fill="#fdb324" stroke="#fdb324" stroke-width="1.5"/>
<rect x="937.74" y="617.39" width="5.00" height="5.00" fill="#fdb324" stroke="#fdb324" stroke-width="1.5"/>
<rect x="941.32" y="615.74" width="5.00" height="5.00" fill="#fdb324" stroke="#fdb324" stroke-width="1.5"/>
<rect x="944.89" y="614.08" width="5.00" height="5.00" fill="#fdb324" stroke="#fdb324" stroke-width="1.5"/>
<rect x="948.46" y="612.43" width="5.00" height="5.00" fill="#fdb324" stroke="#fdb324" stroke-width="1.5"/>
<rect x="952.04" y="610.77" width="5.00" height="5.00" fill="#fdb324" stroke="#fdb324" stroke-width="1.5"/>
<rect x="955.61" y="609.12" width="5.00" height="5.00" fill="#fdb324" stroke="#fdb324" stroke-width="1.5"/>
<rect x="959.19" y="607.46" width="5.00" height="5.00" fill="#fdb324" stroke="#fdb324" stroke-width="1.5"/>
<rect x="962.76" y="605.81" width="5.00" height="5.00" fill="#fdb324" stroke="#fdb324" stroke-width="1.5"/>
<rect x="966.33" y="604.15" width="5.00" height="5.00" fill="#fdb324" stroke="#fdb324" stroke-width="1.5"/>
<rect x="969.91" y="602.50" width="5.00" height="5.00" fill="#fdb324" stroke="#fdb324" stroke-width="1.5"/>
<rect x="973.48" y="600.84" width="5.00" height="5.00" fill="#fdb324" stroke="#fdb324" stroke-width="1.5"/>
<rect x="977.06" y="599.19" width="5.00" height="5.00" fill="#fdb324" stroke="#fdb324" stroke-width="1.5"/>
<rect x="980.63" y="597.53" width="5.00" height="5.00" fill="#fdb324" stroke="#fdb324" stroke-width="1.5"/>
<rect x="984.20" y="595.88" width="5.00" height="5.00" fill="#fdb324" stroke="#fdb324" stroke-width="1.5"/>
<rect x="987.78" y="594.22" width="5.00" height="5.00" fill="#fdb324" stroke="#fdb324" stroke-width="1.5"/>
<rect x="991.35" y="592.57" width="5.00" height="5.00" fill="#fdb324" stroke="#fdb324" stroke-width="1.5"/>
<rect x="994.93" y="590.91" width="5.00" height="5.00" fill="#fdb324" stroke="#fdb324" stroke-width="1.5"/>
<rect x="998.50" y="589.26" width="5.00" height="5.00" fill="#fdb324" stroke="#fdb324" stroke-width="1.5"/>
<rect x="1002.07" y="587.60" width="5.00" height="5.00" fill="#fdb324" stroke="#fdb324" stroke-width="1.5"/>
</g>
<g clip-path="url(#cp12)">
<polyline points="1078.85,797.80 1082.42,798.91 1086.00,800.03 1089.57,801.14 1093.14,802.26 1096.72,803.37 1100.29,804.48 1103.87,805.60 1107.44,806.71 1111.01,807.83 1114.59,808.94 1118.16,810.06 1121.74,811.17 1125.31,812.28 1128.88,813.40 1132.46,814.51 1136.03,815.63 1139.61,816.74 1143.18,817.85 1146.75,818.97 1150.33,820.08 1153.90,821.20 1157.48,822.31 1161.05,823.43 1164.62,824.54 1168.20,825.65 1171.77,826.77 1175.35,827.88 1178.92,829.00 1182.49,830.11 1186.07,831.22 1189.64,832.34 1193.22,833.45 1196.79,834.57 1200.36,835.68 1203.94,836.79 1207.51,837.91 1211.09,839.02 1214.66,840.14 1218.23,841.25 1221.81,842.37 1225.38,843.48 1228.96,844.59 1232.53,845.71 1236.10,846.82 1239.68,847.94 1243.25,849.05 1246.83,850.16 1250.40,851.28 1253.97,852.39 1257.55,853.51 1261.12,854.62 1264.70,855.74 1268.27,856.85 1271.84,857.96 1275.42,859.08 1278.99,860.19 1282.57,861.31 1286.14,862.42 1289.71,863.53 1293.29,864.65 1296.86,865.76 1300.44,866.88 1304.01,867.99 1307.58,869.11 1311.16,870.22 1314.73,871.33 1318.31,872.45 1321.88,873.56 1325.45,874.68 1329.03,875.79 1332.60,876.90 1336.18,878.02 1339.75,879.13 1343.32,880.25 1346.90,881.36 1350.47,882.47 1354.05,883.59 1357.62,884.70 1361.19,885.82 1364.77,886.93 1368.34,888.05 1371.92,889.16 1375.49,890.27 1379.06,891.39 1382.64,892.50 1386.21,893.62 1389.79,894.73 1393.36,895.84 1396.93,896.96 1400.51,898.07 1404.08,899.19 1407.66,900.30 1411.23,901.42 1414.80,902.53 1418.38,903.64 1421.95,904.76 1425.53,905.87 1429.10,906.99 1432.67,908.10" fill="none" stroke="#fdb324" stroke-width="1.8" stroke-dasharray="5.5,2.4"/>
<rect x="1076.35" y="795.30" width="5.00" height="5.00" fill="#fdb324" stroke="#fdb324" stroke-width="1.5"/>
<rect x="1079.92" y="796.41" width="5.00" height="5.00" fill="#fdb324" stroke="#fdb324" stroke-width="1.5"/>
<rect x="1083.50" y="797.53" width="5.00" height="5.00" fill="#fdb324" stroke="#fdb324" stroke-width="1.5"/>
<rect x="1087.07" y="798.64" width="5.00" height="5.00" fill="#fdb324" stroke="#fdb324" stroke-width="1.5"/>
<rect x="1090.64" y="799.76" width="5.00" height="5.00" fill="#fdb324" stroke="#fdb324" stroke-width="1.5"/>
<rect x="1094.22" y="800.87" width="5.00" height="5.00" fill="#fdb324" stroke="#fdb324" stroke-width="1.5"/>
<rect x="1097.79" y="801.98" width="5.00" height="5.00" fill="#fdb324" stroke="#fdb324" stroke-width="1.5"/>
<rect x="1101.37" y="803.10" width="5.00" height="5.00" fill="#fdb324" stroke="#fdb324" stroke-width="1.5"/>
<rect x="1104.94" y="804.21" width="5.00" height="5.00" fill="#fdb324" stroke="#fdb324" stroke-width="1.5"/>
<rect x="1108.51" y="805.33" width="5.00" height="5.00" fill="#fdb324" stroke="#fdb324" stroke-width="1.5"/>
<rect x="1112.09" y="806.44" width="5.00" height="5.00" fill="#fdb324" stroke="#fdb324" stroke-width="1.5"/>
<rect x="1115.66" y="807.56" width="5.00" height="5.00" fill="#fdb324" stroke="#fdb324" stroke-width="1.5"/>
<rect x="1119.24" y="808.67" width="5.00" height="5.00" fill="#fdb324" stroke="#fdb324" stroke-width="1.5"/>
<rect x="1122.81" y="809.78" width="5.00" height="5.00" fill="#fdb324" stroke="#fdb324" stroke-width="1.5"/>
<rect x="1126.38" y="810.90" width="5.00" height="5.00" fill="#fdb324" stroke="#fdb324" stroke-width="1.5"/>
<rect x="1129.96" y="812.01" width="5.00" height="5.00" fill="#fdb324" stroke="#fdb324" stroke-width="1.5"/>
<rect x="1133.53" y="813.13" width="5.00" height="5.00" fill="#fdb324" stroke="#fdb324" stroke-width="1.5"/>
<rect x="1137.11" y="814.24" width="5.00" height="5.00" fill="#fdb324" stroke="#fdb324" stroke-width="1.5"/>
<rect x="1140.68" y="815.35" width="5.00" height="5.00" fill="#fdb324" stroke="#fdb324" stroke-width="1.5"/>
<rect x="1144.25" y="816.47" width="5.00" height="5.00" fill="#fdb324" stroke="#fdb324" stroke-width="1.5"/>
<rect x="1147.83" y="817.58" width="5.00" height="5.00" fill="#fdb324" stroke="#fdb324" stroke-width="1.5"/>
<rect x="1151.40" y="818.70" width="5.00" height="5.00" fill="#fdb324" stroke="#fdb324" stroke-width="1.5"/>
<rect x="1154.98" y="819.81" width="5.00" height="5.00" fill="#fdb324" stroke="#fdb324" stroke-width="1.5"/>
<rect x="1158.55" y="820.93" width="5.00" height="5.00" fill="#fdb324" stroke="#fdb324" stroke-width="1.5"/>
<rect x="1162.12" y="822.04" width="5.00" height="5.00" fill="#fdb324" stroke="#fdb324" stroke-width="1.5"/>
<rect x="1165.70" y="823.15" width="5.00" height="5.00" fill="#fdb324" stroke="#fdb324" stroke-width="1.5"/>
<rect x="1169.27" y="824.27" width="5.00" height="5.00" fill="#fdb324" stroke="#fdb324" stroke-width="1.5"/>
<rect x="1172.85" y="825.38" width="5.00" height="5.00" fill="#fdb324" stroke="#fdb324" stroke-width="1.5"/>
<rect x="1176.42" y="826.50" width="5.00" height="5.00" fill="#fdb324" stroke="#fdb324" stroke-width="1.5"/>
<rect x="1179.99" y="827.61" width="5.00" height="5.00" fill="#fdb324" stroke="#fdb324" stroke-width="1.5"/>
<rect x="1183.57" y="828.72" width="5.00" height="5.00" fill="#fdb324" stroke="#fdb324" stroke-width="1.5"/>
<rect x="1187.14" y="829.84" width="5.00" height="5.00" fill="#fdb324" stroke="#fdb324" stroke-width="1.5"/>
<rect x="1190.72" y="830.95" width="5.00" height="5.00" fill="#fdb324" stroke="#fdb324" stroke-width="1.5"/>
<rect x="1194.29" y="832.07" width="5.00" height="5.00" fill="#fdb324" stroke="#fdb324" stroke-width="1.5"/>
<rect x="1197.86" y="833.18" width="5.00" height="5.00" fill="#fdb324" stroke="#fdb324" stroke-width="1.5"/>
<rect x="1201.44" y="834.29" width="5.00" height="5.00" fill="#fdb324" stroke="#fdb324" stroke-width="1.5"/>
<rect x="1205.01" y="835.41" width="5.00" height="5.00" fill="#fdb324" stroke="#fdb324" stroke-width="1.5"/>
<rect x="1208.59" y="836.52" width="5.00" height="5.00" fill="#fdb324" stroke="#fdb324" stroke-width="1.5"/>
<rect x="1212.16" y="837.64" width="5.00" height="5.00" fill="#fdb324" stroke="#fdb324" stroke-width="1.5"/>
<rect x="1215.73" y="838.75" width="5.00" height="5.00" fill="#fdb324" stroke="#fdb324" stroke-width="1.5"/>
<rect x="1219.31" y="839.87" width="5.00" height="5.00" fill="#fdb324" stroke="#fdb324" stroke-width="1.5"/>
<rect x="1222.88" y="840.98" width="5.00" height="5.00" fill="#fdb324" stroke="#fdb324" stroke-width="1.5"/>
<rect x="1226.46" y="842.09" width="5.00" height="5.00" fill="#fdb324" stroke="#fdb324" stroke-width="1.5"/>
<rect x="1230.03" y="843.21" width="5.00" height="5.00" fill="#fdb324" stroke="#fdb324" stroke-width="1.5"/>
<rect x="1233.60" y="844.32" width="5.00" height="5.00" fill="#fdb324" stroke="#fdb324" stroke-width="1.5"/>
<rect x="1237.18" y="845.44" width="5.00" height="5.00" fill="#fdb324" stroke="#fdb324" stroke-width="1.5"/>
<rect x="1240.75" y="846.55" width="5.00" height="5.00" fill="#fdb324" stroke="#fdb324" stroke-width="1.5"/>
<rect x="1244.33" y="847.66" width="5.00" height="5.00" fill="#fdb324" stroke="#fdb324" stroke-width="1.5"/>
<rect x="1247.90" y="848.78" width="5.00" height="5.00" fill="#fdb324" stroke="#fdb324" stroke-width="1.5"/>
<rect x="1251.47" y="849.89" width="5.00" height="5.00" fill="#fdb324" stroke="#fdb324" stroke-width="1.5"/>
<rect x="1255.05" y="851.01" width="5.00" height="5.00" fill="#fdb324" stroke="#fdb324" stroke-width="1.5"/>
<rect x="1258.62" y="852.12" width="5.00" height="5.00" fill="#fdb324" stroke="#fdb324" stroke-width="1.5"/>
<rect x="1262.20" y="853.24" width="5.00" height="5.00" fill="#fdb324" stroke="#fdb324" stroke-width="1.5"/>
<rect x="1265.77" y="854.35" width="5.00" height="5.00" fill="#fdb324" stroke="#fdb324" stroke-width="1.5"/>
<rect x="1269.34" y="855.46" width="5.00" height="5.00" fill="#fdb324" stroke="#fdb324" stroke-width="1.5"/>
<rect x="1272.92" y="856.58" width="5.00" height="5.00" fill="#fdb324" stroke="#fdb324" stroke-width="1.5"/>
<rect x="1276.49" y="857.69" width="5.00" height="5.00" fill="#fdb324" stroke="#fdb324" stroke-width="1.5"/>
<rect x="1280.07" y="858.81" width="5.00" height="5.00" fill="#fdb324" stroke="#fdb324" stroke-width="1.5"/>
<rect x="1283.64" y="859.92" width="5.00" height="5.00" fill="#fdb324" stroke="#fdb324" stroke-width="1.5"/>
<rect x="1287.21" y="861.03" width="5.00" height="5.00" fill="#fdb324" stroke="#fdb324" stroke-width="1.5"/>
<rect x="1290.79" y="862.15" width="5.00" height="5.00" fill="#fdb324" stroke="#fdb324" stroke-width="1.5"/>
<rect x="1294.36" y="863.26" width="5.00" height="5.00" fill="#fdb324" stroke="#fdb324" stroke-width="1.5"/>
<rect x="1297.94" y="864.38" width="5.00" height="5.00" fill="#fdb324" stroke="#fdb324" stroke-width="1.5"/>
<rect x="1301.51" y="865.49" width="5.00" height="5.00" fill="#fdb324" stroke="#fdb324" stroke-width="1.5"/>
<rect x="1305.08" y="866.61" width="5.00" height="5.00" fill="#fdb324" stroke="#fdb324" stroke-width="1.5"/>
<rect x="1308.66" y="867.72" width="5.00" height="5.00" fill="#fdb324" stroke="#fdb324" stroke-width="1.5"/>
<rect x="1312.23" y="868.83" width="5.00" height="5.00" fill="#fdb324" stroke="#fdb324" stroke-width="1.5"/>
<rect x="1315.81" y="869.95" width="5.00" height="5.00" fill="#fdb324" stroke="#fdb324" stroke-width="1.5"/>
<rect x="1319.38" y="871.06" width="5.00" height="5.00" fill="#fdb324" stroke="#fdb324" stroke-width="1.5"/>
<rect x="1322.95" y="872.18" width="5.00" height="5.00" fill="#fdb324" stroke="#fdb324" stroke-width="1.5"/>
<rect x="1326.53" y="873.29" width="5.00" height="5.00" fill="#fdb324" stroke="#fdb324" stroke-width="1.5"/>
<rect x="1330.10" y="874.40" width="5.00" height="5.00" fill="#fdb324" stroke="#fdb324" stroke-width="1.5"/>
<rect x="1333.68" y="875.52" width="5.00" height="5.00" fill="#fdb324" stroke="#fdb324" stroke-width="1.5"/>
<rect x="1337.25" y="876.63" width="5.00" height="5.00" fill="#fdb324" stroke="#fdb324" stroke-width="1.5"/>
<rect x="1340.82" y="877.75" width="5.00" height="5.00" fill="#fdb324" stroke="#fdb324" stroke-width="1.5"/>
<rect x="1344.40" y="878.86" width="5.00" height="5.00" fill="#fdb324" stroke="#fdb324" stroke-width="1.5"/>
<rect x="1347.97" y="879.97" width="5.00" height="5.00" fill="#fdb324" stroke="#fdb324" stroke-width="1.5"/>
<rect x="1351.55" y="881.09" width="5.00" height="5.00" fill="#fdb324" stroke="#fdb324" stroke-width="1.5"/>
<rect x="1355.12" y="882.20" width="5.00" height="5.00" fill="#fdb324" stroke="#fdb324" stroke-width="1.5"/>
<rect x="1358.69" y="883.32" width="5.00" height="5.00" fill="#fdb324" stroke="#fdb324" stroke-width="1.5"/>
<rect x="1362.27" y="884.43" width="5.00" height="5.00" fill="#fdb324" stroke="#fdb324" stroke-width="1.5"/>
<rect x="1365.84" y="885.55" width="5.00" height="5.00" fill="#fdb324" stroke="#fdb324" stroke-width="1.5"/>
<rect x="1369.42" y="886.66" width="5.00" height="5.00" fill="#fdb324" stroke="#fdb324" stroke-width="1.5"/>
<rect x="1372.99" y="887.77" width="5.00" height="5.00" fill="#fdb324" stroke="#fdb324" stroke-width="1.5"/>
<rect x="1376.56" y="888.89" width="5.00" height="5.00" fill="#fdb324" stroke="#fdb324" stroke-width="1.5"/>
<rect x="1380.14" y="890.00" width="5.00" height="5.00" fill="#fdb324" stroke="#fdb324" stroke-width="1.5"/>
<rect x="1383.71" y="891.12" width="5.00" height="5.00" fill="#fdb324" stroke="#fdb324" stroke-width="1.5"/>
<rect x="1387.29" y="892.23" width="5.00" height="5.00" fill="#fdb324" stroke="#fdb324" stroke-width="1.5"/>
<rect x="1390.86" y="893.34" width="5.00" height="5.00" fill="#fdb324" stroke="#fdb324" stroke-width="1.5"/>
<rect x="1394.43" y="894.46" width="5.00" height="5.00" fill="#fdb324" stroke="#fdb324" stroke-width="1.5"/>
<rect x="1398.01" y="895.57" width="5.00" height="5.00" fill="#fdb324" stroke="#fdb324" stroke-width="1.5"/>
<rect x="1401.58" y="896.69" width="5.00" height="5.00" fill="#fdb324" stroke="#fdb324" stroke-width="1.5"/>
<rect x="1405.16" y="897.80" width="5.00" height="5.00" fill="#fdb324" stroke="#fdb324" stroke-width="1.5"/>
<rect x="1408.73" y="898.92" width="5.00" height="5.00" fill="#fdb324" stroke="#fdb324" stroke-width="1.5"/>
<rect x="1412.30" y="900.03" width="5.00" height="5.00" fill="#fdb324" stroke="#fdb324" stroke-width="1.5"/>
<rect x="1415.88" y="901.14" width="5.00" height="5.00" fill="#fdb324" stroke="#fdb324" stroke-width="1.5"/>
<rect x="1419.45" y="902.26" width="5.00" height="5.00" fill="#fdb324" stroke="#fdb324" stroke-width="1.5"/>
<rect x="1423.03" y="903.37" width="5.00" height="5.00" fill="#fdb324" stroke="#fdb324" stroke-width="1.5"/>
<rect x="1426.60" y="904.49" width="5.00" height="5.00" fill="#fdb324" stroke="#fdb324" stroke-width="1.5"/>
<rect x="1430.17" y="905.60" width="5.00" height="5.00" fill="#fdb324" stroke="#fdb324" stroke-width="1.5"/>
</g>
<rect x="215.30" y="344.70" width="221.20" height="100.50" rx="3.5" ry="3.5" fill="#ffffff" fill-opacity="0.8" stroke="#c9c9c9" stroke-width="2.4"/>
<line x1="224.00" y1="361.20" x2="269.50" y2="361.20" stroke="#b54fe0" stroke-width="2" stroke-dasharray="10,5"/>
<circle cx="246.30" cy="361.20" r="6.10" fill="#b54fe0" stroke="#b54fe0" stroke-width="2.1"/>
<text x="285.90" y="369.00" font-family="Liberation Serif, serif" font-size="22.3" fill="#111" stroke="#111" stroke-width="0.12">G08 MLIM</text>
<line x1="224.00" y1="392.70" x2="269.50" y2="392.70" stroke="#0cb38b" stroke-width="2" stroke-dasharray="10,5"/>
<polygon points="246.30,386.60 244.93,390.81 240.50,390.81 244.08,393.42 242.71,397.64 246.30,395.03 249.89,397.64 248.52,393.42 252.10,390.81 247.67,390.81" fill="#0cb38b" stroke="#0cb38b" stroke-width="2.1" stroke-linejoin="bevel"/>
<text x="285.90" y="400.50" font-family="Liberation Serif, serif" font-size="22.3" fill="#111" stroke="#111" stroke-width="0.12">G08 TLIM</text>
<line x1="224.00" y1="424.20" x2="269.50" y2="424.20" stroke="#00d1f8" stroke-width="2" stroke-dasharray="10,5"/>
<path d="M246.30 418.10L240.20 430.30L252.40 430.30Z" fill="#00d1f8" stroke="#00d1f8" stroke-width="2.1" stroke-linejoin="miter"/>
<text x="285.90" y="432.00" font-family="Liberation Serif, serif" font-size="22.3" fill="#111" stroke="#111" stroke-width="0.12">G08 True Value</text>
<rect x="644.30" y="44.70" width="221.20" height="100.50" rx="3.5" ry="3.5" fill="#ffffff" fill-opacity="0.8" stroke="#c9c9c9" stroke-width="2.4"/>
<line x1="653.00" y1="61.20" x2="698.50" y2="61.20" stroke="#b54fe0" stroke-width="2" stroke-dasharray="10,5"/>
<circle cx="675.30" cy="61.20" r="6.10" fill="#b54fe0" stroke="#b54fe0" stroke-width="2.1"/>
<text x="714.90" y="69.00" font-family="Liberation Serif, serif" font-size="22.3" fill="#111" stroke="#111" stroke-width="0.12">G14 MLIM</text>
<line x1="653.00" y1="92.70" x2="698.50" y2="92.70" stroke="#0cb38b" stroke-width="2" stroke-dasharray="10,5"/>
<polygon points="675.30,86.60 673.93,90.81 669.50,90.81 673.08,93.42 671.71,97.64 675.30,95.03 678.89,97.64 677.52,93.42 681.10,90.81 676.67,90.81" fill="#0cb38b" stroke="#0cb38b" stroke-width="2.1" stroke-linejoin="bevel"/>
<text x="714.90" y="100.50" font-family="Liberation Serif, serif" font-size="22.3" fill="#111" stroke="#111" stroke-width="0.12">G14 TLIM</text>
<line x1="653.00" y1="124.20" x2="698.50" y2="124.20" stroke="#00d1f8" stroke-width="2" stroke-dasharray="10,5"/>
<path d="M675.30 118.10L669.20 130.30L681.40 130.30Z" fill="#00d1f8" stroke="#00d1f8" stroke-width="2.1" stroke-linejoin="miter"/>
<text x="714.90" y="132.00" font-family="Liberation Serif, serif" font-size="22.3" fill="#111" stroke="#111" stroke-width="0.12">G14 True Value</text>
<rect x="1072.40" y="44.70" width="221.20" height="100.50" rx="3.5" ry="3.5" fill="#ffffff" fill-opacity="0.8" stroke="#c9c9c9" stroke-width="2.4"/>
<line x1="1081.10" y1="61.20" x2="1126.60" y2="61.20" stroke="#b54fe0" stroke-width="2" stroke-dasharray="10,5"/>
<circle cx="1103.40" cy="61.20" r="6.10" fill="#b54fe0" stroke="#b54fe0" stroke-width="2.1"/>
<text x="1143.00" y="69.00" font-family="Liberation Serif, serif" font-size="22.3" fill="#111" stroke="#111" stroke-width="0.12">G20 MLIM</text>
<line x1="1081.10" y1="92.70" x2="1126.60" y2="92.70" stroke="#0cb38b" stroke-width="2" stroke-dasharray="10,5"/>
<polygon points="1103.40,86.60 1102.03,90.81 1097.60,90.81 1101.18,93.42 1099.81,97.64 1103.40,95.03 1106.99,97.64 1105.62,93.42 1109.20,90.81 1104.77,90.81" fill="#0cb38b" stroke="#0cb38b" stroke-width="2.1" stroke-linejoin="bevel"/>
<text x="1143.00" y="100.50" font-family="Liberation Serif, serif" font-size="22.3" fill="#111" stroke="#111" stroke-width="0.12">G20 TLIM</text>
<line x1="1081.10" y1="124.20" x2="1126.60" y2="124.20" stroke="#00d1f8" stroke-width="2" stroke-dasharray="10,5"/>
<path d="M1103.40 118.10L1097.30 130.30L1109.50 130.30Z" fill="#00d1f8" stroke="#00d1f8" stroke-width="2.1" stroke-linejoin="miter"/>
<text x="1143.00" y="132.00" font-family="Liberation Serif, serif" font-size="22.3" fill="#111" stroke="#111" stroke-width="0.12">G20 True Value</text>
<rect x="214.90" y="552.90" width="154.70" height="38.30" rx="3.5" ry="3.5" fill="#ffffff" fill-opacity="0.8" stroke="#c9c9c9" stroke-width="2.4"/>
<rect x="241.70" y="567.10" width="9.00" height="9.00" fill="#fdb324" stroke="#fdb324" stroke-width="1.5"/>
<text x="286.10" y="579.10" font-family="Liberation Serif, serif" font-size="22.3" fill="#111" stroke="#111" stroke-width="0.12">G08 Ele</text>
<rect x="643.70" y="552.90" width="154.70" height="38.30" rx="3.5" ry="3.5" fill="#ffffff" fill-opacity="0.8" stroke="#c9c9c9" stroke-width="2.4"/>
<rect x="670.50" y="567.10" width="9.00" height="9.00" fill="#fdb324" stroke="#fdb324" stroke-width="1.5"/>
<text x="714.90" y="579.10" font-family="Liberation Serif, serif" font-size="22.3" fill="#111" stroke="#111" stroke-width="0.12">G14 Ele</text>
<rect x="1071.80" y="552.90" width="154.70" height="38.30" rx="3.5" ry="3.5" fill="#ffffff" fill-opacity="0.8" stroke="#c9c9c9" stroke-width="2.4"/>
<rect x="1098.60" y="567.10" width="9.00" height="9.00" fill="#fdb324" stroke="#fdb324" stroke-width="1.5"/>
<text x="1143.00" y="579.10" font-family="Liberation Serif, serif" font-size="22.3" fill="#111" stroke="#111" stroke-width="0.12">G20 Ele</text>
<rect x="204.0" y="33.2" width="389.4" height="423.6" fill="none" stroke="#2a2a2a" stroke-width="2.6"/>
<line x1="214.70" y1="456.80" x2="214.70" y2="447.80" stroke="#2a2a2a" stroke-width="2.3"/>
<line x1="393.40" y1="456.80" x2="393.40" y2="447.80" stroke="#2a2a2a" stroke-width="2.3"/>
<line x1="572.10" y1="456.80" x2="572.10" y2="447.80" stroke="#2a2a2a" stroke-width="2.3"/>
<line x1="204.00" y1="33.20" x2="213.00" y2="33.20" stroke="#2a2a2a" stroke-width="2.3"/>
<line x1="204.00" y1="86.15" x2="213.00" y2="86.15" stroke="#2a2a2a" stroke-width="2.3"/>
<line x1="204.00" y1="139.10" x2="213.00" y2="139.10" stroke="#2a2a2a" stroke-width="2.3"/>
<line x1="204.00" y1="192.05" x2="213.00" y2="192.05" stroke="#2a2a2a" stroke-width="2.3"/>
<line x1="204.00" y1="245.00" x2="213.00" y2="245.00" stroke="#2a2a2a" stroke-width="2.3"/>
<line x1="204.00" y1="297.95" x2="213.00" y2="297.95" stroke="#2a2a2a" stroke-width="2.3"/>
<line x1="204.00" y1="350.90" x2="213.00" y2="350.90" stroke="#2a2a2a" stroke-width="2.3"/>
<line x1="204.00" y1="403.85" x2="213.00" y2="403.85" stroke="#2a2a2a" stroke-width="2.3"/>
<line x1="204.00" y1="456.80" x2="213.00" y2="456.80" stroke="#2a2a2a" stroke-width="2.3"/>
<rect x="632.9" y="33.2" width="389.4" height="423.6" fill="none" stroke="#2a2a2a" stroke-width="2.6"/>
<line x1="643.60" y1="456.80" x2="643.60" y2="447.80" stroke="#2a2a2a" stroke-width="2.3"/>
<line x1="822.30" y1="456.80" x2="822.30" y2="447.80" stroke="#2a2a2a" stroke-width="2.3"/>
<line x1="1001.00" y1="456.80" x2="1001.00" y2="447.80" stroke="#2a2a2a" stroke-width="2.3"/>
<rect x="1061.0" y="33.2" width="389.4" height="423.6" fill="none" stroke="#2a2a2a" stroke-width="2.6"/>
<line x1="1071.70" y1="456.80" x2="1071.70" y2="447.80" stroke="#2a2a2a" stroke-width="2.3"/>
<line x1="1250.40" y1="456.80" x2="1250.40" y2="447.80" stroke="#2a2a2a" stroke-width="2.3"/>
<line x1="1429.10" y1="456.80" x2="1429.10" y2="447.80" stroke="#2a2a2a" stroke-width="2.3"/>
<rect x="204.0" y="542.4" width="389.4" height="423.6" fill="none" stroke="#2a2a2a" stroke-width="2.6"/>
<line x1="214.70" y1="966.00" x2="214.70" y2="957.00" stroke="#2a2a2a" stroke-width="2.3"/>
<line x1="393.40" y1="966.00" x2="393.40" y2="957.00" stroke="#2a2a2a" stroke-width="2.3"/>
<line x1="572.10" y1="966.00" x2="572.10" y2="957.00" stroke="#2a2a2a" stroke-width="2.3"/>
<line x1="204.00" y1="542.40" x2="213.00" y2="542.40" stroke="#2a2a2a" stroke-width="2.3"/>
<line x1="204.00" y1="627.12" x2="213.00" y2="627.12" stroke="#2a2a2a" stroke-width="2.3"/>
<line x1="204.00" y1="711.84" x2="213.00" y2="711.84" stroke="#2a2a2a" stroke-width="2.3"/>
<line x1="204.00" y1="796.56" x2="213.00" y2="796.56" stroke="#2a2a2a" stroke-width="2.3"/>
<line x1="204.00" y1="881.28" x2="213.00" y2="881.28" stroke="#2a2a2a" stroke-width="2.3"/>
<line x1="204.00" y1="966.00" x2="213.00" y2="966.00" stroke="#2a2a2a" stroke-width="2.3"/>
<rect x="632.9" y="542.4" width="389.4" height="423.6" fill="none" stroke="#2a2a2a" stroke-width="2.6"/>
<line x1="643.60" y1="966.00" x2="643.60" y2="957.00" stroke="#2a2a2a" stroke-width="2.3"/>
<line x1="822.30" y1="966.00" x2="822.30" y2="957.00" stroke="#2a2a2a" stroke-width="2.3"/>
<line x1="1001.00" y1="966.00" x2="1001.00" y2="957.00" stroke="#2a2a2a" stroke-width="2.3"/>
<rect x="1061.0" y="542.4" width="389.4" height="423.6" fill="none" stroke="#2a2a2a" stroke-width="2.6"/>
<line x1="1071.70" y1="966.00" x2="1071.70" y2="957.00" stroke="#2a2a2a" stroke-width="2.3"/>
<line x1="1250.40" y1="966.00" x2="1250.40" y2="957.00" stroke="#2a2a2a" stroke-width="2.3"/>
<line x1="1429.10" y1="966.00" x2="1429.10" y2="957.00" stroke="#2a2a2a" stroke-width="2.3"/>
<text transform="scale(1.04,1)" x="180.92 197.53 214.93" y="488.00 488.00 488.00" font-size="29.2" font-family="Liberation Sans, sans-serif" fill="#111">323</text>
<text transform="scale(1.04,1)" x="352.75 369.66 386.76" y="488.00 488.00 488.00" font-size="29.2" font-family="Liberation Sans, sans-serif" fill="#111">373</text>
<text transform="scale(1.04,1)" x="524.90 541.55 558.95" y="488.00 488.00 488.00" font-size="29.2" font-family="Liberation Sans, sans-serif" fill="#111">423</text>
<text transform="scale(1.04,1)" x="593.32 609.94 627.34" y="488.00 488.00 488.00" font-size="29.2" font-family="Liberation Sans, sans-serif" fill="#111">323</text>
<text transform="scale(1.04,1)" x="765.15 782.06 799.16" y="488.00 488.00 488.00" font-size="29.2" font-family="Liberation Sans, sans-serif" fill="#111">373</text>
<text transform="scale(1.04,1)" x="937.30 953.96 971.36" y="488.00 488.00 488.00" font-size="29.2" font-family="Liberation Sans, sans-serif" fill="#111">423</text>
<text transform="scale(1.04,1)" x="1004.96 1021.57 1038.97" y="488.00 488.00 488.00" font-size="29.2" font-family="Liberation Sans, sans-serif" fill="#111">323</text>
<text transform="scale(1.04,1)" x="1176.79 1193.70 1210.80" y="488.00 488.00 488.00" font-size="29.2" font-family="Liberation Sans, sans-serif" fill="#111">373</text>
<text transform="scale(1.04,1)" x="1348.94 1365.59 1382.99" y="488.00 488.00 488.00" font-size="29.2" font-family="Liberation Sans, sans-serif" fill="#111">423</text>
<text transform="scale(1.04,1)" x="180.92 197.53 214.93" y="997.30 997.30 997.30" font-size="29.2" font-family="Liberation Sans, sans-serif" fill="#111">323</text>
<text transform="scale(1.04,1)" x="352.75 369.66 386.76" y="997.30 997.30 997.30" font-size="29.2" font-family="Liberation Sans, sans-serif" fill="#111">373</text>
<text transform="scale(1.04,1)" x="524.90 541.55 558.95" y="997.30 997.30 997.30" font-size="29.2" font-family="Liberation Sans, sans-serif" fill="#111">423</text>
<text transform="scale(1.04,1)" x="593.32 609.94 627.34" y="997.30 997.30 997.30" font-size="29.2" font-family="Liberation Sans, sans-serif" fill="#111">323</text>
<text transform="scale(1.04,1)" x="765.15 782.06 799.16" y="997.30 997.30 997.30" font-size="29.2" font-family="Liberation Sans, sans-serif" fill="#111">373</text>
<text transform="scale(1.04,1)" x="937.30 953.96 971.36" y="997.30 997.30 997.30" font-size="29.2" font-family="Liberation Sans, sans-serif" fill="#111">423</text>
<text transform="scale(1.04,1)" x="1004.96 1021.57 1038.97" y="997.30 997.30 997.30" font-size="29.2" font-family="Liberation Sans, sans-serif" fill="#111">323</text>
<text transform="scale(1.04,1)" x="1176.79 1193.70 1210.80" y="997.30 997.30 997.30" font-size="29.2" font-family="Liberation Sans, sans-serif" fill="#111">373</text>
<text transform="scale(1.04,1)" x="1348.94 1365.59 1382.99" y="997.30 997.30 997.30" font-size="29.2" font-family="Liberation Sans, sans-serif" fill="#111">423</text>
<text transform="scale(1.04,1)" x="127.88 144.69 153.03 170.39" y="44.40 44.40 44.40 44.40" font-size="29.2" font-family="Liberation Sans, sans-serif" fill="#111">0.28</text>
<text transform="scale(1.04,1)" x="127.55 144.36 152.70 170.06" y="97.35 97.35 97.35 97.35" font-size="29.2" font-family="Liberation Sans, sans-serif" fill="#111">0.24</text>
<text transform="scale(1.04,1)" x="127.83 144.64 152.98 170.34" y="150.30 150.30 150.30 150.30" font-size="29.2" font-family="Liberation Sans, sans-serif" fill="#111">0.20</text>
<text transform="scale(1.04,1)" x="127.74 144.54 153.08 170.24" y="203.25 203.25 203.25 203.25" font-size="29.2" font-family="Liberation Sans, sans-serif" fill="#111">0.16</text>
<text transform="scale(1.04,1)" x="128.73 145.54 154.07 170.89" y="256.20 256.20 256.20 256.20" font-size="29.2" font-family="Liberation Sans, sans-serif" fill="#111">0.12</text>
<text transform="scale(1.04,1)" x="127.88 144.69 153.38 170.39" y="309.15 309.15 309.15 309.15" font-size="29.2" font-family="Liberation Sans, sans-serif" fill="#111">0.08</text>
<text transform="scale(1.04,1)" x="127.55 144.36 153.06 170.06" y="362.10 362.10 362.10 362.10" font-size="29.2" font-family="Liberation Sans, sans-serif" fill="#111">0.04</text>
<text transform="scale(1.04,1)" x="127.83 144.64 153.33 170.34" y="415.05 415.05 415.05 415.05" font-size="29.2" font-family="Liberation Sans, sans-serif" fill="#111">0.00</text>
<text transform="scale(1.04,1)" x="107.44 127.55 144.36 153.06 170.06" y="469.30 468.00 468.00 468.00 468.00" font-size="29.2" font-family="Liberation Sans, sans-serif" fill="#111">−0.04</text>
<text transform="scale(1.04,1)" x="153.28 170.34" y="553.40 553.40" font-size="29.2" font-family="Liberation Sans, sans-serif" fill="#111">70</text>
<text transform="scale(1.04,1)" x="153.33 170.34" y="638.12 638.12" font-size="29.2" font-family="Liberation Sans, sans-serif" fill="#111">60</text>
<text transform="scale(1.04,1)" x="153.23 170.34" y="722.84 722.84" font-size="29.2" font-family="Liberation Sans, sans-serif" fill="#111">50</text>
<text transform="scale(1.04,1)" x="153.33 170.34" y="807.56 807.56" font-size="29.2" font-family="Liberation Sans, sans-serif" fill="#111">40</text>
<text transform="scale(1.04,1)" x="153.37 170.34" y="892.28 892.28" font-size="29.2" font-family="Liberation Sans, sans-serif" fill="#111">30</text>
<text transform="scale(1.04,1)" x="152.98 170.34" y="977.00 977.00" font-size="29.2" font-family="Liberation Sans, sans-serif" fill="#111">20</text>
<text transform="scale(1.04,1)" x="341.24 360.06 376.57 392.58 407.92" y="1035.50 1035.50 1035.50 1035.50 1035.50" font-size="29.2" font-family="Liberation Sans, sans-serif" fill="#111">Epoch</text>
<text transform="scale(1.04,1)" x="753.07 771.88 788.40 804.41 819.75" y="1035.50 1035.50 1035.50 1035.50 1035.50" font-size="29.2" font-family="Liberation Sans, sans-serif" fill="#111">Epoch</text>
<text transform="scale(1.04,1)" x="1165.09 1183.90 1200.42 1216.43 1231.77" y="1035.50 1035.50 1035.50 1035.50 1035.50" font-size="29.2" font-family="Liberation Sans, sans-serif" fill="#111">Epoch</text>
<g transform="translate(91.3,0) rotate(-90)"><text transform="scale(1.04,1)" x="-414.95 -394.52 -366.14 -348.06 -338.21 -321.52 -305.13 -289.09 -274.62 -257.92 -241.31 -224.01 -213.71 -207.12 -183.61 -166.82 -150.15 -144.24 -126.41 -103.24 -91.63 -65.55" y="0.00 0.00 0.00 0.00 0.00 0.00 0.00 0.00 0.00 0.00 0.00 0.00 0.00 0.00 0.00 0.00 0.00 0.00 0.00 0.00 0.00 0.00" font-size="29.2" font-family="Liberation Sans, sans-serif" fill="#111">DDTroposphericdelay(m)</text></g>
<g transform="translate(141.0,0) rotate(-90)"><text transform="scale(1.04,1)" x="-870.58 -851.75 -844.57 -827.58 -813.25 -794.72 -784.82 -777.75 -760.96 -736.76 -718.92 -702.08 -684.79 -677.61 -653.09 -641.99 -624.99 -608.40 -590.47" y="0.00 0.00 0.00 0.00 0.00 0.00 0.00 0.00 0.00 0.00 0.00 0.00 0.00 0.00 0.00 0.00 0.00 0.00 0.00" font-size="29.2" font-family="Liberation Sans, sans-serif" fill="#111">Elevationangle(deg)</text></g>
<text x="9.4" y="275.5" font-size="40" font-family="Liberation Serif, serif" fill="#111" textLength="43.2" lengthAdjust="spacingAndGlyphs">(<tspan dy="-1" stroke="#111" stroke-width="1.5">a</tspan><tspan dy="1">)</tspan></text>
<text x="7.6" y="799.0" font-size="40" font-family="Liberation Serif, serif" fill="#111" textLength="46.4" lengthAdjust="spacingAndGlyphs">(<tspan dy="-0.6" stroke="#111" stroke-width="1.5">b</tspan><tspan dy="0.6">)</tspan></text>
</g>
</svg>
</body></html>
